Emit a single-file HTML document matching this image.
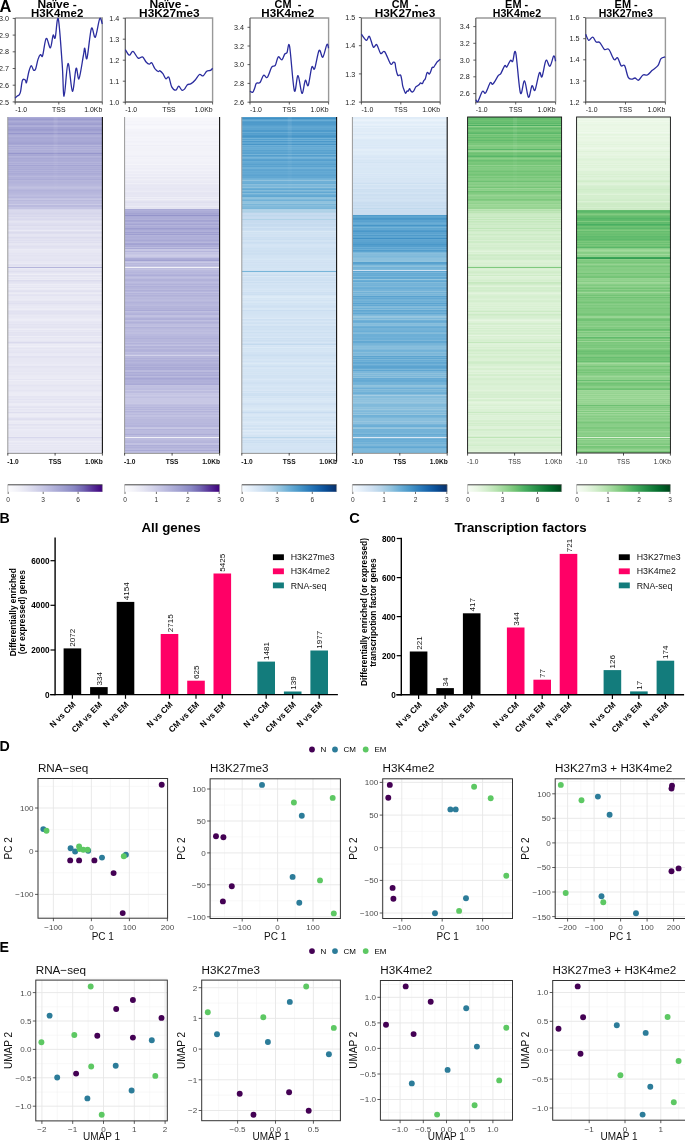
<!DOCTYPE html>
<html><head><meta charset="utf-8"><style>
html,body{margin:0;padding:0;background:#fff;}
svg{display:block;will-change:transform;}
</style></head><body>
<svg width="685" height="1142" viewBox="0 0 685 1142">
<rect width="685" height="1142" fill="#fff"/>
<text x="37.4" y="8.1" textLength="39.4" lengthAdjust="spacingAndGlyphs" font-weight="bold" font-size="10" font-family="Liberation Sans, sans-serif">Naïve -</text>
<text x="31.1" y="17.0" textLength="52.2" lengthAdjust="spacingAndGlyphs" font-weight="bold" font-size="10" font-family="Liberation Sans, sans-serif">H3K4me2</text>
<path d="M15.2,18.0 H102.3 V102.0" fill="none" stroke="#999" stroke-width="1.4"/>
<path d="M15.2,18.0 V102.0 H102.3" fill="none" stroke="#666" stroke-width="1.3"/>
<line x1="12.7" y1="18.4" x2="15.2" y2="18.4" stroke="#3a3a3a" stroke-width="0.8"/>
<text x="9.1" y="21.0" text-anchor="end" font-size="7.2" fill="#222" font-family="Liberation Sans, sans-serif">3.0</text>
<line x1="12.7" y1="35.1" x2="15.2" y2="35.1" stroke="#3a3a3a" stroke-width="0.8"/>
<text x="9.1" y="37.7" text-anchor="end" font-size="7.2" fill="#222" font-family="Liberation Sans, sans-serif">2.9</text>
<line x1="12.7" y1="51.8" x2="15.2" y2="51.8" stroke="#3a3a3a" stroke-width="0.8"/>
<text x="9.1" y="54.4" text-anchor="end" font-size="7.2" fill="#222" font-family="Liberation Sans, sans-serif">2.8</text>
<line x1="12.7" y1="68.5" x2="15.2" y2="68.5" stroke="#3a3a3a" stroke-width="0.8"/>
<text x="9.1" y="71.1" text-anchor="end" font-size="7.2" fill="#222" font-family="Liberation Sans, sans-serif">2.7</text>
<line x1="12.7" y1="85.2" x2="15.2" y2="85.2" stroke="#3a3a3a" stroke-width="0.8"/>
<text x="9.1" y="87.8" text-anchor="end" font-size="7.2" fill="#222" font-family="Liberation Sans, sans-serif">2.6</text>
<line x1="12.7" y1="101.9" x2="15.2" y2="101.9" stroke="#3a3a3a" stroke-width="0.8"/>
<text x="9.1" y="104.5" text-anchor="end" font-size="7.2" fill="#222" font-family="Liberation Sans, sans-serif">2.5</text>
<line x1="15.2" y1="102.0" x2="15.2" y2="104.5" stroke="#3a3a3a" stroke-width="0.8"/>
<line x1="58.8" y1="102.0" x2="58.8" y2="104.5" stroke="#3a3a3a" stroke-width="0.8"/>
<line x1="102.3" y1="102.0" x2="102.3" y2="104.5" stroke="#3a3a3a" stroke-width="0.8"/>
<text x="15.2" y="112.4" font-size="6.9" fill="#1a1a1a" font-family="Liberation Sans, sans-serif">-1.0</text>
<text x="58.8" y="112.4" text-anchor="middle" font-size="6.9" fill="#1a1a1a" font-family="Liberation Sans, sans-serif">TSS</text>
<text x="102.3" y="112.4" text-anchor="end" font-size="6.9" fill="#1a1a1a" font-family="Liberation Sans, sans-serif">1.0Kb</text>
<path d="M15.2,98.2 C15.5,97.8 16.7,96.6 17.3,96.1 C17.9,95.6 18.4,95.8 18.9,95.1 C19.4,94.4 19.9,94.4 20.5,91.9 C21.1,89.5 21.6,82.4 22.4,80.4 C23.2,78.4 24.5,79.6 25.2,79.9 C25.9,80.2 25.9,83.9 26.5,82.5 C27.1,81.1 28.1,74.3 28.9,71.5 C29.7,68.7 30.5,65.9 31.3,65.7 C32.1,65.5 32.9,69.7 33.6,70.2 C34.3,70.7 35.0,70.6 35.7,68.8 C36.4,67.0 37.2,61.8 38.0,59.4 C38.8,57.0 39.7,55.2 40.5,54.6 C41.3,54.0 41.6,58.4 42.6,55.7 C43.6,53.0 44.9,39.7 46.2,38.4 C47.5,37.1 49.2,48.3 50.4,47.8 C51.5,47.3 52.3,36.9 53.1,35.2 C53.9,33.5 54.3,40.5 55.2,37.8 C56.1,35.1 57.1,14.5 58.3,18.9 C59.5,23.3 61.2,51.3 62.2,64.2 C63.2,77.1 63.1,96.5 64.1,96.4 C65.1,96.3 66.6,64.4 68.0,63.5 C69.4,62.6 71.1,90.4 72.4,91.2 C73.8,92.0 75.0,70.4 76.1,68.3 C77.2,66.2 77.8,80.9 79.0,78.8 C80.2,76.7 82.4,60.6 83.4,55.5 C84.4,50.4 84.2,47.7 84.8,48.2 C85.4,48.7 85.9,61.7 87.0,58.4 C88.1,55.1 90.0,32.0 91.4,28.5 C92.8,25.0 93.9,38.8 95.3,37.2 C96.7,35.6 98.5,20.9 99.7,18.7 C100.9,16.5 101.9,23.2 102.3,24.1" fill="none" stroke="#2a2c9e" stroke-width="1.3" stroke-linejoin="round"/>
<text x="149.4" y="8.1" textLength="39.4" lengthAdjust="spacingAndGlyphs" font-weight="bold" font-size="10" font-family="Liberation Sans, sans-serif">Naïve -</text>
<text x="139.1" y="17.0" textLength="60.6" lengthAdjust="spacingAndGlyphs" font-weight="bold" font-size="10" font-family="Liberation Sans, sans-serif">H3K27me3</text>
<path d="M125.3,18.0 H212.6 V102.0" fill="none" stroke="#999" stroke-width="1.4"/>
<path d="M125.3,18.0 V102.0 H212.6" fill="none" stroke="#666" stroke-width="1.3"/>
<line x1="122.8" y1="18.2" x2="125.3" y2="18.2" stroke="#3a3a3a" stroke-width="0.8"/>
<text x="119.2" y="20.8" text-anchor="end" font-size="7.2" fill="#222" font-family="Liberation Sans, sans-serif">1.4</text>
<line x1="122.8" y1="39.2" x2="125.3" y2="39.2" stroke="#3a3a3a" stroke-width="0.8"/>
<text x="119.2" y="41.8" text-anchor="end" font-size="7.2" fill="#222" font-family="Liberation Sans, sans-serif">1.3</text>
<line x1="122.8" y1="60.2" x2="125.3" y2="60.2" stroke="#3a3a3a" stroke-width="0.8"/>
<text x="119.2" y="62.8" text-anchor="end" font-size="7.2" fill="#222" font-family="Liberation Sans, sans-serif">1.2</text>
<line x1="122.8" y1="81.2" x2="125.3" y2="81.2" stroke="#3a3a3a" stroke-width="0.8"/>
<text x="119.2" y="83.8" text-anchor="end" font-size="7.2" fill="#222" font-family="Liberation Sans, sans-serif">1.1</text>
<line x1="122.8" y1="102.2" x2="125.3" y2="102.2" stroke="#3a3a3a" stroke-width="0.8"/>
<text x="119.2" y="104.8" text-anchor="end" font-size="7.2" fill="#222" font-family="Liberation Sans, sans-serif">1.0</text>
<line x1="125.3" y1="102.0" x2="125.3" y2="104.5" stroke="#3a3a3a" stroke-width="0.8"/>
<line x1="168.9" y1="102.0" x2="168.9" y2="104.5" stroke="#3a3a3a" stroke-width="0.8"/>
<line x1="212.6" y1="102.0" x2="212.6" y2="104.5" stroke="#3a3a3a" stroke-width="0.8"/>
<text x="125.3" y="112.4" font-size="6.9" fill="#1a1a1a" font-family="Liberation Sans, sans-serif">-1.0</text>
<text x="168.9" y="112.4" text-anchor="middle" font-size="6.9" fill="#1a1a1a" font-family="Liberation Sans, sans-serif">TSS</text>
<text x="212.6" y="112.4" text-anchor="end" font-size="6.9" fill="#1a1a1a" font-family="Liberation Sans, sans-serif">1.0Kb</text>
<path d="M125.3,49.6 C126.0,50.5 128.0,54.9 129.3,55.2 C130.6,55.5 131.5,50.9 133.0,51.4 C134.5,51.9 136.5,57.2 138.1,58.1 C139.7,59.0 141.2,56.2 142.5,56.9 C143.8,57.5 145.0,60.8 146.1,62.0 C147.2,63.2 148.4,64.1 149.3,64.2 C150.2,64.3 150.8,62.1 151.7,62.8 C152.6,63.5 153.8,67.1 154.9,68.6 C156.0,70.0 157.2,71.1 158.1,71.5 C158.9,71.9 159.2,70.4 160.0,70.8 C160.8,71.2 161.9,72.4 162.9,73.7 C163.9,75.0 164.8,78.2 165.8,78.8 C166.8,79.4 167.8,75.8 168.8,77.1 C169.8,78.4 170.5,84.7 171.7,86.9 C172.9,89.1 174.6,90.3 175.8,90.2 C177.0,90.1 177.7,86.1 178.7,86.1 C179.7,86.1 180.9,89.7 181.9,90.2 C182.9,90.7 183.6,90.0 184.5,89.1 C185.4,88.2 186.4,85.6 187.4,84.7 C188.4,83.8 189.4,84.6 190.7,83.9 C192.0,83.2 193.6,81.9 195.0,80.3 C196.4,78.7 198.1,75.2 199.4,74.5 C200.8,73.8 201.9,76.5 203.1,75.9 C204.3,75.4 205.5,72.1 206.7,71.2 C207.9,70.3 209.4,70.9 210.4,70.4 C211.4,69.9 212.2,68.7 212.6,68.3" fill="none" stroke="#2a2c9e" stroke-width="1.3" stroke-linejoin="round"/>
<text x="274.6" y="8.1" textLength="26.7" lengthAdjust="spacingAndGlyphs" font-weight="bold" font-size="10" font-family="Liberation Sans, sans-serif">CM  -</text>
<text x="261.3" y="17.0" textLength="52.9" lengthAdjust="spacingAndGlyphs" font-weight="bold" font-size="10" font-family="Liberation Sans, sans-serif">H3K4me2</text>
<path d="M250.0,18.0 H328.6 V102.0" fill="none" stroke="#999" stroke-width="1.4"/>
<path d="M250.0,18.0 V102.0 H328.6" fill="none" stroke="#666" stroke-width="1.3"/>
<line x1="247.5" y1="27.3" x2="250.0" y2="27.3" stroke="#3a3a3a" stroke-width="0.8"/>
<text x="243.9" y="29.9" text-anchor="end" font-size="7.2" fill="#222" font-family="Liberation Sans, sans-serif">3.4</text>
<line x1="247.5" y1="46.0" x2="250.0" y2="46.0" stroke="#3a3a3a" stroke-width="0.8"/>
<text x="243.9" y="48.6" text-anchor="end" font-size="7.2" fill="#222" font-family="Liberation Sans, sans-serif">3.2</text>
<line x1="247.5" y1="64.6" x2="250.0" y2="64.6" stroke="#3a3a3a" stroke-width="0.8"/>
<text x="243.9" y="67.2" text-anchor="end" font-size="7.2" fill="#222" font-family="Liberation Sans, sans-serif">3.0</text>
<line x1="247.5" y1="83.4" x2="250.0" y2="83.4" stroke="#3a3a3a" stroke-width="0.8"/>
<text x="243.9" y="86.0" text-anchor="end" font-size="7.2" fill="#222" font-family="Liberation Sans, sans-serif">2.8</text>
<line x1="247.5" y1="102.2" x2="250.0" y2="102.2" stroke="#3a3a3a" stroke-width="0.8"/>
<text x="243.9" y="104.8" text-anchor="end" font-size="7.2" fill="#222" font-family="Liberation Sans, sans-serif">2.6</text>
<line x1="250.0" y1="102.0" x2="250.0" y2="104.5" stroke="#3a3a3a" stroke-width="0.8"/>
<line x1="289.3" y1="102.0" x2="289.3" y2="104.5" stroke="#3a3a3a" stroke-width="0.8"/>
<line x1="328.6" y1="102.0" x2="328.6" y2="104.5" stroke="#3a3a3a" stroke-width="0.8"/>
<text x="250.0" y="112.4" font-size="6.9" fill="#1a1a1a" font-family="Liberation Sans, sans-serif">-1.0</text>
<text x="289.3" y="112.4" text-anchor="middle" font-size="6.9" fill="#1a1a1a" font-family="Liberation Sans, sans-serif">TSS</text>
<text x="328.6" y="112.4" text-anchor="end" font-size="6.9" fill="#1a1a1a" font-family="Liberation Sans, sans-serif">1.0Kb</text>
<path d="M250.0,91.2 C250.4,91.4 251.9,92.9 252.7,92.3 C253.5,91.7 254.3,89.1 254.9,87.6 C255.5,86.1 255.5,84.0 256.4,83.2 C257.2,82.4 258.8,83.8 260.0,82.5 C261.2,81.2 262.4,76.0 263.6,75.2 C264.8,74.4 266.0,78.7 267.3,77.4 C268.6,76.1 270.4,69.2 271.7,67.2 C273.0,65.2 274.2,67.1 275.3,65.4 C276.4,63.7 277.1,57.8 278.2,56.9 C279.3,56.0 280.8,60.4 281.9,59.9 C283.0,59.4 283.9,55.2 284.8,54.0 C285.7,52.8 286.2,53.9 287.0,52.6 C287.8,51.3 288.4,40.1 289.6,46.4 C290.8,52.7 292.9,85.6 294.3,90.5 C295.7,95.4 296.7,75.1 298.0,75.6 C299.3,76.1 300.8,92.6 302.0,93.4 C303.2,94.2 304.3,81.6 305.3,80.3 C306.3,79.0 307.1,87.6 308.2,85.4 C309.3,83.2 310.7,70.0 311.8,67.2 C312.9,64.4 313.5,71.4 314.7,68.6 C315.9,65.8 317.8,52.3 319.1,50.4 C320.5,48.5 321.5,58.2 322.8,57.2 C324.1,56.2 325.9,46.0 326.9,44.5 C327.9,43.0 328.3,47.6 328.6,48.2" fill="none" stroke="#2a2c9e" stroke-width="1.3" stroke-linejoin="round"/>
<text x="391.7" y="8.1" textLength="26.6" lengthAdjust="spacingAndGlyphs" font-weight="bold" font-size="10" font-family="Liberation Sans, sans-serif">CM  -</text>
<text x="374.7" y="17.0" textLength="60.6" lengthAdjust="spacingAndGlyphs" font-weight="bold" font-size="10" font-family="Liberation Sans, sans-serif">H3K27me3</text>
<path d="M361.4,18.0 H440.2 V102.0" fill="none" stroke="#999" stroke-width="1.4"/>
<path d="M361.4,18.0 V102.0 H440.2" fill="none" stroke="#666" stroke-width="1.3"/>
<line x1="358.9" y1="17.5" x2="361.4" y2="17.5" stroke="#3a3a3a" stroke-width="0.8"/>
<text x="355.3" y="20.1" text-anchor="end" font-size="7.2" fill="#222" font-family="Liberation Sans, sans-serif">1.5</text>
<line x1="358.9" y1="45.7" x2="361.4" y2="45.7" stroke="#3a3a3a" stroke-width="0.8"/>
<text x="355.3" y="48.3" text-anchor="end" font-size="7.2" fill="#222" font-family="Liberation Sans, sans-serif">1.4</text>
<line x1="358.9" y1="73.9" x2="361.4" y2="73.9" stroke="#3a3a3a" stroke-width="0.8"/>
<text x="355.3" y="76.5" text-anchor="end" font-size="7.2" fill="#222" font-family="Liberation Sans, sans-serif">1.3</text>
<line x1="358.9" y1="102.1" x2="361.4" y2="102.1" stroke="#3a3a3a" stroke-width="0.8"/>
<text x="355.3" y="104.7" text-anchor="end" font-size="7.2" fill="#222" font-family="Liberation Sans, sans-serif">1.2</text>
<line x1="361.4" y1="102.0" x2="361.4" y2="104.5" stroke="#3a3a3a" stroke-width="0.8"/>
<line x1="400.8" y1="102.0" x2="400.8" y2="104.5" stroke="#3a3a3a" stroke-width="0.8"/>
<line x1="440.2" y1="102.0" x2="440.2" y2="104.5" stroke="#3a3a3a" stroke-width="0.8"/>
<text x="361.4" y="112.4" font-size="6.9" fill="#1a1a1a" font-family="Liberation Sans, sans-serif">-1.0</text>
<text x="400.8" y="112.4" text-anchor="middle" font-size="6.9" fill="#1a1a1a" font-family="Liberation Sans, sans-serif">TSS</text>
<text x="440.2" y="112.4" text-anchor="end" font-size="6.9" fill="#1a1a1a" font-family="Liberation Sans, sans-serif">1.0Kb</text>
<path d="M361.4,34.2 C362.2,35.2 365.0,39.9 366.3,40.3 C367.6,40.7 368.2,35.3 369.4,36.4 C370.6,37.5 372.1,45.6 373.3,47.0 C374.5,48.4 375.6,43.6 376.8,44.7 C378.0,45.8 379.3,52.2 380.6,53.4 C381.9,54.6 383.1,50.0 384.7,51.7 C386.3,53.5 389.1,62.1 390.5,63.9 C391.9,65.7 392.6,62.3 393.4,62.2 C394.1,62.1 394.6,62.2 395.0,63.1 C395.4,64.0 395.4,65.9 395.7,67.5 C396.0,69.1 396.4,71.3 396.8,72.6 C397.2,73.9 397.5,75.1 397.9,75.5 C398.3,75.9 398.9,75.2 399.4,75.2 C399.9,75.2 400.4,74.6 400.8,75.5 C401.2,76.4 401.6,79.0 401.9,80.7 C402.2,82.4 402.3,84.2 402.7,85.8 C403.1,87.4 403.6,88.8 404.1,90.1 C404.6,91.4 405.1,93.3 405.6,93.4 C406.1,93.5 406.6,91.3 407.0,90.9 C407.4,90.5 407.7,91.6 408.1,91.2 C408.5,90.8 409.2,88.8 409.6,88.7 C410.0,88.6 410.1,90.0 410.5,90.5 C410.9,91.0 411.7,91.9 412.2,92.0 C412.7,92.1 413.0,92.0 413.6,91.2 C414.2,90.4 415.1,87.8 415.8,86.9 C416.5,86.0 417.0,86.2 417.6,85.8 C418.2,85.4 419.0,84.8 419.5,84.3 C420.0,83.8 420.0,82.9 420.5,82.8 C421.0,82.7 421.8,83.9 422.4,83.6 C422.9,83.2 423.3,81.5 423.8,80.7 C424.3,79.9 424.8,80.2 425.3,78.8 C425.9,77.4 426.4,73.4 427.1,72.6 C427.8,71.8 428.7,74.3 429.3,74.1 C429.9,73.9 430.3,72.3 430.8,71.2 C431.3,70.1 431.7,68.2 432.2,67.5 C432.7,66.8 433.2,67.6 433.7,67.2 C434.2,66.8 434.5,65.9 435.1,65.0 C435.7,64.1 436.5,62.7 437.3,61.7 C438.1,60.8 439.7,59.7 440.2,59.3" fill="none" stroke="#2a2c9e" stroke-width="1.3" stroke-linejoin="round"/>
<text x="505.1" y="8.1" textLength="23.1" lengthAdjust="spacingAndGlyphs" font-weight="bold" font-size="10" font-family="Liberation Sans, sans-serif">EM -</text>
<text x="492.8" y="17.0" textLength="48.3" lengthAdjust="spacingAndGlyphs" font-weight="bold" font-size="10" font-family="Liberation Sans, sans-serif">H3K4me2</text>
<path d="M475.8,18.0 H555.6 V102.0" fill="none" stroke="#999" stroke-width="1.4"/>
<path d="M475.8,18.0 V102.0 H555.6" fill="none" stroke="#666" stroke-width="1.3"/>
<line x1="473.3" y1="26.6" x2="475.8" y2="26.6" stroke="#3a3a3a" stroke-width="0.8"/>
<text x="469.7" y="29.2" text-anchor="end" font-size="7.2" fill="#222" font-family="Liberation Sans, sans-serif">3.4</text>
<line x1="473.3" y1="43.3" x2="475.8" y2="43.3" stroke="#3a3a3a" stroke-width="0.8"/>
<text x="469.7" y="45.9" text-anchor="end" font-size="7.2" fill="#222" font-family="Liberation Sans, sans-serif">3.2</text>
<line x1="473.3" y1="60.1" x2="475.8" y2="60.1" stroke="#3a3a3a" stroke-width="0.8"/>
<text x="469.7" y="62.7" text-anchor="end" font-size="7.2" fill="#222" font-family="Liberation Sans, sans-serif">3.0</text>
<line x1="473.3" y1="76.8" x2="475.8" y2="76.8" stroke="#3a3a3a" stroke-width="0.8"/>
<text x="469.7" y="79.4" text-anchor="end" font-size="7.2" fill="#222" font-family="Liberation Sans, sans-serif">2.8</text>
<line x1="473.3" y1="93.6" x2="475.8" y2="93.6" stroke="#3a3a3a" stroke-width="0.8"/>
<text x="469.7" y="96.2" text-anchor="end" font-size="7.2" fill="#222" font-family="Liberation Sans, sans-serif">2.6</text>
<line x1="475.8" y1="102.0" x2="475.8" y2="104.5" stroke="#3a3a3a" stroke-width="0.8"/>
<line x1="515.7" y1="102.0" x2="515.7" y2="104.5" stroke="#3a3a3a" stroke-width="0.8"/>
<line x1="555.6" y1="102.0" x2="555.6" y2="104.5" stroke="#3a3a3a" stroke-width="0.8"/>
<text x="475.8" y="112.4" font-size="6.9" fill="#1a1a1a" font-family="Liberation Sans, sans-serif">-1.0</text>
<text x="515.7" y="112.4" text-anchor="middle" font-size="6.9" fill="#1a1a1a" font-family="Liberation Sans, sans-serif">TSS</text>
<text x="555.6" y="112.4" text-anchor="end" font-size="6.9" fill="#1a1a1a" font-family="Liberation Sans, sans-serif">1.0Kb</text>
<path d="M475.8,99.9 C476.2,100.1 476.9,102.7 478.0,101.3 C479.1,99.9 481.1,92.8 482.4,91.4 C483.7,90.0 484.3,94.4 485.6,92.9 C486.9,91.5 489.1,84.2 490.3,82.7 C491.5,81.2 491.6,85.3 492.9,84.1 C494.2,82.9 496.9,77.5 498.2,75.7 C499.5,74.0 499.7,75.3 500.8,73.6 C501.9,71.9 503.7,66.8 504.7,65.7 C505.7,64.6 505.9,67.8 506.9,66.9 C507.8,66.0 509.4,61.3 510.4,60.4 C511.4,59.5 511.8,62.6 512.7,61.3 C513.6,60.0 514.4,47.3 515.7,52.6 C517.0,57.9 518.9,88.2 520.4,92.9 C521.9,97.6 523.1,80.2 524.5,80.9 C525.9,81.6 527.2,96.4 528.5,97.2 C529.8,98.0 530.9,87.0 532.0,85.8 C533.1,84.6 533.8,92.4 535.0,90.2 C536.2,88.0 538.2,75.0 539.4,72.7 C540.6,70.5 540.9,78.8 542.0,76.7 C543.1,74.7 544.7,62.1 546.0,60.4 C547.3,58.6 548.6,66.9 549.9,66.2 C551.2,65.5 552.8,56.9 553.7,56.1 C554.7,55.3 555.3,60.4 555.6,61.3" fill="none" stroke="#2a2c9e" stroke-width="1.3" stroke-linejoin="round"/>
<text x="614.6" y="8.1" textLength="23.1" lengthAdjust="spacingAndGlyphs" font-weight="bold" font-size="10" font-family="Liberation Sans, sans-serif">EM -</text>
<text x="598.7" y="17.0" textLength="54.1" lengthAdjust="spacingAndGlyphs" font-weight="bold" font-size="10" font-family="Liberation Sans, sans-serif">H3K27me3</text>
<path d="M585.7,18.0 H665.4 V102.0" fill="none" stroke="#999" stroke-width="1.4"/>
<path d="M585.7,18.0 V102.0 H665.4" fill="none" stroke="#666" stroke-width="1.3"/>
<line x1="583.2" y1="17.5" x2="585.7" y2="17.5" stroke="#3a3a3a" stroke-width="0.8"/>
<text x="579.6" y="20.1" text-anchor="end" font-size="7.2" fill="#222" font-family="Liberation Sans, sans-serif">1.6</text>
<line x1="583.2" y1="38.7" x2="585.7" y2="38.7" stroke="#3a3a3a" stroke-width="0.8"/>
<text x="579.6" y="41.3" text-anchor="end" font-size="7.2" fill="#222" font-family="Liberation Sans, sans-serif">1.5</text>
<line x1="583.2" y1="59.8" x2="585.7" y2="59.8" stroke="#3a3a3a" stroke-width="0.8"/>
<text x="579.6" y="62.4" text-anchor="end" font-size="7.2" fill="#222" font-family="Liberation Sans, sans-serif">1.4</text>
<line x1="583.2" y1="81.0" x2="585.7" y2="81.0" stroke="#3a3a3a" stroke-width="0.8"/>
<text x="579.6" y="83.6" text-anchor="end" font-size="7.2" fill="#222" font-family="Liberation Sans, sans-serif">1.3</text>
<line x1="583.2" y1="102.1" x2="585.7" y2="102.1" stroke="#3a3a3a" stroke-width="0.8"/>
<text x="579.6" y="104.7" text-anchor="end" font-size="7.2" fill="#222" font-family="Liberation Sans, sans-serif">1.2</text>
<line x1="585.7" y1="102.0" x2="585.7" y2="104.5" stroke="#3a3a3a" stroke-width="0.8"/>
<line x1="625.5" y1="102.0" x2="625.5" y2="104.5" stroke="#3a3a3a" stroke-width="0.8"/>
<line x1="665.4" y1="102.0" x2="665.4" y2="104.5" stroke="#3a3a3a" stroke-width="0.8"/>
<text x="585.7" y="112.4" font-size="6.9" fill="#1a1a1a" font-family="Liberation Sans, sans-serif">-1.0</text>
<text x="625.5" y="112.4" text-anchor="middle" font-size="6.9" fill="#1a1a1a" font-family="Liberation Sans, sans-serif">TSS</text>
<text x="665.4" y="112.4" text-anchor="end" font-size="6.9" fill="#1a1a1a" font-family="Liberation Sans, sans-serif">1.0Kb</text>
<path d="M585.7,34.2 C586.2,35.2 587.5,39.8 588.7,40.3 C589.9,40.8 591.5,36.8 592.7,37.1 C594.0,37.4 595.0,41.1 596.2,42.0 C597.4,42.9 598.3,41.2 599.7,42.4 C601.1,43.6 602.9,48.2 604.4,49.4 C605.9,50.6 607.2,47.7 608.8,49.4 C610.4,51.1 612.6,58.2 614.1,59.6 C615.6,61.0 616.4,56.8 617.6,57.8 C618.8,58.8 619.9,64.4 621.1,65.7 C622.3,67.0 623.4,63.8 624.6,65.7 C625.8,67.6 626.9,74.8 628.1,77.1 C629.3,79.3 630.4,79.0 631.6,79.2 C632.8,79.4 633.9,77.8 635.1,78.0 C636.3,78.2 637.3,80.7 638.6,80.2 C639.9,79.7 641.5,75.9 643.0,75.0 C644.5,74.1 645.7,75.8 647.3,75.0 C648.9,74.2 650.8,71.6 652.6,70.1 C654.4,68.5 656.5,67.6 657.9,65.7 C659.3,63.8 659.8,60.2 661.0,58.7 C662.2,57.2 664.5,57.2 665.2,56.9" fill="none" stroke="#2a2c9e" stroke-width="1.3" stroke-linejoin="round"/>
<line x1="336.6" y1="453" x2="336.6" y2="461.6" stroke="#111" stroke-width="1.1"/>
<text x="-0.6" y="11.7" font-weight="bold" font-size="16.4" font-family="Liberation Sans, sans-serif">A</text>
<rect x="7.8" y="117" width="94.6" height="1" fill="#ababd7"/>
<rect x="7.8" y="118" width="94.6" height="1" fill="#a1a1d1"/>
<rect x="7.8" y="119" width="94.6" height="1" fill="#9b9bce"/>
<rect x="7.8" y="120" width="94.6" height="1" fill="#a5a5d3"/>
<rect x="7.8" y="121" width="94.6" height="1" fill="#adadd7"/>
<rect x="7.8" y="122" width="94.6" height="1" fill="#a6a6d4"/>
<rect x="7.8" y="123" width="94.6" height="1" fill="#a1a1d1"/>
<rect x="7.8" y="124" width="94.6" height="1" fill="#9d9dcf"/>
<rect x="7.8" y="125" width="94.6" height="1" fill="#acacd7"/>
<rect x="7.8" y="126" width="94.6" height="1" fill="#afafd9"/>
<rect x="7.8" y="127" width="94.6" height="1" fill="#a2a2d2"/>
<rect x="7.8" y="128" width="94.6" height="1" fill="#a2a2d2"/>
<rect x="7.8" y="129" width="94.6" height="1" fill="#9b9bce"/>
<rect x="7.8" y="130" width="94.6" height="1" fill="#9e9ed0"/>
<rect x="7.8" y="131" width="94.6" height="1" fill="#a6a6d4"/>
<rect x="7.8" y="132" width="94.6" height="1" fill="#a9a9d5"/>
<rect x="7.8" y="133" width="94.6" height="1" fill="#9696cc"/>
<rect x="7.8" y="134" width="94.6" height="1" fill="#a6a6d4"/>
<rect x="7.8" y="135" width="94.6" height="1" fill="#adadd7"/>
<rect x="7.8" y="136" width="94.6" height="1" fill="#b0b0d9"/>
<rect x="7.8" y="137" width="94.6" height="1" fill="#a9a9d5"/>
<rect x="7.8" y="138" width="94.6" height="1" fill="#a7a7d4"/>
<rect x="7.8" y="139" width="94.6" height="1" fill="#aaaad6"/>
<rect x="7.8" y="140" width="94.6" height="1" fill="#a9a9d6"/>
<rect x="7.8" y="141" width="94.6" height="1" fill="#a7a7d4"/>
<rect x="7.8" y="142" width="94.6" height="1" fill="#a4a4d3"/>
<rect x="7.8" y="143" width="94.6" height="1" fill="#a1a1d1"/>
<rect x="7.8" y="144" width="94.6" height="1" fill="#a7a7d4"/>
<rect x="7.8" y="145" width="94.6" height="1" fill="#b6b6dc"/>
<rect x="7.8" y="146" width="94.6" height="1" fill="#a8a8d5"/>
<rect x="7.8" y="147" width="94.6" height="1" fill="#b3b3da"/>
<rect x="7.8" y="148" width="94.6" height="1" fill="#adadd8"/>
<rect x="7.8" y="149" width="94.6" height="1" fill="#b5b5db"/>
<rect x="7.8" y="150" width="94.6" height="1" fill="#adadd7"/>
<rect x="7.8" y="151" width="94.6" height="1" fill="#b0b0d9"/>
<rect x="7.8" y="152" width="94.6" height="1" fill="#ababd6"/>
<rect x="7.8" y="153" width="94.6" height="1" fill="#9696cc"/>
<rect x="7.8" y="154" width="94.6" height="1" fill="#a9a9d5"/>
<rect x="7.8" y="155" width="94.6" height="1" fill="#a7a7d4"/>
<rect x="7.8" y="156" width="94.6" height="1" fill="#b4b4db"/>
<rect x="7.8" y="157" width="94.6" height="1" fill="#b0b0d9"/>
<rect x="7.8" y="158" width="94.6" height="1" fill="#a9a9d5"/>
<rect x="7.8" y="159" width="94.6" height="1" fill="#adadd8"/>
<rect x="7.8" y="160" width="94.6" height="1" fill="#ababd7"/>
<rect x="7.8" y="161" width="94.6" height="1" fill="#adadd7"/>
<rect x="7.8" y="162" width="94.6" height="1" fill="#b4b4db"/>
<rect x="7.8" y="163" width="94.6" height="1" fill="#acacd7"/>
<rect x="7.8" y="164" width="94.6" height="1" fill="#b3b3db"/>
<rect x="7.8" y="165" width="94.6" height="1" fill="#a4a4d3"/>
<rect x="7.8" y="166" width="94.6" height="1" fill="#b0b0d9"/>
<rect x="7.8" y="167" width="94.6" height="1" fill="#acacd7"/>
<rect x="7.8" y="168" width="94.6" height="1" fill="#afafd8"/>
<rect x="7.8" y="169" width="94.6" height="1" fill="#aaaad6"/>
<rect x="7.8" y="170" width="94.6" height="1" fill="#b3b3db"/>
<rect x="7.8" y="171" width="94.6" height="1" fill="#ababd7"/>
<rect x="7.8" y="172" width="94.6" height="1" fill="#b1b1da"/>
<rect x="7.8" y="173" width="94.6" height="1" fill="#aaaad6"/>
<rect x="7.8" y="174" width="94.6" height="1" fill="#adadd8"/>
<rect x="7.8" y="175" width="94.6" height="1" fill="#b1b1da"/>
<rect x="7.8" y="176" width="94.6" height="1" fill="#b8b8dd"/>
<rect x="7.8" y="177" width="94.6" height="1" fill="#b0b0d9"/>
<rect x="7.8" y="178" width="94.6" height="1" fill="#b1b1da"/>
<rect x="7.8" y="179" width="94.6" height="1" fill="#ababd6"/>
<rect x="7.8" y="180" width="94.6" height="1" fill="#b7b7dc"/>
<rect x="7.8" y="181" width="94.6" height="1" fill="#b4b4db"/>
<rect x="7.8" y="182" width="94.6" height="1" fill="#b3b3db"/>
<rect x="7.8" y="183" width="94.6" height="1" fill="#b5b5dc"/>
<rect x="7.8" y="184" width="94.6" height="1" fill="#b7b7dc"/>
<rect x="7.8" y="185" width="94.6" height="1" fill="#b8b8dd"/>
<rect x="7.8" y="186" width="94.6" height="1" fill="#bdbddf"/>
<rect x="7.8" y="187" width="94.6" height="1" fill="#c1c1e1"/>
<rect x="7.8" y="188" width="94.6" height="1" fill="#bebee0"/>
<rect x="7.8" y="189" width="94.6" height="1" fill="#b8b8dd"/>
<rect x="7.8" y="190" width="94.6" height="1" fill="#b2b2da"/>
<rect x="7.8" y="191" width="94.6" height="1" fill="#b5b5dc"/>
<rect x="7.8" y="192" width="94.6" height="1" fill="#b6b6dc"/>
<rect x="7.8" y="193" width="94.6" height="1" fill="#b8b8dd"/>
<rect x="7.8" y="194" width="94.6" height="1" fill="#babade"/>
<rect x="7.8" y="195" width="94.6" height="1" fill="#bebee0"/>
<rect x="7.8" y="196" width="94.6" height="1" fill="#bbbbdf"/>
<rect x="7.8" y="197" width="94.6" height="1" fill="#b6b6dc"/>
<rect x="7.8" y="198" width="94.6" height="1" fill="#c2c2e2"/>
<rect x="7.8" y="199" width="94.6" height="1" fill="#c6c6e4"/>
<rect x="7.8" y="200" width="94.6" height="1" fill="#b9b9dd"/>
<rect x="7.8" y="201" width="94.6" height="1" fill="#c0c0e1"/>
<rect x="7.8" y="202" width="94.6" height="1" fill="#bfbfe0"/>
<rect x="7.8" y="203" width="94.6" height="1" fill="#bfbfe1"/>
<rect x="7.8" y="204" width="94.6" height="1" fill="#cbcbe6"/>
<rect x="7.8" y="205" width="94.6" height="1" fill="#babade"/>
<rect x="7.8" y="206" width="94.6" height="1" fill="#bbbbdf"/>
<rect x="7.8" y="207" width="94.6" height="1" fill="#c5c5e4"/>
<rect x="7.8" y="208" width="94.6" height="1" fill="#c4c4e3"/>
<rect x="7.8" y="209" width="94.6" height="1" fill="#d4d4eb"/>
<rect x="7.8" y="210" width="94.6" height="1" fill="#dadaed"/>
<rect x="7.8" y="211" width="94.6" height="1" fill="#d9d9ed"/>
<rect x="7.8" y="212" width="94.6" height="1" fill="#d8d8ec"/>
<rect x="7.8" y="213" width="94.6" height="1" fill="#d5d5eb"/>
<rect x="7.8" y="214" width="94.6" height="1" fill="#d8d8ec"/>
<rect x="7.8" y="215" width="94.6" height="1" fill="#dbdbee"/>
<rect x="7.8" y="216" width="94.6" height="1" fill="#d7d7ec"/>
<rect x="7.8" y="217" width="94.6" height="1" fill="#dfdfef"/>
<rect x="7.8" y="218" width="94.6" height="1" fill="#dbdbee"/>
<rect x="7.8" y="219" width="94.6" height="1" fill="#d9d9ed"/>
<rect x="7.8" y="220" width="94.6" height="1" fill="#dfdfef"/>
<rect x="7.8" y="221" width="94.6" height="1" fill="#e5e5f2"/>
<rect x="7.8" y="222" width="94.6" height="1" fill="#e3e3f1"/>
<rect x="7.8" y="223" width="94.6" height="1" fill="#dfdff0"/>
<rect x="7.8" y="224" width="94.6" height="1" fill="#dedeef"/>
<rect x="7.8" y="225" width="94.6" height="1" fill="#dbdbed"/>
<rect x="7.8" y="226" width="94.6" height="1" fill="#e3e3f1"/>
<rect x="7.8" y="227" width="94.6" height="1" fill="#e2e2f1"/>
<rect x="7.8" y="228" width="94.6" height="1" fill="#dfdff0"/>
<rect x="7.8" y="229" width="94.6" height="1" fill="#e2e2f1"/>
<rect x="7.8" y="230" width="94.6" height="1" fill="#eaeaf5"/>
<rect x="7.8" y="231" width="94.6" height="1" fill="#e1e1f0"/>
<rect x="7.8" y="232" width="94.6" height="1" fill="#dbdbed"/>
<rect x="7.8" y="233" width="94.6" height="1" fill="#dedeef"/>
<rect x="7.8" y="234" width="94.6" height="1" fill="#e5e5f2"/>
<rect x="7.8" y="235" width="94.6" height="1" fill="#e5e5f2"/>
<rect x="7.8" y="236" width="94.6" height="1" fill="#e3e3f1"/>
<rect x="7.8" y="237" width="94.6" height="1" fill="#dcdcee"/>
<rect x="7.8" y="238" width="94.6" height="1" fill="#e0e0f0"/>
<rect x="7.8" y="239" width="94.6" height="1" fill="#e3e3f1"/>
<rect x="7.8" y="240" width="94.6" height="1" fill="#dfdff0"/>
<rect x="7.8" y="241" width="94.6" height="1" fill="#e4e4f2"/>
<rect x="7.8" y="242" width="94.6" height="1" fill="#dfdfef"/>
<rect x="7.8" y="243" width="94.6" height="1" fill="#e6e6f3"/>
<rect x="7.8" y="244" width="94.6" height="1" fill="#e7e7f3"/>
<rect x="7.8" y="245" width="94.6" height="1" fill="#e3e3f1"/>
<rect x="7.8" y="246" width="94.6" height="1" fill="#e0e0f0"/>
<rect x="7.8" y="247" width="94.6" height="1" fill="#e2e2f1"/>
<rect x="7.8" y="248" width="94.6" height="1" fill="#e4e4f2"/>
<rect x="7.8" y="249" width="94.6" height="1" fill="#ebebf5"/>
<rect x="7.8" y="250" width="94.6" height="1" fill="#e8e8f4"/>
<rect x="7.8" y="251" width="94.6" height="1" fill="#e8e8f3"/>
<rect x="7.8" y="252" width="94.6" height="1" fill="#e7e7f3"/>
<rect x="7.8" y="253" width="94.6" height="1" fill="#e4e4f2"/>
<rect x="7.8" y="254" width="94.6" height="1" fill="#e6e6f3"/>
<rect x="7.8" y="255" width="94.6" height="1" fill="#e3e3f1"/>
<rect x="7.8" y="256" width="94.6" height="1" fill="#e5e5f2"/>
<rect x="7.8" y="257" width="94.6" height="1" fill="#e6e6f3"/>
<rect x="7.8" y="258" width="94.6" height="1" fill="#e5e5f2"/>
<rect x="7.8" y="259" width="94.6" height="1" fill="#e4e4f2"/>
<rect x="7.8" y="260" width="94.6" height="1" fill="#e3e3f1"/>
<rect x="7.8" y="261" width="94.6" height="1" fill="#e7e7f3"/>
<rect x="7.8" y="262" width="94.6" height="1" fill="#e7e7f3"/>
<rect x="7.8" y="263" width="94.6" height="1" fill="#eaeaf5"/>
<rect x="7.8" y="264" width="94.6" height="1" fill="#e1e1f1"/>
<rect x="7.8" y="265" width="94.6" height="1" fill="#e0e0f0"/>
<rect x="7.8" y="266" width="94.6" height="1" fill="#e5e5f2"/>
<rect x="7.8" y="267" width="94.6" height="1" fill="#b4b4db"/>
<rect x="7.8" y="268" width="94.6" height="1" fill="#eaeaf5"/>
<rect x="7.8" y="269" width="94.6" height="1" fill="#e6e6f3"/>
<rect x="7.8" y="270" width="94.6" height="1" fill="#e5e5f2"/>
<rect x="7.8" y="271" width="94.6" height="1" fill="#dfdfef"/>
<rect x="7.8" y="272" width="94.6" height="1" fill="#e4e4f2"/>
<rect x="7.8" y="273" width="94.6" height="1" fill="#e8e8f4"/>
<rect x="7.8" y="274" width="94.6" height="1" fill="#eeeef6"/>
<rect x="7.8" y="275" width="94.6" height="1" fill="#e3e3f1"/>
<rect x="7.8" y="276" width="94.6" height="1" fill="#e5e5f2"/>
<rect x="7.8" y="277" width="94.6" height="1" fill="#ebebf5"/>
<rect x="7.8" y="278" width="94.6" height="1" fill="#e6e6f3"/>
<rect x="7.8" y="279" width="94.6" height="1" fill="#ebebf5"/>
<rect x="7.8" y="280" width="94.6" height="1" fill="#dcdcee"/>
<rect x="7.8" y="281" width="94.6" height="1" fill="#e1e1f0"/>
<rect x="7.8" y="282" width="94.6" height="1" fill="#e4e4f2"/>
<rect x="7.8" y="283" width="94.6" height="1" fill="#e6e6f3"/>
<rect x="7.8" y="284" width="94.6" height="1" fill="#ededf6"/>
<rect x="7.8" y="285" width="94.6" height="1" fill="#e8e8f4"/>
<rect x="7.8" y="286" width="94.6" height="1" fill="#ebebf5"/>
<rect x="7.8" y="287" width="94.6" height="1" fill="#e5e5f2"/>
<rect x="7.8" y="288" width="94.6" height="1" fill="#ededf6"/>
<rect x="7.8" y="289" width="94.6" height="1" fill="#eaeaf5"/>
<rect x="7.8" y="290" width="94.6" height="1" fill="#e3e3f1"/>
<rect x="7.8" y="291" width="94.6" height="1" fill="#e1e1f0"/>
<rect x="7.8" y="292" width="94.6" height="1" fill="#e9e9f4"/>
<rect x="7.8" y="293" width="94.6" height="1" fill="#ececf5"/>
<rect x="7.8" y="294" width="94.6" height="1" fill="#e5e5f2"/>
<rect x="7.8" y="295" width="94.6" height="1" fill="#e3e3f2"/>
<rect x="7.8" y="296" width="94.6" height="1" fill="#e9e9f4"/>
<rect x="7.8" y="297" width="94.6" height="1" fill="#e9e9f4"/>
<rect x="7.8" y="298" width="94.6" height="1" fill="#e9e9f4"/>
<rect x="7.8" y="299" width="94.6" height="1" fill="#ebebf5"/>
<rect x="7.8" y="300" width="94.6" height="1" fill="#e9e9f4"/>
<rect x="7.8" y="301" width="94.6" height="1" fill="#e3e3f1"/>
<rect x="7.8" y="302" width="94.6" height="1" fill="#e4e4f2"/>
<rect x="7.8" y="303" width="94.6" height="1" fill="#e0e0f0"/>
<rect x="7.8" y="304" width="94.6" height="1" fill="#e6e6f3"/>
<rect x="7.8" y="305" width="94.6" height="1" fill="#e7e7f3"/>
<rect x="7.8" y="306" width="94.6" height="1" fill="#eaeaf5"/>
<rect x="7.8" y="307" width="94.6" height="1" fill="#e8e8f4"/>
<rect x="7.8" y="308" width="94.6" height="1" fill="#ebebf5"/>
<rect x="7.8" y="309" width="94.6" height="1" fill="#ededf6"/>
<rect x="7.8" y="310" width="94.6" height="1" fill="#e6e6f3"/>
<rect x="7.8" y="311" width="94.6" height="1" fill="#e2e2f1"/>
<rect x="7.8" y="312" width="94.6" height="1" fill="#e3e3f2"/>
<rect x="7.8" y="313" width="94.6" height="1" fill="#e2e2f1"/>
<rect x="7.8" y="314" width="94.6" height="1" fill="#e5e5f2"/>
<rect x="7.8" y="315" width="94.6" height="1" fill="#e9e9f4"/>
<rect x="7.8" y="316" width="94.6" height="1" fill="#e7e7f3"/>
<rect x="7.8" y="317" width="94.6" height="1" fill="#e8e8f4"/>
<rect x="7.8" y="318" width="94.6" height="1" fill="#eaeaf5"/>
<rect x="7.8" y="319" width="94.6" height="1" fill="#ededf6"/>
<rect x="7.8" y="320" width="94.6" height="1" fill="#ececf6"/>
<rect x="7.8" y="321" width="94.6" height="1" fill="#e8e8f4"/>
<rect x="7.8" y="322" width="94.6" height="1" fill="#e6e6f3"/>
<rect x="7.8" y="323" width="94.6" height="1" fill="#e8e8f4"/>
<rect x="7.8" y="324" width="94.6" height="1" fill="#e3e3f1"/>
<rect x="7.8" y="325" width="94.6" height="1" fill="#e6e6f3"/>
<rect x="7.8" y="326" width="94.6" height="1" fill="#e5e5f2"/>
<rect x="7.8" y="327" width="94.6" height="1" fill="#e3e3f1"/>
<rect x="7.8" y="328" width="94.6" height="1" fill="#e9e9f4"/>
<rect x="7.8" y="329" width="94.6" height="1" fill="#ededf6"/>
<rect x="7.8" y="330" width="94.6" height="1" fill="#e6e6f3"/>
<rect x="7.8" y="331" width="94.6" height="1" fill="#e9e9f4"/>
<rect x="7.8" y="332" width="94.6" height="1" fill="#e3e3f1"/>
<rect x="7.8" y="333" width="94.6" height="1" fill="#e5e5f2"/>
<rect x="7.8" y="334" width="94.6" height="1" fill="#e4e4f2"/>
<rect x="7.8" y="335" width="94.6" height="1" fill="#e4e4f2"/>
<rect x="7.8" y="336" width="94.6" height="1" fill="#ededf6"/>
<rect x="7.8" y="337" width="94.6" height="1" fill="#e6e6f3"/>
<rect x="7.8" y="338" width="94.6" height="1" fill="#e9e9f4"/>
<rect x="7.8" y="339" width="94.6" height="1" fill="#eaeaf4"/>
<rect x="7.8" y="340" width="94.6" height="1" fill="#e9e9f4"/>
<rect x="7.8" y="341" width="94.6" height="1" fill="#e5e5f2"/>
<rect x="7.8" y="342" width="94.6" height="1" fill="#dadaed"/>
<rect x="7.8" y="343" width="94.6" height="1" fill="#e4e4f2"/>
<rect x="7.8" y="344" width="94.6" height="1" fill="#ececf5"/>
<rect x="7.8" y="345" width="94.6" height="1" fill="#eaeaf5"/>
<rect x="7.8" y="346" width="94.6" height="1" fill="#efeff7"/>
<rect x="7.8" y="347" width="94.6" height="1" fill="#e9e9f4"/>
<rect x="7.8" y="348" width="94.6" height="1" fill="#e5e5f2"/>
<rect x="7.8" y="349" width="94.6" height="1" fill="#e9e9f4"/>
<rect x="7.8" y="350" width="94.6" height="1" fill="#e7e7f3"/>
<rect x="7.8" y="351" width="94.6" height="1" fill="#e6e6f3"/>
<rect x="7.8" y="352" width="94.6" height="1" fill="#e4e4f2"/>
<rect x="7.8" y="353" width="94.6" height="1" fill="#e9e9f4"/>
<rect x="7.8" y="354" width="94.6" height="1" fill="#eaeaf5"/>
<rect x="7.8" y="355" width="94.6" height="1" fill="#eaeaf5"/>
<rect x="7.8" y="356" width="94.6" height="1" fill="#e2e2f1"/>
<rect x="7.8" y="357" width="94.6" height="1" fill="#e3e3f1"/>
<rect x="7.8" y="358" width="94.6" height="1" fill="#e7e7f3"/>
<rect x="7.8" y="359" width="94.6" height="1" fill="#e7e7f3"/>
<rect x="7.8" y="360" width="94.6" height="1" fill="#e7e7f3"/>
<rect x="7.8" y="361" width="94.6" height="1" fill="#e7e7f3"/>
<rect x="7.8" y="362" width="94.6" height="1" fill="#e8e8f4"/>
<rect x="7.8" y="363" width="94.6" height="1" fill="#e8e8f4"/>
<rect x="7.8" y="364" width="94.6" height="1" fill="#ebebf5"/>
<rect x="7.8" y="365" width="94.6" height="1" fill="#eaeaf5"/>
<rect x="7.8" y="366" width="94.6" height="1" fill="#e3e3f1"/>
<rect x="7.8" y="367" width="94.6" height="1" fill="#e5e5f2"/>
<rect x="7.8" y="368" width="94.6" height="1" fill="#e7e7f3"/>
<rect x="7.8" y="369" width="94.6" height="1" fill="#e8e8f4"/>
<rect x="7.8" y="370" width="94.6" height="1" fill="#e7e7f3"/>
<rect x="7.8" y="371" width="94.6" height="1" fill="#e6e6f3"/>
<rect x="7.8" y="372" width="94.6" height="1" fill="#e9e9f4"/>
<rect x="7.8" y="373" width="94.6" height="1" fill="#e7e7f3"/>
<rect x="7.8" y="374" width="94.6" height="1" fill="#e7e7f3"/>
<rect x="7.8" y="375" width="94.6" height="1" fill="#eaeaf4"/>
<rect x="7.8" y="376" width="94.6" height="1" fill="#eaeaf5"/>
<rect x="7.8" y="377" width="94.6" height="1" fill="#ebebf5"/>
<rect x="7.8" y="378" width="94.6" height="1" fill="#ebebf5"/>
<rect x="7.8" y="379" width="94.6" height="1" fill="#e5e5f2"/>
<rect x="7.8" y="380" width="94.6" height="1" fill="#eeeef7"/>
<rect x="7.8" y="381" width="94.6" height="1" fill="#e9e9f4"/>
<rect x="7.8" y="382" width="94.6" height="1" fill="#e9e9f4"/>
<rect x="7.8" y="383" width="94.6" height="1" fill="#eaeaf4"/>
<rect x="7.8" y="384" width="94.6" height="1" fill="#e8e8f3"/>
<rect x="7.8" y="385" width="94.6" height="1" fill="#e4e4f2"/>
<rect x="7.8" y="386" width="94.6" height="1" fill="#e7e7f3"/>
<rect x="7.8" y="387" width="94.6" height="1" fill="#e8e8f4"/>
<rect x="7.8" y="388" width="94.6" height="1" fill="#e9e9f4"/>
<rect x="7.8" y="389" width="94.6" height="1" fill="#e8e8f4"/>
<rect x="7.8" y="390" width="94.6" height="1" fill="#e5e5f2"/>
<rect x="7.8" y="391" width="94.6" height="1" fill="#e8e8f4"/>
<rect x="7.8" y="392" width="94.6" height="1" fill="#ebebf5"/>
<rect x="7.8" y="393" width="94.6" height="1" fill="#ececf6"/>
<rect x="7.8" y="394" width="94.6" height="1" fill="#ececf5"/>
<rect x="7.8" y="395" width="94.6" height="1" fill="#ececf6"/>
<rect x="7.8" y="396" width="94.6" height="1" fill="#e5e5f2"/>
<rect x="7.8" y="397" width="94.6" height="1" fill="#e6e6f3"/>
<rect x="7.8" y="398" width="94.6" height="1" fill="#e8e8f4"/>
<rect x="7.8" y="399" width="94.6" height="1" fill="#e3e3f2"/>
<rect x="7.8" y="400" width="94.6" height="1" fill="#e9e9f4"/>
<rect x="7.8" y="401" width="94.6" height="1" fill="#e6e6f3"/>
<rect x="7.8" y="402" width="94.6" height="1" fill="#e5e5f2"/>
<rect x="7.8" y="403" width="94.6" height="1" fill="#ececf6"/>
<rect x="7.8" y="404" width="94.6" height="1" fill="#ededf6"/>
<rect x="7.8" y="405" width="94.6" height="1" fill="#ebebf5"/>
<rect x="7.8" y="406" width="94.6" height="1" fill="#e5e5f2"/>
<rect x="7.8" y="407" width="94.6" height="1" fill="#e3e3f1"/>
<rect x="7.8" y="408" width="94.6" height="1" fill="#ebebf5"/>
<rect x="7.8" y="409" width="94.6" height="1" fill="#e5e5f2"/>
<rect x="7.8" y="410" width="94.6" height="1" fill="#e8e8f4"/>
<rect x="7.8" y="411" width="94.6" height="1" fill="#e9e9f4"/>
<rect x="7.8" y="412" width="94.6" height="1" fill="#dedeef"/>
<rect x="7.8" y="413" width="94.6" height="1" fill="#e9e9f4"/>
<rect x="7.8" y="414" width="94.6" height="1" fill="#ededf6"/>
<rect x="7.8" y="415" width="94.6" height="1" fill="#ececf5"/>
<rect x="7.8" y="416" width="94.6" height="1" fill="#ececf6"/>
<rect x="7.8" y="417" width="94.6" height="1" fill="#e7e7f3"/>
<rect x="7.8" y="418" width="94.6" height="1" fill="#e1e1f1"/>
<rect x="7.8" y="419" width="94.6" height="1" fill="#dfdfef"/>
<rect x="7.8" y="420" width="94.6" height="1" fill="#e7e7f3"/>
<rect x="7.8" y="421" width="94.6" height="1" fill="#ededf6"/>
<rect x="7.8" y="422" width="94.6" height="1" fill="#eaeaf5"/>
<rect x="7.8" y="423" width="94.6" height="1" fill="#ebebf5"/>
<rect x="7.8" y="424" width="94.6" height="1" fill="#e2e2f1"/>
<rect x="7.8" y="425" width="94.6" height="1" fill="#e5e5f2"/>
<rect x="7.8" y="426" width="94.6" height="1" fill="#eaeaf5"/>
<rect x="7.8" y="427" width="94.6" height="1" fill="#e6e6f3"/>
<rect x="7.8" y="428" width="94.6" height="1" fill="#e6e6f3"/>
<rect x="7.8" y="429" width="94.6" height="1" fill="#ececf6"/>
<rect x="7.8" y="430" width="94.6" height="1" fill="#eaeaf5"/>
<rect x="7.8" y="431" width="94.6" height="1" fill="#e9e9f4"/>
<rect x="7.8" y="432" width="94.6" height="1" fill="#e8e8f4"/>
<rect x="7.8" y="433" width="94.6" height="1" fill="#e8e8f3"/>
<rect x="7.8" y="434" width="94.6" height="1" fill="#e9e9f4"/>
<rect x="7.8" y="435" width="94.6" height="1" fill="#e8e8f3"/>
<rect x="7.8" y="436" width="94.6" height="1" fill="#eaeaf4"/>
<rect x="7.8" y="437" width="94.6" height="1" fill="#d7d7ec"/>
<rect x="7.8" y="438" width="94.6" height="1" fill="#e4e4f2"/>
<rect x="7.8" y="439" width="94.6" height="1" fill="#e6e6f3"/>
<rect x="7.8" y="440" width="94.6" height="1" fill="#e7e7f3"/>
<rect x="7.8" y="441" width="94.6" height="1" fill="#ededf6"/>
<rect x="7.8" y="442" width="94.6" height="1" fill="#e9e9f4"/>
<rect x="7.8" y="443" width="94.6" height="1" fill="#e6e6f3"/>
<rect x="7.8" y="444" width="94.6" height="1" fill="#ebebf5"/>
<rect x="7.8" y="445" width="94.6" height="1" fill="#e6e6f3"/>
<rect x="7.8" y="446" width="94.6" height="1" fill="#e9e9f4"/>
<rect x="7.8" y="447" width="94.6" height="1" fill="#e7e7f3"/>
<rect x="7.8" y="448" width="94.6" height="1" fill="#e8e8f4"/>
<rect x="7.8" y="449" width="94.6" height="1" fill="#e8e8f3"/>
<rect x="7.8" y="450" width="94.6" height="1" fill="#e4e4f2"/>
<rect x="7.8" y="451" width="94.6" height="1" fill="#e9e9f4"/>
<rect x="7.8" y="452" width="94.6" height="1" fill="#e4e4f2"/>
<linearGradient id="g11" x1="0" y1="0" x2="0" y2="1"><stop offset="0" stop-color="#fff" stop-opacity="0.08"/><stop offset="1" stop-color="#fff" stop-opacity="0"/></linearGradient>
<rect x="53.6" y="117" width="4" height="83" fill="url(#g11)"/>
<line x1="7.8" y1="117" x2="7.8" y2="453" stroke="#999" stroke-width="1"/>
<line x1="7.8" y1="453.4" x2="102.4" y2="453.4" stroke="#888" stroke-width="0.9"/>
<line x1="102.4" y1="117" x2="102.4" y2="453" stroke="#111" stroke-width="1.1"/>
<line x1="7.8" y1="453" x2="7.8" y2="455.6" stroke="#222" stroke-width="0.8"/>
<line x1="55.1" y1="453" x2="55.1" y2="455.6" stroke="#222" stroke-width="0.8"/>
<line x1="102.4" y1="453" x2="102.4" y2="455.6" stroke="#222" stroke-width="0.8"/>
<text x="7.3" y="464.2" font-weight="bold" font-size="6.6" fill="#111" font-family="Liberation Sans, sans-serif">-1.0</text>
<text x="55.1" y="464.2" text-anchor="middle" font-weight="bold" font-size="6.6" fill="#111" font-family="Liberation Sans, sans-serif">TSS</text>
<text x="102.9" y="464.2" text-anchor="end" font-weight="bold" font-size="6.6" fill="#111" font-family="Liberation Sans, sans-serif">1.0Kb</text>
<linearGradient id="cb0"><stop offset="0.0" stop-color="#fcfcfe"/><stop offset="0.1" stop-color="#f2f2f8"/><stop offset="0.2" stop-color="#e4e4f2"/><stop offset="0.3" stop-color="#d3d3ea"/><stop offset="0.4" stop-color="#c1c1e2"/><stop offset="0.5" stop-color="#aeaed8"/><stop offset="0.6" stop-color="#9c9cce"/><stop offset="0.7" stop-color="#8987c4"/><stop offset="0.8" stop-color="#7062b0"/><stop offset="0.9" stop-color="#552e96"/><stop offset="1.0" stop-color="#3f007d"/></linearGradient>
<rect x="7.8" y="484.8" width="94.6" height="7.0" fill="url(#cb0)"/>
<line x1="7.8" y1="484.8" x2="102.4" y2="484.8" stroke="#333" stroke-width="0.9"/>
<line x1="7.8" y1="484.8" x2="7.8" y2="491.8" stroke="#999" stroke-width="0.6"/>
<line x1="102.4" y1="484.8" x2="102.4" y2="491.8" stroke="#999" stroke-width="0.6"/>
<line x1="8.2" y1="491.8" x2="8.2" y2="494.0" stroke="#333" stroke-width="0.7"/>
<text x="8.2" y="501.5" text-anchor="middle" font-size="6.6" fill="#333" font-family="Liberation Sans, sans-serif">0</text>
<line x1="43.2" y1="491.8" x2="43.2" y2="494.0" stroke="#333" stroke-width="0.7"/>
<text x="43.2" y="501.5" text-anchor="middle" font-size="6.6" fill="#333" font-family="Liberation Sans, sans-serif">3</text>
<line x1="78.1" y1="491.8" x2="78.1" y2="494.0" stroke="#333" stroke-width="0.7"/>
<text x="78.1" y="501.5" text-anchor="middle" font-size="6.6" fill="#333" font-family="Liberation Sans, sans-serif">6</text>
<rect x="124.6" y="117" width="95.0" height="1" fill="#f9f9fd"/>
<rect x="124.6" y="118" width="95.0" height="1" fill="#f7f7fb"/>
<rect x="124.6" y="119" width="95.0" height="1" fill="#f7f7fb"/>
<rect x="124.6" y="120" width="95.0" height="1" fill="#f7f7fb"/>
<rect x="124.6" y="121" width="95.0" height="1" fill="#f5f5fa"/>
<rect x="124.6" y="122" width="95.0" height="1" fill="#f6f6fb"/>
<rect x="124.6" y="123" width="95.0" height="1" fill="#f6f6fb"/>
<rect x="124.6" y="124" width="95.0" height="1" fill="#f3f3f9"/>
<rect x="124.6" y="125" width="95.0" height="1" fill="#f6f6fb"/>
<rect x="124.6" y="126" width="95.0" height="1" fill="#f8f8fc"/>
<rect x="124.6" y="127" width="95.0" height="1" fill="#f8f8fc"/>
<rect x="124.6" y="128" width="95.0" height="1" fill="#f7f7fb"/>
<rect x="124.6" y="129" width="95.0" height="1" fill="#f4f4fa"/>
<rect x="124.6" y="130" width="95.0" height="1" fill="#f4f4fa"/>
<rect x="124.6" y="131" width="95.0" height="1" fill="#f3f3f9"/>
<rect x="124.6" y="132" width="95.0" height="1" fill="#f2f2f8"/>
<rect x="124.6" y="133" width="95.0" height="1" fill="#f2f2f8"/>
<rect x="124.6" y="134" width="95.0" height="1" fill="#f3f3f9"/>
<rect x="124.6" y="135" width="95.0" height="1" fill="#f2f2f9"/>
<rect x="124.6" y="136" width="95.0" height="1" fill="#f3f3f9"/>
<rect x="124.6" y="137" width="95.0" height="1" fill="#f5f5fa"/>
<rect x="124.6" y="138" width="95.0" height="1" fill="#f3f3f9"/>
<rect x="124.6" y="139" width="95.0" height="1" fill="#f4f4fa"/>
<rect x="124.6" y="140" width="95.0" height="1" fill="#f4f4fa"/>
<rect x="124.6" y="141" width="95.0" height="1" fill="#f1f1f8"/>
<rect x="124.6" y="142" width="95.0" height="1" fill="#f2f2f9"/>
<rect x="124.6" y="143" width="95.0" height="1" fill="#f4f4fa"/>
<rect x="124.6" y="144" width="95.0" height="1" fill="#f4f4f9"/>
<rect x="124.6" y="145" width="95.0" height="1" fill="#efeff7"/>
<rect x="124.6" y="146" width="95.0" height="1" fill="#f3f3f9"/>
<rect x="124.6" y="147" width="95.0" height="1" fill="#f2f2f9"/>
<rect x="124.6" y="148" width="95.0" height="1" fill="#f2f2f8"/>
<rect x="124.6" y="149" width="95.0" height="1" fill="#f2f2f8"/>
<rect x="124.6" y="150" width="95.0" height="1" fill="#f2f2f8"/>
<rect x="124.6" y="151" width="95.0" height="1" fill="#f3f3f9"/>
<rect x="124.6" y="152" width="95.0" height="1" fill="#f3f3f9"/>
<rect x="124.6" y="153" width="95.0" height="1" fill="#f3f3f9"/>
<rect x="124.6" y="154" width="95.0" height="1" fill="#f3f3f9"/>
<rect x="124.6" y="155" width="95.0" height="1" fill="#f1f1f8"/>
<rect x="124.6" y="156" width="95.0" height="1" fill="#efeff7"/>
<rect x="124.6" y="157" width="95.0" height="1" fill="#f3f3f9"/>
<rect x="124.6" y="158" width="95.0" height="1" fill="#f1f1f8"/>
<rect x="124.6" y="159" width="95.0" height="1" fill="#f3f3f9"/>
<rect x="124.6" y="160" width="95.0" height="1" fill="#f3f3f9"/>
<rect x="124.6" y="161" width="95.0" height="1" fill="#f2f2f9"/>
<rect x="124.6" y="162" width="95.0" height="1" fill="#f1f1f8"/>
<rect x="124.6" y="163" width="95.0" height="1" fill="#f1f1f8"/>
<rect x="124.6" y="164" width="95.0" height="1" fill="#f5f5fa"/>
<rect x="124.6" y="165" width="95.0" height="1" fill="#efeff7"/>
<rect x="124.6" y="166" width="95.0" height="1" fill="#f0f0f8"/>
<rect x="124.6" y="167" width="95.0" height="1" fill="#f1f1f8"/>
<rect x="124.6" y="168" width="95.0" height="1" fill="#eeeef7"/>
<rect x="124.6" y="169" width="95.0" height="1" fill="#f0f0f8"/>
<rect x="124.6" y="170" width="95.0" height="1" fill="#f2f2f9"/>
<rect x="124.6" y="171" width="95.0" height="1" fill="#eeeef7"/>
<rect x="124.6" y="172" width="95.0" height="1" fill="#ededf6"/>
<rect x="124.6" y="173" width="95.0" height="1" fill="#f0f0f8"/>
<rect x="124.6" y="174" width="95.0" height="1" fill="#ececf6"/>
<rect x="124.6" y="175" width="95.0" height="1" fill="#ececf6"/>
<rect x="124.6" y="176" width="95.0" height="1" fill="#f0f0f8"/>
<rect x="124.6" y="177" width="95.0" height="1" fill="#e9e9f4"/>
<rect x="124.6" y="178" width="95.0" height="1" fill="#ebebf5"/>
<rect x="124.6" y="179" width="95.0" height="1" fill="#efeff7"/>
<rect x="124.6" y="180" width="95.0" height="1" fill="#ececf5"/>
<rect x="124.6" y="181" width="95.0" height="1" fill="#ebebf5"/>
<rect x="124.6" y="182" width="95.0" height="1" fill="#e9e9f4"/>
<rect x="124.6" y="183" width="95.0" height="1" fill="#efeff7"/>
<rect x="124.6" y="184" width="95.0" height="1" fill="#e9e9f4"/>
<rect x="124.6" y="185" width="95.0" height="1" fill="#e7e7f3"/>
<rect x="124.6" y="186" width="95.0" height="1" fill="#e8e8f4"/>
<rect x="124.6" y="187" width="95.0" height="1" fill="#e8e8f4"/>
<rect x="124.6" y="188" width="95.0" height="1" fill="#e6e6f3"/>
<rect x="124.6" y="189" width="95.0" height="1" fill="#e7e7f3"/>
<rect x="124.6" y="190" width="95.0" height="1" fill="#e8e8f4"/>
<rect x="124.6" y="191" width="95.0" height="1" fill="#ebebf5"/>
<rect x="124.6" y="192" width="95.0" height="1" fill="#e6e6f3"/>
<rect x="124.6" y="193" width="95.0" height="1" fill="#e5e5f2"/>
<rect x="124.6" y="194" width="95.0" height="1" fill="#e6e6f3"/>
<rect x="124.6" y="195" width="95.0" height="1" fill="#e7e7f3"/>
<rect x="124.6" y="196" width="95.0" height="1" fill="#e5e5f2"/>
<rect x="124.6" y="197" width="95.0" height="1" fill="#eeeef7"/>
<rect x="124.6" y="198" width="95.0" height="1" fill="#e7e7f3"/>
<rect x="124.6" y="199" width="95.0" height="1" fill="#eeeef6"/>
<rect x="124.6" y="200" width="95.0" height="1" fill="#e7e7f3"/>
<rect x="124.6" y="201" width="95.0" height="1" fill="#e2e2f1"/>
<rect x="124.6" y="202" width="95.0" height="1" fill="#dfdfef"/>
<rect x="124.6" y="203" width="95.0" height="1" fill="#e5e5f2"/>
<rect x="124.6" y="204" width="95.0" height="1" fill="#e4e4f2"/>
<rect x="124.6" y="205" width="95.0" height="1" fill="#e4e4f2"/>
<rect x="124.6" y="206" width="95.0" height="1" fill="#ebebf5"/>
<rect x="124.6" y="207" width="95.0" height="1" fill="#e3e3f1"/>
<rect x="124.6" y="208" width="95.0" height="1" fill="#e3e3f1"/>
<rect x="124.6" y="209" width="95.0" height="1" fill="#aaaad6"/>
<rect x="124.6" y="210" width="95.0" height="1" fill="#b1b1da"/>
<rect x="124.6" y="211" width="95.0" height="1" fill="#acacd7"/>
<rect x="124.6" y="212" width="95.0" height="1" fill="#ababd6"/>
<rect x="124.6" y="213" width="95.0" height="1" fill="#a3a3d2"/>
<rect x="124.6" y="214" width="95.0" height="1" fill="#a8a8d5"/>
<rect x="124.6" y="215" width="95.0" height="1" fill="#9494ca"/>
<rect x="124.6" y="216" width="95.0" height="1" fill="#aaaad6"/>
<rect x="124.6" y="217" width="95.0" height="1" fill="#adadd8"/>
<rect x="124.6" y="218" width="95.0" height="1" fill="#acacd7"/>
<rect x="124.6" y="219" width="95.0" height="1" fill="#b1b1d9"/>
<rect x="124.6" y="220" width="95.0" height="1" fill="#a3a3d2"/>
<rect x="124.6" y="221" width="95.0" height="1" fill="#a6a6d4"/>
<rect x="124.6" y="222" width="95.0" height="1" fill="#b3b3db"/>
<rect x="124.6" y="223" width="95.0" height="1" fill="#acacd7"/>
<rect x="124.6" y="224" width="95.0" height="1" fill="#a4a4d3"/>
<rect x="124.6" y="225" width="95.0" height="1" fill="#b4b4db"/>
<rect x="124.6" y="226" width="95.0" height="1" fill="#acacd7"/>
<rect x="124.6" y="227" width="95.0" height="1" fill="#adadd8"/>
<rect x="124.6" y="228" width="95.0" height="1" fill="#9d9dcf"/>
<rect x="124.6" y="229" width="95.0" height="1" fill="#a6a6d4"/>
<rect x="124.6" y="230" width="95.0" height="1" fill="#aeaed8"/>
<rect x="124.6" y="231" width="95.0" height="1" fill="#b0b0d9"/>
<rect x="124.6" y="232" width="95.0" height="1" fill="#a0a0d1"/>
<rect x="124.6" y="233" width="95.0" height="1" fill="#adadd7"/>
<rect x="124.6" y="234" width="95.0" height="1" fill="#9e9ed0"/>
<rect x="124.6" y="235" width="95.0" height="1" fill="#b4b4db"/>
<rect x="124.6" y="236" width="95.0" height="1" fill="#afafd9"/>
<rect x="124.6" y="237" width="95.0" height="1" fill="#aeaed8"/>
<rect x="124.6" y="238" width="95.0" height="1" fill="#b1b1da"/>
<rect x="124.6" y="239" width="95.0" height="1" fill="#aeaed8"/>
<rect x="124.6" y="240" width="95.0" height="1" fill="#a8a8d5"/>
<rect x="124.6" y="241" width="95.0" height="1" fill="#b0b0d9"/>
<rect x="124.6" y="242" width="95.0" height="1" fill="#b7b7dc"/>
<rect x="124.6" y="243" width="95.0" height="1" fill="#a5a5d4"/>
<rect x="124.6" y="244" width="95.0" height="1" fill="#a2a2d2"/>
<rect x="124.6" y="245" width="95.0" height="1" fill="#afafd9"/>
<rect x="124.6" y="246" width="95.0" height="1" fill="#ababd7"/>
<rect x="124.6" y="247" width="95.0" height="1" fill="#bdbde0"/>
<rect x="124.6" y="248" width="95.0" height="1" fill="#a9a9d5"/>
<rect x="124.6" y="249" width="95.0" height="1" fill="#c8c8e5"/>
<rect x="124.6" y="250" width="95.0" height="1" fill="#c6c6e4"/>
<rect x="124.6" y="251" width="95.0" height="1" fill="#b6b6dc"/>
<rect x="124.6" y="252" width="95.0" height="1" fill="#c7c7e4"/>
<rect x="124.6" y="253" width="95.0" height="1" fill="#c3c3e3"/>
<rect x="124.6" y="254" width="95.0" height="1" fill="#c8c8e5"/>
<rect x="124.6" y="255" width="95.0" height="1" fill="#cdcde7"/>
<rect x="124.6" y="256" width="95.0" height="1" fill="#cacae6"/>
<rect x="124.6" y="257" width="95.0" height="1" fill="#c1c1e2"/>
<rect x="124.6" y="258" width="95.0" height="1" fill="#aeaed8"/>
<rect x="124.6" y="259" width="95.0" height="1" fill="#ababd6"/>
<rect x="124.6" y="260" width="95.0" height="1" fill="#a1a1d1"/>
<rect x="124.6" y="261" width="95.0" height="1" fill="#c0c0e1"/>
<rect x="124.6" y="262" width="95.0" height="1" fill="#c8c8e5"/>
<rect x="124.6" y="263" width="95.0" height="1" fill="#b9b9dd"/>
<rect x="124.6" y="264" width="95.0" height="1" fill="#bebee0"/>
<rect x="124.6" y="265" width="95.0" height="1" fill="#b8b8dd"/>
<rect x="124.6" y="266" width="95.0" height="1" fill="#c5c5e3"/>
<rect x="124.6" y="267" width="95.0" height="1" fill="#f1f1f8"/>
<rect x="124.6" y="268" width="95.0" height="1" fill="#bdbddf"/>
<rect x="124.6" y="269" width="95.0" height="1" fill="#c3c3e2"/>
<rect x="124.6" y="270" width="95.0" height="1" fill="#bbbbde"/>
<rect x="124.6" y="271" width="95.0" height="1" fill="#b9b9de"/>
<rect x="124.6" y="272" width="95.0" height="1" fill="#b5b5dc"/>
<rect x="124.6" y="273" width="95.0" height="1" fill="#babade"/>
<rect x="124.6" y="274" width="95.0" height="1" fill="#b3b3db"/>
<rect x="124.6" y="275" width="95.0" height="1" fill="#adadd8"/>
<rect x="124.6" y="276" width="95.0" height="1" fill="#b9b9de"/>
<rect x="124.6" y="277" width="95.0" height="1" fill="#c0c0e1"/>
<rect x="124.6" y="278" width="95.0" height="1" fill="#bbbbde"/>
<rect x="124.6" y="279" width="95.0" height="1" fill="#b2b2da"/>
<rect x="124.6" y="280" width="95.0" height="1" fill="#b1b1d9"/>
<rect x="124.6" y="281" width="95.0" height="1" fill="#b8b8dd"/>
<rect x="124.6" y="282" width="95.0" height="1" fill="#bdbde0"/>
<rect x="124.6" y="283" width="95.0" height="1" fill="#b8b8dd"/>
<rect x="124.6" y="284" width="95.0" height="1" fill="#b1b1d9"/>
<rect x="124.6" y="285" width="95.0" height="1" fill="#babade"/>
<rect x="124.6" y="286" width="95.0" height="1" fill="#afafd9"/>
<rect x="124.6" y="287" width="95.0" height="1" fill="#b4b4db"/>
<rect x="124.6" y="288" width="95.0" height="1" fill="#b5b5db"/>
<rect x="124.6" y="289" width="95.0" height="1" fill="#babade"/>
<rect x="124.6" y="290" width="95.0" height="1" fill="#afafd8"/>
<rect x="124.6" y="291" width="95.0" height="1" fill="#b5b5dc"/>
<rect x="124.6" y="292" width="95.0" height="1" fill="#c0c0e1"/>
<rect x="124.6" y="293" width="95.0" height="1" fill="#b3b3db"/>
<rect x="124.6" y="294" width="95.0" height="1" fill="#b9b9dd"/>
<rect x="124.6" y="295" width="95.0" height="1" fill="#b1b1d9"/>
<rect x="124.6" y="296" width="95.0" height="1" fill="#b5b5db"/>
<rect x="124.6" y="297" width="95.0" height="1" fill="#bbbbde"/>
<rect x="124.6" y="298" width="95.0" height="1" fill="#b7b7dc"/>
<rect x="124.6" y="299" width="95.0" height="1" fill="#babade"/>
<rect x="124.6" y="300" width="95.0" height="1" fill="#bdbddf"/>
<rect x="124.6" y="301" width="95.0" height="1" fill="#b8b8dd"/>
<rect x="124.6" y="302" width="95.0" height="1" fill="#b2b2da"/>
<rect x="124.6" y="303" width="95.0" height="1" fill="#b6b6dc"/>
<rect x="124.6" y="304" width="95.0" height="1" fill="#b8b8dd"/>
<rect x="124.6" y="305" width="95.0" height="1" fill="#bbbbde"/>
<rect x="124.6" y="306" width="95.0" height="1" fill="#b4b4db"/>
<rect x="124.6" y="307" width="95.0" height="1" fill="#b5b5db"/>
<rect x="124.6" y="308" width="95.0" height="1" fill="#b1b1d9"/>
<rect x="124.6" y="309" width="95.0" height="1" fill="#b4b4db"/>
<rect x="124.6" y="310" width="95.0" height="1" fill="#aaaad6"/>
<rect x="124.6" y="311" width="95.0" height="1" fill="#bfbfe0"/>
<rect x="124.6" y="312" width="95.0" height="1" fill="#b9b9de"/>
<rect x="124.6" y="313" width="95.0" height="1" fill="#b4b4db"/>
<rect x="124.6" y="314" width="95.0" height="1" fill="#b1b1da"/>
<rect x="124.6" y="315" width="95.0" height="1" fill="#c0c0e1"/>
<rect x="124.6" y="316" width="95.0" height="1" fill="#c1c1e1"/>
<rect x="124.6" y="317" width="95.0" height="1" fill="#b9b9de"/>
<rect x="124.6" y="318" width="95.0" height="1" fill="#b1b1d9"/>
<rect x="124.6" y="319" width="95.0" height="1" fill="#afafd9"/>
<rect x="124.6" y="320" width="95.0" height="1" fill="#c0c0e1"/>
<rect x="124.6" y="321" width="95.0" height="1" fill="#b8b8dd"/>
<rect x="124.6" y="322" width="95.0" height="1" fill="#b0b0d9"/>
<rect x="124.6" y="323" width="95.0" height="1" fill="#b6b6dc"/>
<rect x="124.6" y="324" width="95.0" height="1" fill="#bebee0"/>
<rect x="124.6" y="325" width="95.0" height="1" fill="#bdbde0"/>
<rect x="124.6" y="326" width="95.0" height="1" fill="#c1c1e1"/>
<rect x="124.6" y="327" width="95.0" height="1" fill="#b2b2da"/>
<rect x="124.6" y="328" width="95.0" height="1" fill="#b8b8dd"/>
<rect x="124.6" y="329" width="95.0" height="1" fill="#bbbbde"/>
<rect x="124.6" y="330" width="95.0" height="1" fill="#bebee0"/>
<rect x="124.6" y="331" width="95.0" height="1" fill="#babade"/>
<rect x="124.6" y="332" width="95.0" height="1" fill="#bebee0"/>
<rect x="124.6" y="333" width="95.0" height="1" fill="#bfbfe0"/>
<rect x="124.6" y="334" width="95.0" height="1" fill="#b9b9de"/>
<rect x="124.6" y="335" width="95.0" height="1" fill="#b9b9de"/>
<rect x="124.6" y="336" width="95.0" height="1" fill="#b5b5dc"/>
<rect x="124.6" y="337" width="95.0" height="1" fill="#b6b6dc"/>
<rect x="124.6" y="338" width="95.0" height="1" fill="#b0b0d9"/>
<rect x="124.6" y="339" width="95.0" height="1" fill="#b7b7dc"/>
<rect x="124.6" y="340" width="95.0" height="1" fill="#b6b6dc"/>
<rect x="124.6" y="341" width="95.0" height="1" fill="#b6b6dc"/>
<rect x="124.6" y="342" width="95.0" height="1" fill="#bdbddf"/>
<rect x="124.6" y="343" width="95.0" height="1" fill="#b2b2da"/>
<rect x="124.6" y="344" width="95.0" height="1" fill="#babade"/>
<rect x="124.6" y="345" width="95.0" height="1" fill="#c2c2e2"/>
<rect x="124.6" y="346" width="95.0" height="1" fill="#b2b2da"/>
<rect x="124.6" y="347" width="95.0" height="1" fill="#b3b3da"/>
<rect x="124.6" y="348" width="95.0" height="1" fill="#bbbbde"/>
<rect x="124.6" y="349" width="95.0" height="1" fill="#b3b3da"/>
<rect x="124.6" y="350" width="95.0" height="1" fill="#b1b1da"/>
<rect x="124.6" y="351" width="95.0" height="1" fill="#b3b3da"/>
<rect x="124.6" y="352" width="95.0" height="1" fill="#bfbfe0"/>
<rect x="124.6" y="353" width="95.0" height="1" fill="#b8b8dd"/>
<rect x="124.6" y="354" width="95.0" height="1" fill="#bebee0"/>
<rect x="124.6" y="355" width="95.0" height="1" fill="#d2d2ea"/>
<rect x="124.6" y="356" width="95.0" height="1" fill="#b7b7dc"/>
<rect x="124.6" y="357" width="95.0" height="1" fill="#b9b9dd"/>
<rect x="124.6" y="358" width="95.0" height="1" fill="#b0b0d9"/>
<rect x="124.6" y="359" width="95.0" height="1" fill="#b7b7dc"/>
<rect x="124.6" y="360" width="95.0" height="1" fill="#afafd9"/>
<rect x="124.6" y="361" width="95.0" height="1" fill="#b1b1d9"/>
<rect x="124.6" y="362" width="95.0" height="1" fill="#b6b6dc"/>
<rect x="124.6" y="363" width="95.0" height="1" fill="#b2b2da"/>
<rect x="124.6" y="364" width="95.0" height="1" fill="#aeaed8"/>
<rect x="124.6" y="365" width="95.0" height="1" fill="#ababd6"/>
<rect x="124.6" y="366" width="95.0" height="1" fill="#b3b3da"/>
<rect x="124.6" y="367" width="95.0" height="1" fill="#a8a8d5"/>
<rect x="124.6" y="368" width="95.0" height="1" fill="#adadd7"/>
<rect x="124.6" y="369" width="95.0" height="1" fill="#aaaad6"/>
<rect x="124.6" y="370" width="95.0" height="1" fill="#babade"/>
<rect x="124.6" y="371" width="95.0" height="1" fill="#bbbbde"/>
<rect x="124.6" y="372" width="95.0" height="1" fill="#acacd7"/>
<rect x="124.6" y="373" width="95.0" height="1" fill="#b3b3da"/>
<rect x="124.6" y="374" width="95.0" height="1" fill="#b0b0d9"/>
<rect x="124.6" y="375" width="95.0" height="1" fill="#aaaad6"/>
<rect x="124.6" y="376" width="95.0" height="1" fill="#babade"/>
<rect x="124.6" y="377" width="95.0" height="1" fill="#b1b1da"/>
<rect x="124.6" y="378" width="95.0" height="1" fill="#a6a6d4"/>
<rect x="124.6" y="379" width="95.0" height="1" fill="#ababd7"/>
<rect x="124.6" y="380" width="95.0" height="1" fill="#b1b1da"/>
<rect x="124.6" y="381" width="95.0" height="1" fill="#afafd8"/>
<rect x="124.6" y="382" width="95.0" height="1" fill="#b2b2da"/>
<rect x="124.6" y="383" width="95.0" height="1" fill="#aeaed8"/>
<rect x="124.6" y="384" width="95.0" height="1" fill="#a9a9d6"/>
<rect x="124.6" y="385" width="95.0" height="1" fill="#c2c2e2"/>
<rect x="124.6" y="386" width="95.0" height="1" fill="#bfbfe0"/>
<rect x="124.6" y="387" width="95.0" height="1" fill="#c0c0e1"/>
<rect x="124.6" y="388" width="95.0" height="1" fill="#bdbde0"/>
<rect x="124.6" y="389" width="95.0" height="1" fill="#bcbcdf"/>
<rect x="124.6" y="390" width="95.0" height="1" fill="#c7c7e4"/>
<rect x="124.6" y="391" width="95.0" height="1" fill="#bcbcdf"/>
<rect x="124.6" y="392" width="95.0" height="1" fill="#bcbcdf"/>
<rect x="124.6" y="393" width="95.0" height="1" fill="#c7c7e5"/>
<rect x="124.6" y="394" width="95.0" height="1" fill="#c5c5e3"/>
<rect x="124.6" y="395" width="95.0" height="1" fill="#cacae6"/>
<rect x="124.6" y="396" width="95.0" height="1" fill="#c5c5e4"/>
<rect x="124.6" y="397" width="95.0" height="1" fill="#c0c0e1"/>
<rect x="124.6" y="398" width="95.0" height="1" fill="#c8c8e5"/>
<rect x="124.6" y="399" width="95.0" height="1" fill="#c7c7e5"/>
<rect x="124.6" y="400" width="95.0" height="1" fill="#c8c8e5"/>
<rect x="124.6" y="401" width="95.0" height="1" fill="#c7c7e4"/>
<rect x="124.6" y="402" width="95.0" height="1" fill="#c7c7e4"/>
<rect x="124.6" y="403" width="95.0" height="1" fill="#c9c9e5"/>
<rect x="124.6" y="404" width="95.0" height="1" fill="#c0c0e1"/>
<rect x="124.6" y="405" width="95.0" height="1" fill="#bbbbde"/>
<rect x="124.6" y="406" width="95.0" height="1" fill="#bfbfe1"/>
<rect x="124.6" y="407" width="95.0" height="1" fill="#b5b5dc"/>
<rect x="124.6" y="408" width="95.0" height="1" fill="#bdbddf"/>
<rect x="124.6" y="409" width="95.0" height="1" fill="#b5b5dc"/>
<rect x="124.6" y="410" width="95.0" height="1" fill="#c1c1e1"/>
<rect x="124.6" y="411" width="95.0" height="1" fill="#b3b3da"/>
<rect x="124.6" y="412" width="95.0" height="1" fill="#bbbbdf"/>
<rect x="124.6" y="413" width="95.0" height="1" fill="#c0c0e1"/>
<rect x="124.6" y="414" width="95.0" height="1" fill="#b9b9dd"/>
<rect x="124.6" y="415" width="95.0" height="1" fill="#c2c2e2"/>
<rect x="124.6" y="416" width="95.0" height="1" fill="#c2c2e2"/>
<rect x="124.6" y="417" width="95.0" height="1" fill="#babade"/>
<rect x="124.6" y="418" width="95.0" height="1" fill="#bdbddf"/>
<rect x="124.6" y="419" width="95.0" height="1" fill="#b8b8dd"/>
<rect x="124.6" y="420" width="95.0" height="1" fill="#b9b9dd"/>
<rect x="124.6" y="421" width="95.0" height="1" fill="#b9b9dd"/>
<rect x="124.6" y="422" width="95.0" height="1" fill="#b9b9de"/>
<rect x="124.6" y="423" width="95.0" height="1" fill="#b6b6dc"/>
<rect x="124.6" y="424" width="95.0" height="1" fill="#b9b9de"/>
<rect x="124.6" y="425" width="95.0" height="1" fill="#b4b4db"/>
<rect x="124.6" y="426" width="95.0" height="1" fill="#b3b3db"/>
<rect x="124.6" y="427" width="95.0" height="1" fill="#c5c5e4"/>
<rect x="124.6" y="428" width="95.0" height="1" fill="#c7c7e4"/>
<rect x="124.6" y="429" width="95.0" height="1" fill="#b3b3da"/>
<rect x="124.6" y="430" width="95.0" height="1" fill="#bbbbdf"/>
<rect x="124.6" y="431" width="95.0" height="1" fill="#babade"/>
<rect x="124.6" y="432" width="95.0" height="1" fill="#bbbbde"/>
<rect x="124.6" y="433" width="95.0" height="1" fill="#b9b9dd"/>
<rect x="124.6" y="434" width="95.0" height="1" fill="#adadd7"/>
<rect x="124.6" y="435" width="95.0" height="1" fill="#bcbcdf"/>
<rect x="124.6" y="436" width="95.0" height="1" fill="#bbbbde"/>
<rect x="124.6" y="437" width="95.0" height="1" fill="#f1f1f8"/>
<rect x="124.6" y="438" width="95.0" height="1" fill="#bdbde0"/>
<rect x="124.6" y="439" width="95.0" height="1" fill="#bdbddf"/>
<rect x="124.6" y="440" width="95.0" height="1" fill="#b9b9dd"/>
<rect x="124.6" y="441" width="95.0" height="1" fill="#b7b7dc"/>
<rect x="124.6" y="442" width="95.0" height="1" fill="#b4b4db"/>
<rect x="124.6" y="443" width="95.0" height="1" fill="#c2c2e2"/>
<rect x="124.6" y="444" width="95.0" height="1" fill="#c2c2e2"/>
<rect x="124.6" y="445" width="95.0" height="1" fill="#aeaed8"/>
<rect x="124.6" y="446" width="95.0" height="1" fill="#b6b6dc"/>
<rect x="124.6" y="447" width="95.0" height="1" fill="#b1b1da"/>
<rect x="124.6" y="448" width="95.0" height="1" fill="#b8b8dd"/>
<rect x="124.6" y="449" width="95.0" height="1" fill="#bbbbdf"/>
<rect x="124.6" y="450" width="95.0" height="1" fill="#aaaad6"/>
<rect x="124.6" y="451" width="95.0" height="1" fill="#bcbcdf"/>
<rect x="124.6" y="452" width="95.0" height="1" fill="#bdbde0"/>
<line x1="124.6" y1="117" x2="124.6" y2="453" stroke="#999" stroke-width="1"/>
<line x1="124.6" y1="453.4" x2="219.6" y2="453.4" stroke="#888" stroke-width="0.9"/>
<line x1="219.6" y1="117" x2="219.6" y2="453" stroke="#111" stroke-width="1.1"/>
<line x1="124.6" y1="453" x2="124.6" y2="455.6" stroke="#222" stroke-width="0.8"/>
<line x1="172.1" y1="453" x2="172.1" y2="455.6" stroke="#222" stroke-width="0.8"/>
<line x1="219.6" y1="453" x2="219.6" y2="455.6" stroke="#222" stroke-width="0.8"/>
<text x="124.1" y="464.2" font-weight="bold" font-size="6.6" fill="#111" font-family="Liberation Sans, sans-serif">-1.0</text>
<text x="172.1" y="464.2" text-anchor="middle" font-weight="bold" font-size="6.6" fill="#111" font-family="Liberation Sans, sans-serif">TSS</text>
<text x="220.1" y="464.2" text-anchor="end" font-weight="bold" font-size="6.6" fill="#111" font-family="Liberation Sans, sans-serif">1.0Kb</text>
<linearGradient id="cb1"><stop offset="0.0" stop-color="#fcfcfe"/><stop offset="0.1" stop-color="#f2f2f8"/><stop offset="0.2" stop-color="#e4e4f2"/><stop offset="0.3" stop-color="#d3d3ea"/><stop offset="0.4" stop-color="#c1c1e2"/><stop offset="0.5" stop-color="#aeaed8"/><stop offset="0.6" stop-color="#9c9cce"/><stop offset="0.7" stop-color="#8987c4"/><stop offset="0.8" stop-color="#7062b0"/><stop offset="0.9" stop-color="#552e96"/><stop offset="1.0" stop-color="#3f007d"/></linearGradient>
<rect x="124.6" y="484.8" width="95.0" height="7.0" fill="url(#cb1)"/>
<line x1="124.6" y1="484.8" x2="219.6" y2="484.8" stroke="#333" stroke-width="0.9"/>
<line x1="124.6" y1="484.8" x2="124.6" y2="491.8" stroke="#999" stroke-width="0.6"/>
<line x1="219.6" y1="484.8" x2="219.6" y2="491.8" stroke="#999" stroke-width="0.6"/>
<line x1="125.0" y1="491.8" x2="125.0" y2="494.0" stroke="#333" stroke-width="0.7"/>
<text x="125.0" y="501.5" text-anchor="middle" font-size="6.6" fill="#333" font-family="Liberation Sans, sans-serif">0</text>
<line x1="156.4" y1="491.8" x2="156.4" y2="494.0" stroke="#333" stroke-width="0.7"/>
<text x="156.4" y="501.5" text-anchor="middle" font-size="6.6" fill="#333" font-family="Liberation Sans, sans-serif">1</text>
<line x1="187.8" y1="491.8" x2="187.8" y2="494.0" stroke="#333" stroke-width="0.7"/>
<text x="187.8" y="501.5" text-anchor="middle" font-size="6.6" fill="#333" font-family="Liberation Sans, sans-serif">2</text>
<line x1="219.2" y1="491.8" x2="219.2" y2="494.0" stroke="#333" stroke-width="0.7"/>
<text x="219.2" y="501.5" text-anchor="middle" font-size="6.6" fill="#333" font-family="Liberation Sans, sans-serif">3</text>
<rect x="241.8" y="117" width="94.8" height="1" fill="#529dcc"/>
<rect x="241.8" y="118" width="94.8" height="1" fill="#4090c5"/>
<rect x="241.8" y="119" width="94.8" height="1" fill="#59a2cf"/>
<rect x="241.8" y="120" width="94.8" height="1" fill="#6baed6"/>
<rect x="241.8" y="121" width="94.8" height="1" fill="#559fcd"/>
<rect x="241.8" y="122" width="94.8" height="1" fill="#4d99ca"/>
<rect x="241.8" y="123" width="94.8" height="1" fill="#4f9bcb"/>
<rect x="241.8" y="124" width="94.8" height="1" fill="#4f9bcb"/>
<rect x="241.8" y="125" width="94.8" height="1" fill="#57a0ce"/>
<rect x="241.8" y="126" width="94.8" height="1" fill="#5ea5d1"/>
<rect x="241.8" y="127" width="94.8" height="1" fill="#62a8d2"/>
<rect x="241.8" y="128" width="94.8" height="1" fill="#5ca4d0"/>
<rect x="241.8" y="129" width="94.8" height="1" fill="#5da4d0"/>
<rect x="241.8" y="130" width="94.8" height="1" fill="#4e9acb"/>
<rect x="241.8" y="131" width="94.8" height="1" fill="#4f9bcb"/>
<rect x="241.8" y="132" width="94.8" height="1" fill="#67abd4"/>
<rect x="241.8" y="133" width="94.8" height="1" fill="#539ecd"/>
<rect x="241.8" y="134" width="94.8" height="1" fill="#58a1cf"/>
<rect x="241.8" y="135" width="94.8" height="1" fill="#4c99ca"/>
<rect x="241.8" y="136" width="94.8" height="1" fill="#4695c7"/>
<rect x="241.8" y="137" width="94.8" height="1" fill="#519ccc"/>
<rect x="241.8" y="138" width="94.8" height="1" fill="#70b1d7"/>
<rect x="241.8" y="139" width="94.8" height="1" fill="#57a0ce"/>
<rect x="241.8" y="140" width="94.8" height="1" fill="#6dafd6"/>
<rect x="241.8" y="141" width="94.8" height="1" fill="#4c99ca"/>
<rect x="241.8" y="142" width="94.8" height="1" fill="#61a7d2"/>
<rect x="241.8" y="143" width="94.8" height="1" fill="#60a7d2"/>
<rect x="241.8" y="144" width="94.8" height="1" fill="#4896c8"/>
<rect x="241.8" y="145" width="94.8" height="1" fill="#6fb0d7"/>
<rect x="241.8" y="146" width="94.8" height="1" fill="#61a7d2"/>
<rect x="241.8" y="147" width="94.8" height="1" fill="#6baed6"/>
<rect x="241.8" y="148" width="94.8" height="1" fill="#67abd4"/>
<rect x="241.8" y="149" width="94.8" height="1" fill="#69add5"/>
<rect x="241.8" y="150" width="94.8" height="1" fill="#59a2cf"/>
<rect x="241.8" y="151" width="94.8" height="1" fill="#62a8d2"/>
<rect x="241.8" y="152" width="94.8" height="1" fill="#5ca4d0"/>
<rect x="241.8" y="153" width="94.8" height="1" fill="#58a1cf"/>
<rect x="241.8" y="154" width="94.8" height="1" fill="#75b4d8"/>
<rect x="241.8" y="155" width="94.8" height="1" fill="#549ecd"/>
<rect x="241.8" y="156" width="94.8" height="1" fill="#61a7d2"/>
<rect x="241.8" y="157" width="94.8" height="1" fill="#78b5d9"/>
<rect x="241.8" y="158" width="94.8" height="1" fill="#6eafd7"/>
<rect x="241.8" y="159" width="94.8" height="1" fill="#5aa2cf"/>
<rect x="241.8" y="160" width="94.8" height="1" fill="#559fce"/>
<rect x="241.8" y="161" width="94.8" height="1" fill="#69add5"/>
<rect x="241.8" y="162" width="94.8" height="1" fill="#64a9d3"/>
<rect x="241.8" y="163" width="94.8" height="1" fill="#61a7d2"/>
<rect x="241.8" y="164" width="94.8" height="1" fill="#58a1ce"/>
<rect x="241.8" y="165" width="94.8" height="1" fill="#64a9d3"/>
<rect x="241.8" y="166" width="94.8" height="1" fill="#5aa2cf"/>
<rect x="241.8" y="167" width="94.8" height="1" fill="#6eb0d7"/>
<rect x="241.8" y="168" width="94.8" height="1" fill="#71b1d7"/>
<rect x="241.8" y="169" width="94.8" height="1" fill="#60a6d2"/>
<rect x="241.8" y="170" width="94.8" height="1" fill="#5da4d0"/>
<rect x="241.8" y="171" width="94.8" height="1" fill="#66abd4"/>
<rect x="241.8" y="172" width="94.8" height="1" fill="#61a7d2"/>
<rect x="241.8" y="173" width="94.8" height="1" fill="#65aad4"/>
<rect x="241.8" y="174" width="94.8" height="1" fill="#60a6d2"/>
<rect x="241.8" y="175" width="94.8" height="1" fill="#5ba3d0"/>
<rect x="241.8" y="176" width="94.8" height="1" fill="#62a8d3"/>
<rect x="241.8" y="177" width="94.8" height="1" fill="#61a7d2"/>
<rect x="241.8" y="178" width="94.8" height="1" fill="#6fb0d7"/>
<rect x="241.8" y="179" width="94.8" height="1" fill="#76b4d8"/>
<rect x="241.8" y="180" width="94.8" height="1" fill="#90c2de"/>
<rect x="241.8" y="181" width="94.8" height="1" fill="#6fb0d7"/>
<rect x="241.8" y="182" width="94.8" height="1" fill="#6eb0d7"/>
<rect x="241.8" y="183" width="94.8" height="1" fill="#69add5"/>
<rect x="241.8" y="184" width="94.8" height="1" fill="#8abfdd"/>
<rect x="241.8" y="185" width="94.8" height="1" fill="#7db8da"/>
<rect x="241.8" y="186" width="94.8" height="1" fill="#7bb7da"/>
<rect x="241.8" y="187" width="94.8" height="1" fill="#8ec1dd"/>
<rect x="241.8" y="188" width="94.8" height="1" fill="#6cafd6"/>
<rect x="241.8" y="189" width="94.8" height="1" fill="#64a9d3"/>
<rect x="241.8" y="190" width="94.8" height="1" fill="#84bcdb"/>
<rect x="241.8" y="191" width="94.8" height="1" fill="#74b3d8"/>
<rect x="241.8" y="192" width="94.8" height="1" fill="#62a8d2"/>
<rect x="241.8" y="193" width="94.8" height="1" fill="#85bddc"/>
<rect x="241.8" y="194" width="94.8" height="1" fill="#70b1d7"/>
<rect x="241.8" y="195" width="94.8" height="1" fill="#65aad4"/>
<rect x="241.8" y="196" width="94.8" height="1" fill="#62a8d2"/>
<rect x="241.8" y="197" width="94.8" height="1" fill="#8bc0dd"/>
<rect x="241.8" y="198" width="94.8" height="1" fill="#90c2de"/>
<rect x="241.8" y="199" width="94.8" height="1" fill="#7fb9da"/>
<rect x="241.8" y="200" width="94.8" height="1" fill="#70b1d7"/>
<rect x="241.8" y="201" width="94.8" height="1" fill="#90c2de"/>
<rect x="241.8" y="202" width="94.8" height="1" fill="#90c2de"/>
<rect x="241.8" y="203" width="94.8" height="1" fill="#94c5df"/>
<rect x="241.8" y="204" width="94.8" height="1" fill="#79b6d9"/>
<rect x="241.8" y="205" width="94.8" height="1" fill="#8bbfdd"/>
<rect x="241.8" y="206" width="94.8" height="1" fill="#81badb"/>
<rect x="241.8" y="207" width="94.8" height="1" fill="#7fb9da"/>
<rect x="241.8" y="208" width="94.8" height="1" fill="#79b6d9"/>
<rect x="241.8" y="209" width="94.8" height="1" fill="#aed1e7"/>
<rect x="241.8" y="210" width="94.8" height="1" fill="#b2d3e8"/>
<rect x="241.8" y="211" width="94.8" height="1" fill="#aed1e7"/>
<rect x="241.8" y="212" width="94.8" height="1" fill="#b6d4e9"/>
<rect x="241.8" y="213" width="94.8" height="1" fill="#c7dbef"/>
<rect x="241.8" y="214" width="94.8" height="1" fill="#c6dbef"/>
<rect x="241.8" y="215" width="94.8" height="1" fill="#bfd8ed"/>
<rect x="241.8" y="216" width="94.8" height="1" fill="#c4daee"/>
<rect x="241.8" y="217" width="94.8" height="1" fill="#c8dcf0"/>
<rect x="241.8" y="218" width="94.8" height="1" fill="#c6dbef"/>
<rect x="241.8" y="219" width="94.8" height="1" fill="#b0d2e7"/>
<rect x="241.8" y="220" width="94.8" height="1" fill="#c6dbef"/>
<rect x="241.8" y="221" width="94.8" height="1" fill="#c7dbef"/>
<rect x="241.8" y="222" width="94.8" height="1" fill="#c7dcef"/>
<rect x="241.8" y="223" width="94.8" height="1" fill="#cbdef1"/>
<rect x="241.8" y="224" width="94.8" height="1" fill="#c5dbef"/>
<rect x="241.8" y="225" width="94.8" height="1" fill="#c6dbef"/>
<rect x="241.8" y="226" width="94.8" height="1" fill="#c9ddf0"/>
<rect x="241.8" y="227" width="94.8" height="1" fill="#d1e3f3"/>
<rect x="241.8" y="228" width="94.8" height="1" fill="#c8dcf0"/>
<rect x="241.8" y="229" width="94.8" height="1" fill="#c9ddf0"/>
<rect x="241.8" y="230" width="94.8" height="1" fill="#cde0f1"/>
<rect x="241.8" y="231" width="94.8" height="1" fill="#d9e8f5"/>
<rect x="241.8" y="232" width="94.8" height="1" fill="#d0e2f2"/>
<rect x="241.8" y="233" width="94.8" height="1" fill="#d3e4f3"/>
<rect x="241.8" y="234" width="94.8" height="1" fill="#d0e2f2"/>
<rect x="241.8" y="235" width="94.8" height="1" fill="#d1e2f3"/>
<rect x="241.8" y="236" width="94.8" height="1" fill="#d3e3f3"/>
<rect x="241.8" y="237" width="94.8" height="1" fill="#cbdff1"/>
<rect x="241.8" y="238" width="94.8" height="1" fill="#cee0f2"/>
<rect x="241.8" y="239" width="94.8" height="1" fill="#cadef0"/>
<rect x="241.8" y="240" width="94.8" height="1" fill="#d3e4f3"/>
<rect x="241.8" y="241" width="94.8" height="1" fill="#d2e3f3"/>
<rect x="241.8" y="242" width="94.8" height="1" fill="#cbdef1"/>
<rect x="241.8" y="243" width="94.8" height="1" fill="#cee1f2"/>
<rect x="241.8" y="244" width="94.8" height="1" fill="#d4e4f4"/>
<rect x="241.8" y="245" width="94.8" height="1" fill="#d5e5f4"/>
<rect x="241.8" y="246" width="94.8" height="1" fill="#d4e4f4"/>
<rect x="241.8" y="247" width="94.8" height="1" fill="#d2e3f3"/>
<rect x="241.8" y="248" width="94.8" height="1" fill="#cee1f2"/>
<rect x="241.8" y="249" width="94.8" height="1" fill="#d0e2f2"/>
<rect x="241.8" y="250" width="94.8" height="1" fill="#cee0f2"/>
<rect x="241.8" y="251" width="94.8" height="1" fill="#cde0f1"/>
<rect x="241.8" y="252" width="94.8" height="1" fill="#d0e2f2"/>
<rect x="241.8" y="253" width="94.8" height="1" fill="#ccdff1"/>
<rect x="241.8" y="254" width="94.8" height="1" fill="#cde0f1"/>
<rect x="241.8" y="255" width="94.8" height="1" fill="#d2e3f3"/>
<rect x="241.8" y="256" width="94.8" height="1" fill="#d2e3f3"/>
<rect x="241.8" y="257" width="94.8" height="1" fill="#d2e3f3"/>
<rect x="241.8" y="258" width="94.8" height="1" fill="#d4e5f4"/>
<rect x="241.8" y="259" width="94.8" height="1" fill="#d7e7f5"/>
<rect x="241.8" y="260" width="94.8" height="1" fill="#d2e3f3"/>
<rect x="241.8" y="261" width="94.8" height="1" fill="#d4e4f4"/>
<rect x="241.8" y="262" width="94.8" height="1" fill="#d0e1f2"/>
<rect x="241.8" y="263" width="94.8" height="1" fill="#d4e4f4"/>
<rect x="241.8" y="264" width="94.8" height="1" fill="#d2e3f3"/>
<rect x="241.8" y="265" width="94.8" height="1" fill="#d1e2f3"/>
<rect x="241.8" y="266" width="94.8" height="1" fill="#d3e4f3"/>
<rect x="241.8" y="267" width="94.8" height="1" fill="#d1e3f3"/>
<rect x="241.8" y="268" width="94.8" height="1" fill="#d5e5f4"/>
<rect x="241.8" y="269" width="94.8" height="1" fill="#d4e4f4"/>
<rect x="241.8" y="270" width="94.8" height="1" fill="#cfe1f2"/>
<rect x="241.8" y="271" width="94.8" height="1" fill="#77b5d9"/>
<rect x="241.8" y="272" width="94.8" height="1" fill="#d2e3f3"/>
<rect x="241.8" y="273" width="94.8" height="1" fill="#d5e5f4"/>
<rect x="241.8" y="274" width="94.8" height="1" fill="#d0e2f2"/>
<rect x="241.8" y="275" width="94.8" height="1" fill="#caddf0"/>
<rect x="241.8" y="276" width="94.8" height="1" fill="#d9e8f5"/>
<rect x="241.8" y="277" width="94.8" height="1" fill="#cfe1f2"/>
<rect x="241.8" y="278" width="94.8" height="1" fill="#d1e2f3"/>
<rect x="241.8" y="279" width="94.8" height="1" fill="#cee0f2"/>
<rect x="241.8" y="280" width="94.8" height="1" fill="#cde0f1"/>
<rect x="241.8" y="281" width="94.8" height="1" fill="#d5e5f4"/>
<rect x="241.8" y="282" width="94.8" height="1" fill="#ccdff1"/>
<rect x="241.8" y="283" width="94.8" height="1" fill="#d3e4f3"/>
<rect x="241.8" y="284" width="94.8" height="1" fill="#d4e4f4"/>
<rect x="241.8" y="285" width="94.8" height="1" fill="#d0e2f2"/>
<rect x="241.8" y="286" width="94.8" height="1" fill="#d2e3f3"/>
<rect x="241.8" y="287" width="94.8" height="1" fill="#d2e3f3"/>
<rect x="241.8" y="288" width="94.8" height="1" fill="#d4e5f4"/>
<rect x="241.8" y="289" width="94.8" height="1" fill="#d7e6f5"/>
<rect x="241.8" y="290" width="94.8" height="1" fill="#d3e4f3"/>
<rect x="241.8" y="291" width="94.8" height="1" fill="#d7e6f5"/>
<rect x="241.8" y="292" width="94.8" height="1" fill="#cee0f2"/>
<rect x="241.8" y="293" width="94.8" height="1" fill="#d1e2f3"/>
<rect x="241.8" y="294" width="94.8" height="1" fill="#cde0f1"/>
<rect x="241.8" y="295" width="94.8" height="1" fill="#d7e6f5"/>
<rect x="241.8" y="296" width="94.8" height="1" fill="#dceaf6"/>
<rect x="241.8" y="297" width="94.8" height="1" fill="#ddebf7"/>
<rect x="241.8" y="298" width="94.8" height="1" fill="#d6e6f4"/>
<rect x="241.8" y="299" width="94.8" height="1" fill="#d8e7f5"/>
<rect x="241.8" y="300" width="94.8" height="1" fill="#d2e3f3"/>
<rect x="241.8" y="301" width="94.8" height="1" fill="#d8e7f5"/>
<rect x="241.8" y="302" width="94.8" height="1" fill="#d9e8f5"/>
<rect x="241.8" y="303" width="94.8" height="1" fill="#d3e4f3"/>
<rect x="241.8" y="304" width="94.8" height="1" fill="#d4e5f4"/>
<rect x="241.8" y="305" width="94.8" height="1" fill="#d1e2f3"/>
<rect x="241.8" y="306" width="94.8" height="1" fill="#cfe1f2"/>
<rect x="241.8" y="307" width="94.8" height="1" fill="#d1e2f3"/>
<rect x="241.8" y="308" width="94.8" height="1" fill="#d8e7f5"/>
<rect x="241.8" y="309" width="94.8" height="1" fill="#d7e7f5"/>
<rect x="241.8" y="310" width="94.8" height="1" fill="#cbdef1"/>
<rect x="241.8" y="311" width="94.8" height="1" fill="#d2e3f3"/>
<rect x="241.8" y="312" width="94.8" height="1" fill="#d2e3f3"/>
<rect x="241.8" y="313" width="94.8" height="1" fill="#d2e3f3"/>
<rect x="241.8" y="314" width="94.8" height="1" fill="#d3e4f3"/>
<rect x="241.8" y="315" width="94.8" height="1" fill="#d4e4f4"/>
<rect x="241.8" y="316" width="94.8" height="1" fill="#d5e5f4"/>
<rect x="241.8" y="317" width="94.8" height="1" fill="#d6e5f4"/>
<rect x="241.8" y="318" width="94.8" height="1" fill="#dbe9f6"/>
<rect x="241.8" y="319" width="94.8" height="1" fill="#cee0f2"/>
<rect x="241.8" y="320" width="94.8" height="1" fill="#d2e3f3"/>
<rect x="241.8" y="321" width="94.8" height="1" fill="#d8e7f5"/>
<rect x="241.8" y="322" width="94.8" height="1" fill="#d2e3f3"/>
<rect x="241.8" y="323" width="94.8" height="1" fill="#d0e2f2"/>
<rect x="241.8" y="324" width="94.8" height="1" fill="#d8e7f5"/>
<rect x="241.8" y="325" width="94.8" height="1" fill="#d6e6f4"/>
<rect x="241.8" y="326" width="94.8" height="1" fill="#cee0f2"/>
<rect x="241.8" y="327" width="94.8" height="1" fill="#d0e2f2"/>
<rect x="241.8" y="328" width="94.8" height="1" fill="#d1e3f3"/>
<rect x="241.8" y="329" width="94.8" height="1" fill="#cfe1f2"/>
<rect x="241.8" y="330" width="94.8" height="1" fill="#d3e4f3"/>
<rect x="241.8" y="331" width="94.8" height="1" fill="#d5e5f4"/>
<rect x="241.8" y="332" width="94.8" height="1" fill="#cde0f1"/>
<rect x="241.8" y="333" width="94.8" height="1" fill="#d3e4f3"/>
<rect x="241.8" y="334" width="94.8" height="1" fill="#d4e4f4"/>
<rect x="241.8" y="335" width="94.8" height="1" fill="#d1e2f3"/>
<rect x="241.8" y="336" width="94.8" height="1" fill="#d3e4f3"/>
<rect x="241.8" y="337" width="94.8" height="1" fill="#d8e7f5"/>
<rect x="241.8" y="338" width="94.8" height="1" fill="#cde0f1"/>
<rect x="241.8" y="339" width="94.8" height="1" fill="#d2e3f3"/>
<rect x="241.8" y="340" width="94.8" height="1" fill="#cddff1"/>
<rect x="241.8" y="341" width="94.8" height="1" fill="#d0e2f2"/>
<rect x="241.8" y="342" width="94.8" height="1" fill="#d7e6f5"/>
<rect x="241.8" y="343" width="94.8" height="1" fill="#cee0f2"/>
<rect x="241.8" y="344" width="94.8" height="1" fill="#c3daee"/>
<rect x="241.8" y="345" width="94.8" height="1" fill="#d7e6f5"/>
<rect x="241.8" y="346" width="94.8" height="1" fill="#d4e4f4"/>
<rect x="241.8" y="347" width="94.8" height="1" fill="#dceaf6"/>
<rect x="241.8" y="348" width="94.8" height="1" fill="#d3e4f3"/>
<rect x="241.8" y="349" width="94.8" height="1" fill="#d6e6f4"/>
<rect x="241.8" y="350" width="94.8" height="1" fill="#d5e5f4"/>
<rect x="241.8" y="351" width="94.8" height="1" fill="#d7e7f5"/>
<rect x="241.8" y="352" width="94.8" height="1" fill="#d2e3f3"/>
<rect x="241.8" y="353" width="94.8" height="1" fill="#d2e3f3"/>
<rect x="241.8" y="354" width="94.8" height="1" fill="#cfe1f2"/>
<rect x="241.8" y="355" width="94.8" height="1" fill="#ccdff1"/>
<rect x="241.8" y="356" width="94.8" height="1" fill="#d1e3f3"/>
<rect x="241.8" y="357" width="94.8" height="1" fill="#d3e4f3"/>
<rect x="241.8" y="358" width="94.8" height="1" fill="#d2e3f3"/>
<rect x="241.8" y="359" width="94.8" height="1" fill="#d7e6f5"/>
<rect x="241.8" y="360" width="94.8" height="1" fill="#d6e6f4"/>
<rect x="241.8" y="361" width="94.8" height="1" fill="#d1e2f3"/>
<rect x="241.8" y="362" width="94.8" height="1" fill="#d7e6f5"/>
<rect x="241.8" y="363" width="94.8" height="1" fill="#dceaf6"/>
<rect x="241.8" y="364" width="94.8" height="1" fill="#d6e6f4"/>
<rect x="241.8" y="365" width="94.8" height="1" fill="#d3e4f3"/>
<rect x="241.8" y="366" width="94.8" height="1" fill="#cee0f2"/>
<rect x="241.8" y="367" width="94.8" height="1" fill="#d6e5f4"/>
<rect x="241.8" y="368" width="94.8" height="1" fill="#d8e7f5"/>
<rect x="241.8" y="369" width="94.8" height="1" fill="#d4e4f4"/>
<rect x="241.8" y="370" width="94.8" height="1" fill="#d4e5f4"/>
<rect x="241.8" y="371" width="94.8" height="1" fill="#d3e4f3"/>
<rect x="241.8" y="372" width="94.8" height="1" fill="#d6e5f4"/>
<rect x="241.8" y="373" width="94.8" height="1" fill="#d3e4f3"/>
<rect x="241.8" y="374" width="94.8" height="1" fill="#d6e6f4"/>
<rect x="241.8" y="375" width="94.8" height="1" fill="#d1e2f3"/>
<rect x="241.8" y="376" width="94.8" height="1" fill="#d2e3f3"/>
<rect x="241.8" y="377" width="94.8" height="1" fill="#d2e3f3"/>
<rect x="241.8" y="378" width="94.8" height="1" fill="#d5e5f4"/>
<rect x="241.8" y="379" width="94.8" height="1" fill="#dae8f6"/>
<rect x="241.8" y="380" width="94.8" height="1" fill="#d5e5f4"/>
<rect x="241.8" y="381" width="94.8" height="1" fill="#d4e4f4"/>
<rect x="241.8" y="382" width="94.8" height="1" fill="#d0e2f2"/>
<rect x="241.8" y="383" width="94.8" height="1" fill="#d0e1f2"/>
<rect x="241.8" y="384" width="94.8" height="1" fill="#d4e4f4"/>
<rect x="241.8" y="385" width="94.8" height="1" fill="#d4e5f4"/>
<rect x="241.8" y="386" width="94.8" height="1" fill="#d8e7f5"/>
<rect x="241.8" y="387" width="94.8" height="1" fill="#d5e5f4"/>
<rect x="241.8" y="388" width="94.8" height="1" fill="#d3e4f3"/>
<rect x="241.8" y="389" width="94.8" height="1" fill="#d6e5f4"/>
<rect x="241.8" y="390" width="94.8" height="1" fill="#d9e7f5"/>
<rect x="241.8" y="391" width="94.8" height="1" fill="#d0e2f2"/>
<rect x="241.8" y="392" width="94.8" height="1" fill="#d7e6f5"/>
<rect x="241.8" y="393" width="94.8" height="1" fill="#cee1f2"/>
<rect x="241.8" y="394" width="94.8" height="1" fill="#cfe1f2"/>
<rect x="241.8" y="395" width="94.8" height="1" fill="#cde0f1"/>
<rect x="241.8" y="396" width="94.8" height="1" fill="#d6e6f4"/>
<rect x="241.8" y="397" width="94.8" height="1" fill="#d2e3f3"/>
<rect x="241.8" y="398" width="94.8" height="1" fill="#d9e8f5"/>
<rect x="241.8" y="399" width="94.8" height="1" fill="#d7e6f5"/>
<rect x="241.8" y="400" width="94.8" height="1" fill="#dae9f6"/>
<rect x="241.8" y="401" width="94.8" height="1" fill="#d8e7f5"/>
<rect x="241.8" y="402" width="94.8" height="1" fill="#d7e6f5"/>
<rect x="241.8" y="403" width="94.8" height="1" fill="#d1e2f3"/>
<rect x="241.8" y="404" width="94.8" height="1" fill="#d0e1f2"/>
<rect x="241.8" y="405" width="94.8" height="1" fill="#d5e5f4"/>
<rect x="241.8" y="406" width="94.8" height="1" fill="#d6e5f4"/>
<rect x="241.8" y="407" width="94.8" height="1" fill="#d8e7f5"/>
<rect x="241.8" y="408" width="94.8" height="1" fill="#d9e8f5"/>
<rect x="241.8" y="409" width="94.8" height="1" fill="#dceaf6"/>
<rect x="241.8" y="410" width="94.8" height="1" fill="#d6e6f4"/>
<rect x="241.8" y="411" width="94.8" height="1" fill="#d2e3f3"/>
<rect x="241.8" y="412" width="94.8" height="1" fill="#c8dcf0"/>
<rect x="241.8" y="413" width="94.8" height="1" fill="#d4e4f4"/>
<rect x="241.8" y="414" width="94.8" height="1" fill="#d9e7f5"/>
<rect x="241.8" y="415" width="94.8" height="1" fill="#d9e8f5"/>
<rect x="241.8" y="416" width="94.8" height="1" fill="#d7e6f5"/>
<rect x="241.8" y="417" width="94.8" height="1" fill="#d1e3f3"/>
<rect x="241.8" y="418" width="94.8" height="1" fill="#d6e6f4"/>
<rect x="241.8" y="419" width="94.8" height="1" fill="#d2e3f3"/>
<rect x="241.8" y="420" width="94.8" height="1" fill="#d5e5f4"/>
<rect x="241.8" y="421" width="94.8" height="1" fill="#d9e8f5"/>
<rect x="241.8" y="422" width="94.8" height="1" fill="#ddeaf7"/>
<rect x="241.8" y="423" width="94.8" height="1" fill="#d8e7f5"/>
<rect x="241.8" y="424" width="94.8" height="1" fill="#d9e7f5"/>
<rect x="241.8" y="425" width="94.8" height="1" fill="#d2e3f3"/>
<rect x="241.8" y="426" width="94.8" height="1" fill="#d2e3f3"/>
<rect x="241.8" y="427" width="94.8" height="1" fill="#dbe9f6"/>
<rect x="241.8" y="428" width="94.8" height="1" fill="#d3e3f3"/>
<rect x="241.8" y="429" width="94.8" height="1" fill="#d2e3f3"/>
<rect x="241.8" y="430" width="94.8" height="1" fill="#dfecf7"/>
<rect x="241.8" y="431" width="94.8" height="1" fill="#dbe9f6"/>
<rect x="241.8" y="432" width="94.8" height="1" fill="#d5e5f4"/>
<rect x="241.8" y="433" width="94.8" height="1" fill="#dbe9f6"/>
<rect x="241.8" y="434" width="94.8" height="1" fill="#d9e7f5"/>
<rect x="241.8" y="435" width="94.8" height="1" fill="#d3e4f3"/>
<rect x="241.8" y="436" width="94.8" height="1" fill="#d3e4f3"/>
<rect x="241.8" y="437" width="94.8" height="1" fill="#bcd7ec"/>
<rect x="241.8" y="438" width="94.8" height="1" fill="#d2e3f3"/>
<rect x="241.8" y="439" width="94.8" height="1" fill="#d8e7f5"/>
<rect x="241.8" y="440" width="94.8" height="1" fill="#ccdff1"/>
<rect x="241.8" y="441" width="94.8" height="1" fill="#d1e3f3"/>
<rect x="241.8" y="442" width="94.8" height="1" fill="#ccdff1"/>
<rect x="241.8" y="443" width="94.8" height="1" fill="#d4e5f4"/>
<rect x="241.8" y="444" width="94.8" height="1" fill="#d3e4f3"/>
<rect x="241.8" y="445" width="94.8" height="1" fill="#d3e4f3"/>
<rect x="241.8" y="446" width="94.8" height="1" fill="#d5e5f4"/>
<rect x="241.8" y="447" width="94.8" height="1" fill="#d4e4f4"/>
<rect x="241.8" y="448" width="94.8" height="1" fill="#d4e4f4"/>
<rect x="241.8" y="449" width="94.8" height="1" fill="#d2e3f3"/>
<rect x="241.8" y="450" width="94.8" height="1" fill="#d3e4f3"/>
<rect x="241.8" y="451" width="94.8" height="1" fill="#d5e5f4"/>
<rect x="241.8" y="452" width="94.8" height="1" fill="#d3e4f3"/>
<linearGradient id="g13" x1="0" y1="0" x2="0" y2="1"><stop offset="0" stop-color="#fff" stop-opacity="0.08"/><stop offset="1" stop-color="#fff" stop-opacity="0"/></linearGradient>
<rect x="287.7" y="117" width="4" height="83" fill="url(#g13)"/>
<line x1="241.8" y1="117" x2="241.8" y2="453" stroke="#999" stroke-width="1"/>
<line x1="241.8" y1="453.4" x2="336.6" y2="453.4" stroke="#888" stroke-width="0.9"/>
<line x1="336.6" y1="117" x2="336.6" y2="453" stroke="#111" stroke-width="1.1"/>
<line x1="241.8" y1="453" x2="241.8" y2="455.6" stroke="#222" stroke-width="0.8"/>
<line x1="289.2" y1="453" x2="289.2" y2="455.6" stroke="#222" stroke-width="0.8"/>
<line x1="336.6" y1="453" x2="336.6" y2="455.6" stroke="#222" stroke-width="0.8"/>
<text x="241.3" y="464.2" font-weight="bold" font-size="6.6" fill="#111" font-family="Liberation Sans, sans-serif">-1.0</text>
<text x="289.2" y="464.2" text-anchor="middle" font-weight="bold" font-size="6.6" fill="#111" font-family="Liberation Sans, sans-serif">TSS</text>
<text x="337.1" y="464.2" text-anchor="end" font-weight="bold" font-size="6.6" fill="#111" font-family="Liberation Sans, sans-serif">1.0Kb</text>
<linearGradient id="cb2"><stop offset="0.0" stop-color="#f7fbff"/><stop offset="0.1" stop-color="#e3eef9"/><stop offset="0.2" stop-color="#d0e1f2"/><stop offset="0.3" stop-color="#b6d4e9"/><stop offset="0.4" stop-color="#94c4df"/><stop offset="0.5" stop-color="#6baed6"/><stop offset="0.6" stop-color="#4a98c9"/><stop offset="0.7" stop-color="#2e7ebc"/><stop offset="0.8" stop-color="#1764ab"/><stop offset="0.9" stop-color="#084a92"/><stop offset="1.0" stop-color="#08306b"/></linearGradient>
<rect x="241.8" y="484.8" width="94.8" height="7.0" fill="url(#cb2)"/>
<line x1="241.8" y1="484.8" x2="336.6" y2="484.8" stroke="#333" stroke-width="0.9"/>
<line x1="241.8" y1="484.8" x2="241.8" y2="491.8" stroke="#999" stroke-width="0.6"/>
<line x1="336.6" y1="484.8" x2="336.6" y2="491.8" stroke="#999" stroke-width="0.6"/>
<line x1="242.2" y1="491.8" x2="242.2" y2="494.0" stroke="#333" stroke-width="0.7"/>
<text x="242.2" y="501.5" text-anchor="middle" font-size="6.6" fill="#333" font-family="Liberation Sans, sans-serif">0</text>
<line x1="277.2" y1="491.8" x2="277.2" y2="494.0" stroke="#333" stroke-width="0.7"/>
<text x="277.2" y="501.5" text-anchor="middle" font-size="6.6" fill="#333" font-family="Liberation Sans, sans-serif">3</text>
<line x1="312.3" y1="491.8" x2="312.3" y2="494.0" stroke="#333" stroke-width="0.7"/>
<text x="312.3" y="501.5" text-anchor="middle" font-size="6.6" fill="#333" font-family="Liberation Sans, sans-serif">6</text>
<rect x="352.4" y="117" width="94.8" height="1" fill="#e0ecf8"/>
<rect x="352.4" y="118" width="94.8" height="1" fill="#e1edf8"/>
<rect x="352.4" y="119" width="94.8" height="1" fill="#e8f2fa"/>
<rect x="352.4" y="120" width="94.8" height="1" fill="#ebf3fb"/>
<rect x="352.4" y="121" width="94.8" height="1" fill="#e5f0f9"/>
<rect x="352.4" y="122" width="94.8" height="1" fill="#e1edf8"/>
<rect x="352.4" y="123" width="94.8" height="1" fill="#e3eef9"/>
<rect x="352.4" y="124" width="94.8" height="1" fill="#e8f1fa"/>
<rect x="352.4" y="125" width="94.8" height="1" fill="#e5f0f9"/>
<rect x="352.4" y="126" width="94.8" height="1" fill="#deebf7"/>
<rect x="352.4" y="127" width="94.8" height="1" fill="#e6f0fa"/>
<rect x="352.4" y="128" width="94.8" height="1" fill="#dfecf7"/>
<rect x="352.4" y="129" width="94.8" height="1" fill="#e0ecf7"/>
<rect x="352.4" y="130" width="94.8" height="1" fill="#e0ecf8"/>
<rect x="352.4" y="131" width="94.8" height="1" fill="#dfebf7"/>
<rect x="352.4" y="132" width="94.8" height="1" fill="#e3eef8"/>
<rect x="352.4" y="133" width="94.8" height="1" fill="#e2edf8"/>
<rect x="352.4" y="134" width="94.8" height="1" fill="#dbe9f6"/>
<rect x="352.4" y="135" width="94.8" height="1" fill="#e1edf8"/>
<rect x="352.4" y="136" width="94.8" height="1" fill="#e2edf8"/>
<rect x="352.4" y="137" width="94.8" height="1" fill="#e5eff9"/>
<rect x="352.4" y="138" width="94.8" height="1" fill="#e2eef8"/>
<rect x="352.4" y="139" width="94.8" height="1" fill="#ddeaf7"/>
<rect x="352.4" y="140" width="94.8" height="1" fill="#dbe9f6"/>
<rect x="352.4" y="141" width="94.8" height="1" fill="#dceaf6"/>
<rect x="352.4" y="142" width="94.8" height="1" fill="#dceaf6"/>
<rect x="352.4" y="143" width="94.8" height="1" fill="#dceaf6"/>
<rect x="352.4" y="144" width="94.8" height="1" fill="#ddeaf7"/>
<rect x="352.4" y="145" width="94.8" height="1" fill="#dae9f6"/>
<rect x="352.4" y="146" width="94.8" height="1" fill="#deebf7"/>
<rect x="352.4" y="147" width="94.8" height="1" fill="#dae8f6"/>
<rect x="352.4" y="148" width="94.8" height="1" fill="#ddeaf7"/>
<rect x="352.4" y="149" width="94.8" height="1" fill="#e3eef8"/>
<rect x="352.4" y="150" width="94.8" height="1" fill="#e2eef8"/>
<rect x="352.4" y="151" width="94.8" height="1" fill="#deebf7"/>
<rect x="352.4" y="152" width="94.8" height="1" fill="#deebf7"/>
<rect x="352.4" y="153" width="94.8" height="1" fill="#e0edf8"/>
<rect x="352.4" y="154" width="94.8" height="1" fill="#dfecf7"/>
<rect x="352.4" y="155" width="94.8" height="1" fill="#dbe9f6"/>
<rect x="352.4" y="156" width="94.8" height="1" fill="#dae8f6"/>
<rect x="352.4" y="157" width="94.8" height="1" fill="#d8e7f5"/>
<rect x="352.4" y="158" width="94.8" height="1" fill="#ddeaf7"/>
<rect x="352.4" y="159" width="94.8" height="1" fill="#dae8f6"/>
<rect x="352.4" y="160" width="94.8" height="1" fill="#d6e6f4"/>
<rect x="352.4" y="161" width="94.8" height="1" fill="#d8e7f5"/>
<rect x="352.4" y="162" width="94.8" height="1" fill="#d3e4f3"/>
<rect x="352.4" y="163" width="94.8" height="1" fill="#dae8f6"/>
<rect x="352.4" y="164" width="94.8" height="1" fill="#dae8f6"/>
<rect x="352.4" y="165" width="94.8" height="1" fill="#d8e7f5"/>
<rect x="352.4" y="166" width="94.8" height="1" fill="#dae8f6"/>
<rect x="352.4" y="167" width="94.8" height="1" fill="#d9e8f5"/>
<rect x="352.4" y="168" width="94.8" height="1" fill="#d7e7f5"/>
<rect x="352.4" y="169" width="94.8" height="1" fill="#d8e7f5"/>
<rect x="352.4" y="170" width="94.8" height="1" fill="#d9e8f5"/>
<rect x="352.4" y="171" width="94.8" height="1" fill="#d9e8f5"/>
<rect x="352.4" y="172" width="94.8" height="1" fill="#d7e7f5"/>
<rect x="352.4" y="173" width="94.8" height="1" fill="#dceaf6"/>
<rect x="352.4" y="174" width="94.8" height="1" fill="#d7e6f5"/>
<rect x="352.4" y="175" width="94.8" height="1" fill="#dae8f6"/>
<rect x="352.4" y="176" width="94.8" height="1" fill="#d7e6f5"/>
<rect x="352.4" y="177" width="94.8" height="1" fill="#d9e8f5"/>
<rect x="352.4" y="178" width="94.8" height="1" fill="#d5e5f4"/>
<rect x="352.4" y="179" width="94.8" height="1" fill="#d6e6f4"/>
<rect x="352.4" y="180" width="94.8" height="1" fill="#d6e5f4"/>
<rect x="352.4" y="181" width="94.8" height="1" fill="#d7e6f5"/>
<rect x="352.4" y="182" width="94.8" height="1" fill="#d4e4f4"/>
<rect x="352.4" y="183" width="94.8" height="1" fill="#cde0f1"/>
<rect x="352.4" y="184" width="94.8" height="1" fill="#d9e8f5"/>
<rect x="352.4" y="185" width="94.8" height="1" fill="#d2e3f3"/>
<rect x="352.4" y="186" width="94.8" height="1" fill="#d1e3f3"/>
<rect x="352.4" y="187" width="94.8" height="1" fill="#d4e4f4"/>
<rect x="352.4" y="188" width="94.8" height="1" fill="#d7e6f5"/>
<rect x="352.4" y="189" width="94.8" height="1" fill="#ccdff1"/>
<rect x="352.4" y="190" width="94.8" height="1" fill="#cfe1f2"/>
<rect x="352.4" y="191" width="94.8" height="1" fill="#cde0f1"/>
<rect x="352.4" y="192" width="94.8" height="1" fill="#d1e3f3"/>
<rect x="352.4" y="193" width="94.8" height="1" fill="#d4e4f4"/>
<rect x="352.4" y="194" width="94.8" height="1" fill="#ccdff1"/>
<rect x="352.4" y="195" width="94.8" height="1" fill="#ccdff1"/>
<rect x="352.4" y="196" width="94.8" height="1" fill="#d0e2f2"/>
<rect x="352.4" y="197" width="94.8" height="1" fill="#d0e2f2"/>
<rect x="352.4" y="198" width="94.8" height="1" fill="#cddff1"/>
<rect x="352.4" y="199" width="94.8" height="1" fill="#d1e2f3"/>
<rect x="352.4" y="200" width="94.8" height="1" fill="#d2e3f3"/>
<rect x="352.4" y="201" width="94.8" height="1" fill="#cfe1f2"/>
<rect x="352.4" y="202" width="94.8" height="1" fill="#caddf0"/>
<rect x="352.4" y="203" width="94.8" height="1" fill="#c9ddf0"/>
<rect x="352.4" y="204" width="94.8" height="1" fill="#ccdff1"/>
<rect x="352.4" y="205" width="94.8" height="1" fill="#c7dcef"/>
<rect x="352.4" y="206" width="94.8" height="1" fill="#ccdff1"/>
<rect x="352.4" y="207" width="94.8" height="1" fill="#cee0f2"/>
<rect x="352.4" y="208" width="94.8" height="1" fill="#c0d9ed"/>
<rect x="352.4" y="209" width="94.8" height="1" fill="#ccdff1"/>
<rect x="352.4" y="210" width="94.8" height="1" fill="#c9ddf0"/>
<rect x="352.4" y="211" width="94.8" height="1" fill="#c8dcf0"/>
<rect x="352.4" y="212" width="94.8" height="1" fill="#caddf0"/>
<rect x="352.4" y="213" width="94.8" height="1" fill="#c9ddf0"/>
<rect x="352.4" y="214" width="94.8" height="1" fill="#c7dcef"/>
<rect x="352.4" y="215" width="94.8" height="1" fill="#4f9bcb"/>
<rect x="352.4" y="216" width="94.8" height="1" fill="#5da5d1"/>
<rect x="352.4" y="217" width="94.8" height="1" fill="#59a2cf"/>
<rect x="352.4" y="218" width="94.8" height="1" fill="#4896c8"/>
<rect x="352.4" y="219" width="94.8" height="1" fill="#4d99ca"/>
<rect x="352.4" y="220" width="94.8" height="1" fill="#5ca4d0"/>
<rect x="352.4" y="221" width="94.8" height="1" fill="#59a1cf"/>
<rect x="352.4" y="222" width="94.8" height="1" fill="#64a9d3"/>
<rect x="352.4" y="223" width="94.8" height="1" fill="#6aadd6"/>
<rect x="352.4" y="224" width="94.8" height="1" fill="#62a8d2"/>
<rect x="352.4" y="225" width="94.8" height="1" fill="#4796c8"/>
<rect x="352.4" y="226" width="94.8" height="1" fill="#5da5d1"/>
<rect x="352.4" y="227" width="94.8" height="1" fill="#73b3d8"/>
<rect x="352.4" y="228" width="94.8" height="1" fill="#5fa6d1"/>
<rect x="352.4" y="229" width="94.8" height="1" fill="#62a8d2"/>
<rect x="352.4" y="230" width="94.8" height="1" fill="#539dcd"/>
<rect x="352.4" y="231" width="94.8" height="1" fill="#4a98c9"/>
<rect x="352.4" y="232" width="94.8" height="1" fill="#5ca3d0"/>
<rect x="352.4" y="233" width="94.8" height="1" fill="#5aa2cf"/>
<rect x="352.4" y="234" width="94.8" height="1" fill="#65aad4"/>
<rect x="352.4" y="235" width="94.8" height="1" fill="#4f9bcb"/>
<rect x="352.4" y="236" width="94.8" height="1" fill="#61a7d2"/>
<rect x="352.4" y="237" width="94.8" height="1" fill="#5ca4d0"/>
<rect x="352.4" y="238" width="94.8" height="1" fill="#4090c5"/>
<rect x="352.4" y="239" width="94.8" height="1" fill="#61a7d2"/>
<rect x="352.4" y="240" width="94.8" height="1" fill="#5ca3d0"/>
<rect x="352.4" y="241" width="94.8" height="1" fill="#5ca4d0"/>
<rect x="352.4" y="242" width="94.8" height="1" fill="#57a0ce"/>
<rect x="352.4" y="243" width="94.8" height="1" fill="#56a0ce"/>
<rect x="352.4" y="244" width="94.8" height="1" fill="#4a98c9"/>
<rect x="352.4" y="245" width="94.8" height="1" fill="#549ecd"/>
<rect x="352.4" y="246" width="94.8" height="1" fill="#559fcd"/>
<rect x="352.4" y="247" width="94.8" height="1" fill="#6aadd6"/>
<rect x="352.4" y="248" width="94.8" height="1" fill="#5ba3d0"/>
<rect x="352.4" y="249" width="94.8" height="1" fill="#6caed6"/>
<rect x="352.4" y="250" width="94.8" height="1" fill="#529dcc"/>
<rect x="352.4" y="251" width="94.8" height="1" fill="#5ca4d0"/>
<rect x="352.4" y="252" width="94.8" height="1" fill="#79b6d9"/>
<rect x="352.4" y="253" width="94.8" height="1" fill="#89bfdd"/>
<rect x="352.4" y="254" width="94.8" height="1" fill="#84bbdb"/>
<rect x="352.4" y="255" width="94.8" height="1" fill="#84bcdb"/>
<rect x="352.4" y="256" width="94.8" height="1" fill="#7eb9da"/>
<rect x="352.4" y="257" width="94.8" height="1" fill="#85bcdc"/>
<rect x="352.4" y="258" width="94.8" height="1" fill="#8dc1dd"/>
<rect x="352.4" y="259" width="94.8" height="1" fill="#8bc0dd"/>
<rect x="352.4" y="260" width="94.8" height="1" fill="#8ec1de"/>
<rect x="352.4" y="261" width="94.8" height="1" fill="#92c4de"/>
<rect x="352.4" y="262" width="94.8" height="1" fill="#56a0ce"/>
<rect x="352.4" y="263" width="94.8" height="1" fill="#5aa2cf"/>
<rect x="352.4" y="264" width="94.8" height="1" fill="#69add5"/>
<rect x="352.4" y="265" width="94.8" height="1" fill="#82bbdb"/>
<rect x="352.4" y="266" width="94.8" height="1" fill="#8dc1dd"/>
<rect x="352.4" y="267" width="94.8" height="1" fill="#73b2d8"/>
<rect x="352.4" y="268" width="94.8" height="1" fill="#77b5d9"/>
<rect x="352.4" y="269" width="94.8" height="1" fill="#7eb9da"/>
<rect x="352.4" y="270" width="94.8" height="1" fill="#cfe1f2"/>
<rect x="352.4" y="271" width="94.8" height="1" fill="#5da5d1"/>
<rect x="352.4" y="272" width="94.8" height="1" fill="#7cb7da"/>
<rect x="352.4" y="273" width="94.8" height="1" fill="#66aad4"/>
<rect x="352.4" y="274" width="94.8" height="1" fill="#6aaed6"/>
<rect x="352.4" y="275" width="94.8" height="1" fill="#66aad4"/>
<rect x="352.4" y="276" width="94.8" height="1" fill="#79b6d9"/>
<rect x="352.4" y="277" width="94.8" height="1" fill="#62a8d3"/>
<rect x="352.4" y="278" width="94.8" height="1" fill="#64a9d3"/>
<rect x="352.4" y="279" width="94.8" height="1" fill="#94c5df"/>
<rect x="352.4" y="280" width="94.8" height="1" fill="#6aaed6"/>
<rect x="352.4" y="281" width="94.8" height="1" fill="#62a8d3"/>
<rect x="352.4" y="282" width="94.8" height="1" fill="#84bcdb"/>
<rect x="352.4" y="283" width="94.8" height="1" fill="#74b3d8"/>
<rect x="352.4" y="284" width="94.8" height="1" fill="#77b4d8"/>
<rect x="352.4" y="285" width="94.8" height="1" fill="#72b2d8"/>
<rect x="352.4" y="286" width="94.8" height="1" fill="#80b9da"/>
<rect x="352.4" y="287" width="94.8" height="1" fill="#6eb0d7"/>
<rect x="352.4" y="288" width="94.8" height="1" fill="#6aadd6"/>
<rect x="352.4" y="289" width="94.8" height="1" fill="#75b3d8"/>
<rect x="352.4" y="290" width="94.8" height="1" fill="#76b4d8"/>
<rect x="352.4" y="291" width="94.8" height="1" fill="#8cc0dd"/>
<rect x="352.4" y="292" width="94.8" height="1" fill="#72b2d7"/>
<rect x="352.4" y="293" width="94.8" height="1" fill="#84bcdb"/>
<rect x="352.4" y="294" width="94.8" height="1" fill="#78b5d9"/>
<rect x="352.4" y="295" width="94.8" height="1" fill="#7fb9da"/>
<rect x="352.4" y="296" width="94.8" height="1" fill="#59a2cf"/>
<rect x="352.4" y="297" width="94.8" height="1" fill="#6fb0d7"/>
<rect x="352.4" y="298" width="94.8" height="1" fill="#63a8d3"/>
<rect x="352.4" y="299" width="94.8" height="1" fill="#72b2d7"/>
<rect x="352.4" y="300" width="94.8" height="1" fill="#76b4d8"/>
<rect x="352.4" y="301" width="94.8" height="1" fill="#6baed6"/>
<rect x="352.4" y="302" width="94.8" height="1" fill="#74b3d8"/>
<rect x="352.4" y="303" width="94.8" height="1" fill="#5aa3d0"/>
<rect x="352.4" y="304" width="94.8" height="1" fill="#72b2d7"/>
<rect x="352.4" y="305" width="94.8" height="1" fill="#62a8d3"/>
<rect x="352.4" y="306" width="94.8" height="1" fill="#81badb"/>
<rect x="352.4" y="307" width="94.8" height="1" fill="#84bcdb"/>
<rect x="352.4" y="308" width="94.8" height="1" fill="#6eb0d7"/>
<rect x="352.4" y="309" width="94.8" height="1" fill="#86bddc"/>
<rect x="352.4" y="310" width="94.8" height="1" fill="#61a7d2"/>
<rect x="352.4" y="311" width="94.8" height="1" fill="#6aadd5"/>
<rect x="352.4" y="312" width="94.8" height="1" fill="#73b2d8"/>
<rect x="352.4" y="313" width="94.8" height="1" fill="#60a7d2"/>
<rect x="352.4" y="314" width="94.8" height="1" fill="#78b5d9"/>
<rect x="352.4" y="315" width="94.8" height="1" fill="#80badb"/>
<rect x="352.4" y="316" width="94.8" height="1" fill="#99c7e0"/>
<rect x="352.4" y="317" width="94.8" height="1" fill="#95c5df"/>
<rect x="352.4" y="318" width="94.8" height="1" fill="#7db8da"/>
<rect x="352.4" y="319" width="94.8" height="1" fill="#91c3de"/>
<rect x="352.4" y="320" width="94.8" height="1" fill="#70b1d7"/>
<rect x="352.4" y="321" width="94.8" height="1" fill="#67abd5"/>
<rect x="352.4" y="322" width="94.8" height="1" fill="#6dafd6"/>
<rect x="352.4" y="323" width="94.8" height="1" fill="#89bfdd"/>
<rect x="352.4" y="324" width="94.8" height="1" fill="#84bcdb"/>
<rect x="352.4" y="325" width="94.8" height="1" fill="#89bfdd"/>
<rect x="352.4" y="326" width="94.8" height="1" fill="#6fb0d7"/>
<rect x="352.4" y="327" width="94.8" height="1" fill="#67abd4"/>
<rect x="352.4" y="328" width="94.8" height="1" fill="#76b4d8"/>
<rect x="352.4" y="329" width="94.8" height="1" fill="#75b3d8"/>
<rect x="352.4" y="330" width="94.8" height="1" fill="#72b2d7"/>
<rect x="352.4" y="331" width="94.8" height="1" fill="#6baed6"/>
<rect x="352.4" y="332" width="94.8" height="1" fill="#7fb9da"/>
<rect x="352.4" y="333" width="94.8" height="1" fill="#84bcdb"/>
<rect x="352.4" y="334" width="94.8" height="1" fill="#6dafd6"/>
<rect x="352.4" y="335" width="94.8" height="1" fill="#6cafd6"/>
<rect x="352.4" y="336" width="94.8" height="1" fill="#6dafd7"/>
<rect x="352.4" y="337" width="94.8" height="1" fill="#73b2d8"/>
<rect x="352.4" y="338" width="94.8" height="1" fill="#6baed6"/>
<rect x="352.4" y="339" width="94.8" height="1" fill="#6dafd6"/>
<rect x="352.4" y="340" width="94.8" height="1" fill="#7cb7da"/>
<rect x="352.4" y="341" width="94.8" height="1" fill="#62a8d2"/>
<rect x="352.4" y="342" width="94.8" height="1" fill="#64a9d3"/>
<rect x="352.4" y="343" width="94.8" height="1" fill="#76b4d8"/>
<rect x="352.4" y="344" width="94.8" height="1" fill="#77b5d9"/>
<rect x="352.4" y="345" width="94.8" height="1" fill="#7fb9da"/>
<rect x="352.4" y="346" width="94.8" height="1" fill="#89bfdd"/>
<rect x="352.4" y="347" width="94.8" height="1" fill="#86bddc"/>
<rect x="352.4" y="348" width="94.8" height="1" fill="#8abfdd"/>
<rect x="352.4" y="349" width="94.8" height="1" fill="#81badb"/>
<rect x="352.4" y="350" width="94.8" height="1" fill="#72b2d8"/>
<rect x="352.4" y="351" width="94.8" height="1" fill="#75b4d8"/>
<rect x="352.4" y="352" width="94.8" height="1" fill="#88bedc"/>
<rect x="352.4" y="353" width="94.8" height="1" fill="#7bb7d9"/>
<rect x="352.4" y="354" width="94.8" height="1" fill="#7eb8da"/>
<rect x="352.4" y="355" width="94.8" height="1" fill="#85bcdc"/>
<rect x="352.4" y="356" width="94.8" height="1" fill="#5ca4d0"/>
<rect x="352.4" y="357" width="94.8" height="1" fill="#72b2d7"/>
<rect x="352.4" y="358" width="94.8" height="1" fill="#5fa6d1"/>
<rect x="352.4" y="359" width="94.8" height="1" fill="#7cb8da"/>
<rect x="352.4" y="360" width="94.8" height="1" fill="#69acd5"/>
<rect x="352.4" y="361" width="94.8" height="1" fill="#71b2d7"/>
<rect x="352.4" y="362" width="94.8" height="1" fill="#60a7d2"/>
<rect x="352.4" y="363" width="94.8" height="1" fill="#64a9d3"/>
<rect x="352.4" y="364" width="94.8" height="1" fill="#74b3d8"/>
<rect x="352.4" y="365" width="94.8" height="1" fill="#66aad4"/>
<rect x="352.4" y="366" width="94.8" height="1" fill="#5ca4d0"/>
<rect x="352.4" y="367" width="94.8" height="1" fill="#5ba3d0"/>
<rect x="352.4" y="368" width="94.8" height="1" fill="#64a9d3"/>
<rect x="352.4" y="369" width="94.8" height="1" fill="#7ab6d9"/>
<rect x="352.4" y="370" width="94.8" height="1" fill="#60a7d2"/>
<rect x="352.4" y="371" width="94.8" height="1" fill="#7cb7da"/>
<rect x="352.4" y="372" width="94.8" height="1" fill="#7cb7da"/>
<rect x="352.4" y="373" width="94.8" height="1" fill="#8ec1dd"/>
<rect x="352.4" y="374" width="94.8" height="1" fill="#7fb9da"/>
<rect x="352.4" y="375" width="94.8" height="1" fill="#8dc0dd"/>
<rect x="352.4" y="376" width="94.8" height="1" fill="#7bb7d9"/>
<rect x="352.4" y="377" width="94.8" height="1" fill="#90c2de"/>
<rect x="352.4" y="378" width="94.8" height="1" fill="#66aad4"/>
<rect x="352.4" y="379" width="94.8" height="1" fill="#6aadd6"/>
<rect x="352.4" y="380" width="94.8" height="1" fill="#64a9d3"/>
<rect x="352.4" y="381" width="94.8" height="1" fill="#67abd4"/>
<rect x="352.4" y="382" width="94.8" height="1" fill="#74b3d8"/>
<rect x="352.4" y="383" width="94.8" height="1" fill="#72b2d8"/>
<rect x="352.4" y="384" width="94.8" height="1" fill="#75b4d8"/>
<rect x="352.4" y="385" width="94.8" height="1" fill="#91c3de"/>
<rect x="352.4" y="386" width="94.8" height="1" fill="#8dc1dd"/>
<rect x="352.4" y="387" width="94.8" height="1" fill="#81badb"/>
<rect x="352.4" y="388" width="94.8" height="1" fill="#6eafd7"/>
<rect x="352.4" y="389" width="94.8" height="1" fill="#89bedc"/>
<rect x="352.4" y="390" width="94.8" height="1" fill="#7ab6d9"/>
<rect x="352.4" y="391" width="94.8" height="1" fill="#80badb"/>
<rect x="352.4" y="392" width="94.8" height="1" fill="#71b1d7"/>
<rect x="352.4" y="393" width="94.8" height="1" fill="#6dafd6"/>
<rect x="352.4" y="394" width="94.8" height="1" fill="#85bcdc"/>
<rect x="352.4" y="395" width="94.8" height="1" fill="#a4cce3"/>
<rect x="352.4" y="396" width="94.8" height="1" fill="#86bddc"/>
<rect x="352.4" y="397" width="94.8" height="1" fill="#86bddc"/>
<rect x="352.4" y="398" width="94.8" height="1" fill="#94c4df"/>
<rect x="352.4" y="399" width="94.8" height="1" fill="#8cc0dd"/>
<rect x="352.4" y="400" width="94.8" height="1" fill="#93c4df"/>
<rect x="352.4" y="401" width="94.8" height="1" fill="#90c2de"/>
<rect x="352.4" y="402" width="94.8" height="1" fill="#99c7e0"/>
<rect x="352.4" y="403" width="94.8" height="1" fill="#90c2de"/>
<rect x="352.4" y="404" width="94.8" height="1" fill="#80badb"/>
<rect x="352.4" y="405" width="94.8" height="1" fill="#81badb"/>
<rect x="352.4" y="406" width="94.8" height="1" fill="#83bbdb"/>
<rect x="352.4" y="407" width="94.8" height="1" fill="#91c3de"/>
<rect x="352.4" y="408" width="94.8" height="1" fill="#8abfdd"/>
<rect x="352.4" y="409" width="94.8" height="1" fill="#99c7e0"/>
<rect x="352.4" y="410" width="94.8" height="1" fill="#86bddc"/>
<rect x="352.4" y="411" width="94.8" height="1" fill="#80b9db"/>
<rect x="352.4" y="412" width="94.8" height="1" fill="#8fc2de"/>
<rect x="352.4" y="413" width="94.8" height="1" fill="#81badb"/>
<rect x="352.4" y="414" width="94.8" height="1" fill="#97c6df"/>
<rect x="352.4" y="415" width="94.8" height="1" fill="#70b1d7"/>
<rect x="352.4" y="416" width="94.8" height="1" fill="#72b2d8"/>
<rect x="352.4" y="417" width="94.8" height="1" fill="#7bb7da"/>
<rect x="352.4" y="418" width="94.8" height="1" fill="#89bfdd"/>
<rect x="352.4" y="419" width="94.8" height="1" fill="#8abfdd"/>
<rect x="352.4" y="420" width="94.8" height="1" fill="#88bedc"/>
<rect x="352.4" y="421" width="94.8" height="1" fill="#97c6e0"/>
<rect x="352.4" y="422" width="94.8" height="1" fill="#8abfdd"/>
<rect x="352.4" y="423" width="94.8" height="1" fill="#8ec1de"/>
<rect x="352.4" y="424" width="94.8" height="1" fill="#78b5d9"/>
<rect x="352.4" y="425" width="94.8" height="1" fill="#6eb0d7"/>
<rect x="352.4" y="426" width="94.8" height="1" fill="#6baed6"/>
<rect x="352.4" y="427" width="94.8" height="1" fill="#8fc2de"/>
<rect x="352.4" y="428" width="94.8" height="1" fill="#96c6df"/>
<rect x="352.4" y="429" width="94.8" height="1" fill="#72b2d7"/>
<rect x="352.4" y="430" width="94.8" height="1" fill="#74b3d8"/>
<rect x="352.4" y="431" width="94.8" height="1" fill="#72b2d7"/>
<rect x="352.4" y="432" width="94.8" height="1" fill="#76b4d8"/>
<rect x="352.4" y="433" width="94.8" height="1" fill="#7db8da"/>
<rect x="352.4" y="434" width="94.8" height="1" fill="#66abd4"/>
<rect x="352.4" y="435" width="94.8" height="1" fill="#71b1d7"/>
<rect x="352.4" y="436" width="94.8" height="1" fill="#76b4d8"/>
<rect x="352.4" y="437" width="94.8" height="1" fill="#dae9f6"/>
<rect x="352.4" y="438" width="94.8" height="1" fill="#79b6d9"/>
<rect x="352.4" y="439" width="94.8" height="1" fill="#68acd5"/>
<rect x="352.4" y="440" width="94.8" height="1" fill="#6eb0d7"/>
<rect x="352.4" y="441" width="94.8" height="1" fill="#6baed6"/>
<rect x="352.4" y="442" width="94.8" height="1" fill="#79b6d9"/>
<rect x="352.4" y="443" width="94.8" height="1" fill="#70b1d7"/>
<rect x="352.4" y="444" width="94.8" height="1" fill="#7fb9da"/>
<rect x="352.4" y="445" width="94.8" height="1" fill="#7db8da"/>
<rect x="352.4" y="446" width="94.8" height="1" fill="#6baed6"/>
<rect x="352.4" y="447" width="94.8" height="1" fill="#62a8d3"/>
<rect x="352.4" y="448" width="94.8" height="1" fill="#79b6d9"/>
<rect x="352.4" y="449" width="94.8" height="1" fill="#7db8da"/>
<rect x="352.4" y="450" width="94.8" height="1" fill="#7db8da"/>
<rect x="352.4" y="451" width="94.8" height="1" fill="#7cb7da"/>
<rect x="352.4" y="452" width="94.8" height="1" fill="#79b6d9"/>
<line x1="352.4" y1="117" x2="352.4" y2="453" stroke="#999" stroke-width="1"/>
<line x1="352.4" y1="453.4" x2="447.2" y2="453.4" stroke="#888" stroke-width="0.9"/>
<line x1="447.2" y1="117" x2="447.2" y2="453" stroke="#111" stroke-width="1.1"/>
<line x1="352.4" y1="453" x2="352.4" y2="455.6" stroke="#222" stroke-width="0.8"/>
<line x1="399.8" y1="453" x2="399.8" y2="455.6" stroke="#222" stroke-width="0.8"/>
<line x1="447.2" y1="453" x2="447.2" y2="455.6" stroke="#222" stroke-width="0.8"/>
<text x="351.9" y="464.2" font-weight="bold" font-size="6.6" fill="#111" font-family="Liberation Sans, sans-serif">-1.0</text>
<text x="399.8" y="464.2" text-anchor="middle" font-weight="bold" font-size="6.6" fill="#111" font-family="Liberation Sans, sans-serif">TSS</text>
<text x="447.7" y="464.2" text-anchor="end" font-weight="bold" font-size="6.6" fill="#111" font-family="Liberation Sans, sans-serif">1.0Kb</text>
<linearGradient id="cb3"><stop offset="0.0" stop-color="#f7fbff"/><stop offset="0.1" stop-color="#e3eef9"/><stop offset="0.2" stop-color="#d0e1f2"/><stop offset="0.3" stop-color="#b6d4e9"/><stop offset="0.4" stop-color="#94c4df"/><stop offset="0.5" stop-color="#6baed6"/><stop offset="0.6" stop-color="#4a98c9"/><stop offset="0.7" stop-color="#2e7ebc"/><stop offset="0.8" stop-color="#1764ab"/><stop offset="0.9" stop-color="#084a92"/><stop offset="1.0" stop-color="#08306b"/></linearGradient>
<rect x="352.4" y="484.8" width="94.8" height="7.0" fill="url(#cb3)"/>
<line x1="352.4" y1="484.8" x2="447.2" y2="484.8" stroke="#333" stroke-width="0.9"/>
<line x1="352.4" y1="484.8" x2="352.4" y2="491.8" stroke="#999" stroke-width="0.6"/>
<line x1="447.2" y1="484.8" x2="447.2" y2="491.8" stroke="#999" stroke-width="0.6"/>
<line x1="352.8" y1="491.8" x2="352.8" y2="494.0" stroke="#333" stroke-width="0.7"/>
<text x="352.8" y="501.5" text-anchor="middle" font-size="6.6" fill="#333" font-family="Liberation Sans, sans-serif">0</text>
<line x1="384.1" y1="491.8" x2="384.1" y2="494.0" stroke="#333" stroke-width="0.7"/>
<text x="384.1" y="501.5" text-anchor="middle" font-size="6.6" fill="#333" font-family="Liberation Sans, sans-serif">1</text>
<line x1="415.5" y1="491.8" x2="415.5" y2="494.0" stroke="#333" stroke-width="0.7"/>
<text x="415.5" y="501.5" text-anchor="middle" font-size="6.6" fill="#333" font-family="Liberation Sans, sans-serif">2</text>
<line x1="446.8" y1="491.8" x2="446.8" y2="494.0" stroke="#333" stroke-width="0.7"/>
<text x="446.8" y="501.5" text-anchor="middle" font-size="6.6" fill="#333" font-family="Liberation Sans, sans-serif">3</text>
<rect x="467.6" y="117" width="94.0" height="1" fill="#62bb6d"/>
<rect x="467.6" y="118" width="94.0" height="1" fill="#65bd6f"/>
<rect x="467.6" y="119" width="94.0" height="1" fill="#67be70"/>
<rect x="467.6" y="120" width="94.0" height="1" fill="#70c274"/>
<rect x="467.6" y="121" width="94.0" height="1" fill="#67be70"/>
<rect x="467.6" y="122" width="94.0" height="1" fill="#69bf71"/>
<rect x="467.6" y="123" width="94.0" height="1" fill="#5bb86a"/>
<rect x="467.6" y="124" width="94.0" height="1" fill="#77c579"/>
<rect x="467.6" y="125" width="94.0" height="1" fill="#4aaf61"/>
<rect x="467.6" y="126" width="94.0" height="1" fill="#90d18d"/>
<rect x="467.6" y="127" width="94.0" height="1" fill="#74c476"/>
<rect x="467.6" y="128" width="94.0" height="1" fill="#60ba6c"/>
<rect x="467.6" y="129" width="94.0" height="1" fill="#6ec173"/>
<rect x="467.6" y="130" width="94.0" height="1" fill="#79c67a"/>
<rect x="467.6" y="131" width="94.0" height="1" fill="#71c375"/>
<rect x="467.6" y="132" width="94.0" height="1" fill="#65bc6e"/>
<rect x="467.6" y="133" width="94.0" height="1" fill="#5bb86a"/>
<rect x="467.6" y="134" width="94.0" height="1" fill="#81ca81"/>
<rect x="467.6" y="135" width="94.0" height="1" fill="#71c274"/>
<rect x="467.6" y="136" width="94.0" height="1" fill="#78c67a"/>
<rect x="467.6" y="137" width="94.0" height="1" fill="#63bc6e"/>
<rect x="467.6" y="138" width="94.0" height="1" fill="#76c577"/>
<rect x="467.6" y="139" width="94.0" height="1" fill="#71c274"/>
<rect x="467.6" y="140" width="94.0" height="1" fill="#62bb6d"/>
<rect x="467.6" y="141" width="94.0" height="1" fill="#74c476"/>
<rect x="467.6" y="142" width="94.0" height="1" fill="#70c274"/>
<rect x="467.6" y="143" width="94.0" height="1" fill="#7dc87d"/>
<rect x="467.6" y="144" width="94.0" height="1" fill="#7ac77b"/>
<rect x="467.6" y="145" width="94.0" height="1" fill="#8ed08b"/>
<rect x="467.6" y="146" width="94.0" height="1" fill="#84cc83"/>
<rect x="467.6" y="147" width="94.0" height="1" fill="#7ec97e"/>
<rect x="467.6" y="148" width="94.0" height="1" fill="#80c980"/>
<rect x="467.6" y="149" width="94.0" height="1" fill="#59b769"/>
<rect x="467.6" y="150" width="94.0" height="1" fill="#8fd08c"/>
<rect x="467.6" y="151" width="94.0" height="1" fill="#98d594"/>
<rect x="467.6" y="152" width="94.0" height="1" fill="#79c67a"/>
<rect x="467.6" y="153" width="94.0" height="1" fill="#6ec173"/>
<rect x="467.6" y="154" width="94.0" height="1" fill="#74c476"/>
<rect x="467.6" y="155" width="94.0" height="1" fill="#67be70"/>
<rect x="467.6" y="156" width="94.0" height="1" fill="#58b668"/>
<rect x="467.6" y="157" width="94.0" height="1" fill="#7ac77b"/>
<rect x="467.6" y="158" width="94.0" height="1" fill="#8bcf89"/>
<rect x="467.6" y="159" width="94.0" height="1" fill="#7ec97e"/>
<rect x="467.6" y="160" width="94.0" height="1" fill="#6abf71"/>
<rect x="467.6" y="161" width="94.0" height="1" fill="#72c375"/>
<rect x="467.6" y="162" width="94.0" height="1" fill="#7cc87c"/>
<rect x="467.6" y="163" width="94.0" height="1" fill="#77c578"/>
<rect x="467.6" y="164" width="94.0" height="1" fill="#76c578"/>
<rect x="467.6" y="165" width="94.0" height="1" fill="#90d18d"/>
<rect x="467.6" y="166" width="94.0" height="1" fill="#7ac77b"/>
<rect x="467.6" y="167" width="94.0" height="1" fill="#85cc84"/>
<rect x="467.6" y="168" width="94.0" height="1" fill="#81ca81"/>
<rect x="467.6" y="169" width="94.0" height="1" fill="#83cb83"/>
<rect x="467.6" y="170" width="94.0" height="1" fill="#7dc87d"/>
<rect x="467.6" y="171" width="94.0" height="1" fill="#71c375"/>
<rect x="467.6" y="172" width="94.0" height="1" fill="#7ec97e"/>
<rect x="467.6" y="173" width="94.0" height="1" fill="#7dc87d"/>
<rect x="467.6" y="174" width="94.0" height="1" fill="#73c476"/>
<rect x="467.6" y="175" width="94.0" height="1" fill="#78c679"/>
<rect x="467.6" y="176" width="94.0" height="1" fill="#87cd86"/>
<rect x="467.6" y="177" width="94.0" height="1" fill="#78c679"/>
<rect x="467.6" y="178" width="94.0" height="1" fill="#84cc83"/>
<rect x="467.6" y="179" width="94.0" height="1" fill="#86cc85"/>
<rect x="467.6" y="180" width="94.0" height="1" fill="#80ca80"/>
<rect x="467.6" y="181" width="94.0" height="1" fill="#6fc274"/>
<rect x="467.6" y="182" width="94.0" height="1" fill="#8ace88"/>
<rect x="467.6" y="183" width="94.0" height="1" fill="#8ace88"/>
<rect x="467.6" y="184" width="94.0" height="1" fill="#83cb82"/>
<rect x="467.6" y="185" width="94.0" height="1" fill="#8fd08c"/>
<rect x="467.6" y="186" width="94.0" height="1" fill="#86cc84"/>
<rect x="467.6" y="187" width="94.0" height="1" fill="#76c578"/>
<rect x="467.6" y="188" width="94.0" height="1" fill="#99d594"/>
<rect x="467.6" y="189" width="94.0" height="1" fill="#8ace88"/>
<rect x="467.6" y="190" width="94.0" height="1" fill="#90d18d"/>
<rect x="467.6" y="191" width="94.0" height="1" fill="#71c375"/>
<rect x="467.6" y="192" width="94.0" height="1" fill="#7ec97e"/>
<rect x="467.6" y="193" width="94.0" height="1" fill="#82cb81"/>
<rect x="467.6" y="194" width="94.0" height="1" fill="#8bcf89"/>
<rect x="467.6" y="195" width="94.0" height="1" fill="#99d594"/>
<rect x="467.6" y="196" width="94.0" height="1" fill="#8ed08c"/>
<rect x="467.6" y="197" width="94.0" height="1" fill="#8ace88"/>
<rect x="467.6" y="198" width="94.0" height="1" fill="#8ed08b"/>
<rect x="467.6" y="199" width="94.0" height="1" fill="#7bc77c"/>
<rect x="467.6" y="200" width="94.0" height="1" fill="#84cc83"/>
<rect x="467.6" y="201" width="94.0" height="1" fill="#9bd696"/>
<rect x="467.6" y="202" width="94.0" height="1" fill="#99d594"/>
<rect x="467.6" y="203" width="94.0" height="1" fill="#91d28e"/>
<rect x="467.6" y="204" width="94.0" height="1" fill="#a2d99c"/>
<rect x="467.6" y="205" width="94.0" height="1" fill="#9ad695"/>
<rect x="467.6" y="206" width="94.0" height="1" fill="#9ed898"/>
<rect x="467.6" y="207" width="94.0" height="1" fill="#97d493"/>
<rect x="467.6" y="208" width="94.0" height="1" fill="#97d492"/>
<rect x="467.6" y="209" width="94.0" height="1" fill="#bee5b7"/>
<rect x="467.6" y="210" width="94.0" height="1" fill="#b2e0ac"/>
<rect x="467.6" y="211" width="94.0" height="1" fill="#c0e6b9"/>
<rect x="467.6" y="212" width="94.0" height="1" fill="#bbe4b4"/>
<rect x="467.6" y="213" width="94.0" height="1" fill="#c8e9c1"/>
<rect x="467.6" y="214" width="94.0" height="1" fill="#cbebc4"/>
<rect x="467.6" y="215" width="94.0" height="1" fill="#ccebc6"/>
<rect x="467.6" y="216" width="94.0" height="1" fill="#cbebc5"/>
<rect x="467.6" y="217" width="94.0" height="1" fill="#c4e8bd"/>
<rect x="467.6" y="218" width="94.0" height="1" fill="#d1edcb"/>
<rect x="467.6" y="219" width="94.0" height="1" fill="#c1e7ba"/>
<rect x="467.6" y="220" width="94.0" height="1" fill="#d0edca"/>
<rect x="467.6" y="221" width="94.0" height="1" fill="#c4e8bd"/>
<rect x="467.6" y="222" width="94.0" height="1" fill="#caeac3"/>
<rect x="467.6" y="223" width="94.0" height="1" fill="#cfecc9"/>
<rect x="467.6" y="224" width="94.0" height="1" fill="#c9eac3"/>
<rect x="467.6" y="225" width="94.0" height="1" fill="#d0edc9"/>
<rect x="467.6" y="226" width="94.0" height="1" fill="#cfecc9"/>
<rect x="467.6" y="227" width="94.0" height="1" fill="#cfecc9"/>
<rect x="467.6" y="228" width="94.0" height="1" fill="#bfe6b8"/>
<rect x="467.6" y="229" width="94.0" height="1" fill="#d3eecd"/>
<rect x="467.6" y="230" width="94.0" height="1" fill="#c8e9c1"/>
<rect x="467.6" y="231" width="94.0" height="1" fill="#d1edcb"/>
<rect x="467.6" y="232" width="94.0" height="1" fill="#d6efd0"/>
<rect x="467.6" y="233" width="94.0" height="1" fill="#d5efcf"/>
<rect x="467.6" y="234" width="94.0" height="1" fill="#ccebc6"/>
<rect x="467.6" y="235" width="94.0" height="1" fill="#d3eecc"/>
<rect x="467.6" y="236" width="94.0" height="1" fill="#d7f0d1"/>
<rect x="467.6" y="237" width="94.0" height="1" fill="#d1edcb"/>
<rect x="467.6" y="238" width="94.0" height="1" fill="#d2edcb"/>
<rect x="467.6" y="239" width="94.0" height="1" fill="#ceecc8"/>
<rect x="467.6" y="240" width="94.0" height="1" fill="#d9f0d3"/>
<rect x="467.6" y="241" width="94.0" height="1" fill="#ceecc8"/>
<rect x="467.6" y="242" width="94.0" height="1" fill="#cdecc7"/>
<rect x="467.6" y="243" width="94.0" height="1" fill="#d8f0d2"/>
<rect x="467.6" y="244" width="94.0" height="1" fill="#d8f0d2"/>
<rect x="467.6" y="245" width="94.0" height="1" fill="#d4eece"/>
<rect x="467.6" y="246" width="94.0" height="1" fill="#d7efd1"/>
<rect x="467.6" y="247" width="94.0" height="1" fill="#d2edcc"/>
<rect x="467.6" y="248" width="94.0" height="1" fill="#d2eecc"/>
<rect x="467.6" y="249" width="94.0" height="1" fill="#d6efd0"/>
<rect x="467.6" y="250" width="94.0" height="1" fill="#dcf1d6"/>
<rect x="467.6" y="251" width="94.0" height="1" fill="#e1f4dc"/>
<rect x="467.6" y="252" width="94.0" height="1" fill="#d7efd1"/>
<rect x="467.6" y="253" width="94.0" height="1" fill="#dcf2d7"/>
<rect x="467.6" y="254" width="94.0" height="1" fill="#d2edcb"/>
<rect x="467.6" y="255" width="94.0" height="1" fill="#ccebc6"/>
<rect x="467.6" y="256" width="94.0" height="1" fill="#d4eece"/>
<rect x="467.6" y="257" width="94.0" height="1" fill="#d2edcc"/>
<rect x="467.6" y="258" width="94.0" height="1" fill="#cfecc9"/>
<rect x="467.6" y="259" width="94.0" height="1" fill="#d1edcb"/>
<rect x="467.6" y="260" width="94.0" height="1" fill="#dbf1d6"/>
<rect x="467.6" y="261" width="94.0" height="1" fill="#ddf2d7"/>
<rect x="467.6" y="262" width="94.0" height="1" fill="#daf1d4"/>
<rect x="467.6" y="263" width="94.0" height="1" fill="#d7efd1"/>
<rect x="467.6" y="264" width="94.0" height="1" fill="#dbf1d5"/>
<rect x="467.6" y="265" width="94.0" height="1" fill="#d6efd1"/>
<rect x="467.6" y="266" width="94.0" height="1" fill="#d0edca"/>
<rect x="467.6" y="267" width="94.0" height="1" fill="#7fc97f"/>
<rect x="467.6" y="268" width="94.0" height="1" fill="#d7efd1"/>
<rect x="467.6" y="269" width="94.0" height="1" fill="#dcf1d6"/>
<rect x="467.6" y="270" width="94.0" height="1" fill="#d8f0d3"/>
<rect x="467.6" y="271" width="94.0" height="1" fill="#d3eecc"/>
<rect x="467.6" y="272" width="94.0" height="1" fill="#d0ecc9"/>
<rect x="467.6" y="273" width="94.0" height="1" fill="#d5eecf"/>
<rect x="467.6" y="274" width="94.0" height="1" fill="#dbf1d5"/>
<rect x="467.6" y="275" width="94.0" height="1" fill="#ceecc7"/>
<rect x="467.6" y="276" width="94.0" height="1" fill="#e0f3da"/>
<rect x="467.6" y="277" width="94.0" height="1" fill="#dbf1d6"/>
<rect x="467.6" y="278" width="94.0" height="1" fill="#dcf1d6"/>
<rect x="467.6" y="279" width="94.0" height="1" fill="#d8f0d2"/>
<rect x="467.6" y="280" width="94.0" height="1" fill="#d4eece"/>
<rect x="467.6" y="281" width="94.0" height="1" fill="#d9f0d3"/>
<rect x="467.6" y="282" width="94.0" height="1" fill="#c6e8bf"/>
<rect x="467.6" y="283" width="94.0" height="1" fill="#caeac3"/>
<rect x="467.6" y="284" width="94.0" height="1" fill="#d1edcb"/>
<rect x="467.6" y="285" width="94.0" height="1" fill="#d9f0d3"/>
<rect x="467.6" y="286" width="94.0" height="1" fill="#e0f3da"/>
<rect x="467.6" y="287" width="94.0" height="1" fill="#d3eecd"/>
<rect x="467.6" y="288" width="94.0" height="1" fill="#d2eecc"/>
<rect x="467.6" y="289" width="94.0" height="1" fill="#d5eecf"/>
<rect x="467.6" y="290" width="94.0" height="1" fill="#d0edca"/>
<rect x="467.6" y="291" width="94.0" height="1" fill="#d4eece"/>
<rect x="467.6" y="292" width="94.0" height="1" fill="#def2d9"/>
<rect x="467.6" y="293" width="94.0" height="1" fill="#e3f4dd"/>
<rect x="467.6" y="294" width="94.0" height="1" fill="#dbf1d6"/>
<rect x="467.6" y="295" width="94.0" height="1" fill="#d8f0d2"/>
<rect x="467.6" y="296" width="94.0" height="1" fill="#d5efcf"/>
<rect x="467.6" y="297" width="94.0" height="1" fill="#d6efd0"/>
<rect x="467.6" y="298" width="94.0" height="1" fill="#d9f0d3"/>
<rect x="467.6" y="299" width="94.0" height="1" fill="#dcf2d7"/>
<rect x="467.6" y="300" width="94.0" height="1" fill="#d6efd0"/>
<rect x="467.6" y="301" width="94.0" height="1" fill="#d4eece"/>
<rect x="467.6" y="302" width="94.0" height="1" fill="#daf1d5"/>
<rect x="467.6" y="303" width="94.0" height="1" fill="#def2d8"/>
<rect x="467.6" y="304" width="94.0" height="1" fill="#dbf1d5"/>
<rect x="467.6" y="305" width="94.0" height="1" fill="#def2d8"/>
<rect x="467.6" y="306" width="94.0" height="1" fill="#d8f0d2"/>
<rect x="467.6" y="307" width="94.0" height="1" fill="#def2d9"/>
<rect x="467.6" y="308" width="94.0" height="1" fill="#d8f0d2"/>
<rect x="467.6" y="309" width="94.0" height="1" fill="#dcf2d7"/>
<rect x="467.6" y="310" width="94.0" height="1" fill="#d7efd1"/>
<rect x="467.6" y="311" width="94.0" height="1" fill="#ccebc5"/>
<rect x="467.6" y="312" width="94.0" height="1" fill="#dcf1d6"/>
<rect x="467.6" y="313" width="94.0" height="1" fill="#d9f0d3"/>
<rect x="467.6" y="314" width="94.0" height="1" fill="#ccebc6"/>
<rect x="467.6" y="315" width="94.0" height="1" fill="#d2edcb"/>
<rect x="467.6" y="316" width="94.0" height="1" fill="#d7efd1"/>
<rect x="467.6" y="317" width="94.0" height="1" fill="#d6efd0"/>
<rect x="467.6" y="318" width="94.0" height="1" fill="#d9f0d4"/>
<rect x="467.6" y="319" width="94.0" height="1" fill="#e0f3db"/>
<rect x="467.6" y="320" width="94.0" height="1" fill="#e6f5e1"/>
<rect x="467.6" y="321" width="94.0" height="1" fill="#dff2d9"/>
<rect x="467.6" y="322" width="94.0" height="1" fill="#dcf2d7"/>
<rect x="467.6" y="323" width="94.0" height="1" fill="#d4eecd"/>
<rect x="467.6" y="324" width="94.0" height="1" fill="#d6efd0"/>
<rect x="467.6" y="325" width="94.0" height="1" fill="#e0f3db"/>
<rect x="467.6" y="326" width="94.0" height="1" fill="#d8f0d2"/>
<rect x="467.6" y="327" width="94.0" height="1" fill="#dff2d9"/>
<rect x="467.6" y="328" width="94.0" height="1" fill="#d4eece"/>
<rect x="467.6" y="329" width="94.0" height="1" fill="#ddf2d7"/>
<rect x="467.6" y="330" width="94.0" height="1" fill="#d5efcf"/>
<rect x="467.6" y="331" width="94.0" height="1" fill="#d7f0d2"/>
<rect x="467.6" y="332" width="94.0" height="1" fill="#dbf1d5"/>
<rect x="467.6" y="333" width="94.0" height="1" fill="#d4eece"/>
<rect x="467.6" y="334" width="94.0" height="1" fill="#d9f0d3"/>
<rect x="467.6" y="335" width="94.0" height="1" fill="#e5f5e0"/>
<rect x="467.6" y="336" width="94.0" height="1" fill="#d9f0d3"/>
<rect x="467.6" y="337" width="94.0" height="1" fill="#ddf2d8"/>
<rect x="467.6" y="338" width="94.0" height="1" fill="#dcf1d6"/>
<rect x="467.6" y="339" width="94.0" height="1" fill="#d8f0d2"/>
<rect x="467.6" y="340" width="94.0" height="1" fill="#d5efcf"/>
<rect x="467.6" y="341" width="94.0" height="1" fill="#d8f0d2"/>
<rect x="467.6" y="342" width="94.0" height="1" fill="#c4e8bd"/>
<rect x="467.6" y="343" width="94.0" height="1" fill="#ddf2d8"/>
<rect x="467.6" y="344" width="94.0" height="1" fill="#dff3da"/>
<rect x="467.6" y="345" width="94.0" height="1" fill="#dbf1d6"/>
<rect x="467.6" y="346" width="94.0" height="1" fill="#ddf2d7"/>
<rect x="467.6" y="347" width="94.0" height="1" fill="#d6efd0"/>
<rect x="467.6" y="348" width="94.0" height="1" fill="#dcf1d6"/>
<rect x="467.6" y="349" width="94.0" height="1" fill="#d5efcf"/>
<rect x="467.6" y="350" width="94.0" height="1" fill="#cfecc9"/>
<rect x="467.6" y="351" width="94.0" height="1" fill="#d5efcf"/>
<rect x="467.6" y="352" width="94.0" height="1" fill="#daf0d4"/>
<rect x="467.6" y="353" width="94.0" height="1" fill="#d3eecd"/>
<rect x="467.6" y="354" width="94.0" height="1" fill="#dcf2d7"/>
<rect x="467.6" y="355" width="94.0" height="1" fill="#daf1d5"/>
<rect x="467.6" y="356" width="94.0" height="1" fill="#d3eecc"/>
<rect x="467.6" y="357" width="94.0" height="1" fill="#d5efcf"/>
<rect x="467.6" y="358" width="94.0" height="1" fill="#daf0d4"/>
<rect x="467.6" y="359" width="94.0" height="1" fill="#dbf1d5"/>
<rect x="467.6" y="360" width="94.0" height="1" fill="#dcf1d6"/>
<rect x="467.6" y="361" width="94.0" height="1" fill="#d2eecc"/>
<rect x="467.6" y="362" width="94.0" height="1" fill="#ceecc8"/>
<rect x="467.6" y="363" width="94.0" height="1" fill="#d0edca"/>
<rect x="467.6" y="364" width="94.0" height="1" fill="#d8f0d2"/>
<rect x="467.6" y="365" width="94.0" height="1" fill="#d8f0d2"/>
<rect x="467.6" y="366" width="94.0" height="1" fill="#ddf2d8"/>
<rect x="467.6" y="367" width="94.0" height="1" fill="#e0f3da"/>
<rect x="467.6" y="368" width="94.0" height="1" fill="#d7efd1"/>
<rect x="467.6" y="369" width="94.0" height="1" fill="#d6efcf"/>
<rect x="467.6" y="370" width="94.0" height="1" fill="#dff3da"/>
<rect x="467.6" y="371" width="94.0" height="1" fill="#e1f3db"/>
<rect x="467.6" y="372" width="94.0" height="1" fill="#d9f0d3"/>
<rect x="467.6" y="373" width="94.0" height="1" fill="#e0f3da"/>
<rect x="467.6" y="374" width="94.0" height="1" fill="#d5efcf"/>
<rect x="467.6" y="375" width="94.0" height="1" fill="#d3eecc"/>
<rect x="467.6" y="376" width="94.0" height="1" fill="#def2d9"/>
<rect x="467.6" y="377" width="94.0" height="1" fill="#dcf1d6"/>
<rect x="467.6" y="378" width="94.0" height="1" fill="#d5efcf"/>
<rect x="467.6" y="379" width="94.0" height="1" fill="#d4eece"/>
<rect x="467.6" y="380" width="94.0" height="1" fill="#d9f0d3"/>
<rect x="467.6" y="381" width="94.0" height="1" fill="#daf1d5"/>
<rect x="467.6" y="382" width="94.0" height="1" fill="#dbf1d5"/>
<rect x="467.6" y="383" width="94.0" height="1" fill="#d7efd1"/>
<rect x="467.6" y="384" width="94.0" height="1" fill="#d6efd0"/>
<rect x="467.6" y="385" width="94.0" height="1" fill="#daf1d5"/>
<rect x="467.6" y="386" width="94.0" height="1" fill="#dcf2d7"/>
<rect x="467.6" y="387" width="94.0" height="1" fill="#dbf1d5"/>
<rect x="467.6" y="388" width="94.0" height="1" fill="#dbf1d5"/>
<rect x="467.6" y="389" width="94.0" height="1" fill="#dcf1d7"/>
<rect x="467.6" y="390" width="94.0" height="1" fill="#e1f3db"/>
<rect x="467.6" y="391" width="94.0" height="1" fill="#dbf1d5"/>
<rect x="467.6" y="392" width="94.0" height="1" fill="#d6efd0"/>
<rect x="467.6" y="393" width="94.0" height="1" fill="#d9f0d3"/>
<rect x="467.6" y="394" width="94.0" height="1" fill="#d4eece"/>
<rect x="467.6" y="395" width="94.0" height="1" fill="#d7efd1"/>
<rect x="467.6" y="396" width="94.0" height="1" fill="#d6efd0"/>
<rect x="467.6" y="397" width="94.0" height="1" fill="#d5efcf"/>
<rect x="467.6" y="398" width="94.0" height="1" fill="#e3f4de"/>
<rect x="467.6" y="399" width="94.0" height="1" fill="#d8f0d2"/>
<rect x="467.6" y="400" width="94.0" height="1" fill="#d4eece"/>
<rect x="467.6" y="401" width="94.0" height="1" fill="#dff3d9"/>
<rect x="467.6" y="402" width="94.0" height="1" fill="#e4f5df"/>
<rect x="467.6" y="403" width="94.0" height="1" fill="#e1f3db"/>
<rect x="467.6" y="404" width="94.0" height="1" fill="#ddf2d7"/>
<rect x="467.6" y="405" width="94.0" height="1" fill="#d9f0d3"/>
<rect x="467.6" y="406" width="94.0" height="1" fill="#e1f4dc"/>
<rect x="467.6" y="407" width="94.0" height="1" fill="#dcf2d7"/>
<rect x="467.6" y="408" width="94.0" height="1" fill="#e0f3db"/>
<rect x="467.6" y="409" width="94.0" height="1" fill="#daf1d4"/>
<rect x="467.6" y="410" width="94.0" height="1" fill="#dbf1d5"/>
<rect x="467.6" y="411" width="94.0" height="1" fill="#d9f0d4"/>
<rect x="467.6" y="412" width="94.0" height="1" fill="#c9eac3"/>
<rect x="467.6" y="413" width="94.0" height="1" fill="#ddf2d7"/>
<rect x="467.6" y="414" width="94.0" height="1" fill="#d6efd0"/>
<rect x="467.6" y="415" width="94.0" height="1" fill="#dff3da"/>
<rect x="467.6" y="416" width="94.0" height="1" fill="#dcf1d6"/>
<rect x="467.6" y="417" width="94.0" height="1" fill="#ddf2d8"/>
<rect x="467.6" y="418" width="94.0" height="1" fill="#dcf2d7"/>
<rect x="467.6" y="419" width="94.0" height="1" fill="#def2d9"/>
<rect x="467.6" y="420" width="94.0" height="1" fill="#d5efcf"/>
<rect x="467.6" y="421" width="94.0" height="1" fill="#d5eecf"/>
<rect x="467.6" y="422" width="94.0" height="1" fill="#dbf1d5"/>
<rect x="467.6" y="423" width="94.0" height="1" fill="#d1edcb"/>
<rect x="467.6" y="424" width="94.0" height="1" fill="#d8f0d2"/>
<rect x="467.6" y="425" width="94.0" height="1" fill="#d3eecd"/>
<rect x="467.6" y="426" width="94.0" height="1" fill="#def2d9"/>
<rect x="467.6" y="427" width="94.0" height="1" fill="#def2d9"/>
<rect x="467.6" y="428" width="94.0" height="1" fill="#def2d9"/>
<rect x="467.6" y="429" width="94.0" height="1" fill="#d1edca"/>
<rect x="467.6" y="430" width="94.0" height="1" fill="#d4eece"/>
<rect x="467.6" y="431" width="94.0" height="1" fill="#dbf1d6"/>
<rect x="467.6" y="432" width="94.0" height="1" fill="#d9f0d4"/>
<rect x="467.6" y="433" width="94.0" height="1" fill="#dbf1d5"/>
<rect x="467.6" y="434" width="94.0" height="1" fill="#dbf1d5"/>
<rect x="467.6" y="435" width="94.0" height="1" fill="#dff3da"/>
<rect x="467.6" y="436" width="94.0" height="1" fill="#d7efd1"/>
<rect x="467.6" y="437" width="94.0" height="1" fill="#bee5b7"/>
<rect x="467.6" y="438" width="94.0" height="1" fill="#def2d8"/>
<rect x="467.6" y="439" width="94.0" height="1" fill="#d9f0d4"/>
<rect x="467.6" y="440" width="94.0" height="1" fill="#d6efd0"/>
<rect x="467.6" y="441" width="94.0" height="1" fill="#d8f0d3"/>
<rect x="467.6" y="442" width="94.0" height="1" fill="#dcf1d6"/>
<rect x="467.6" y="443" width="94.0" height="1" fill="#d8f0d2"/>
<rect x="467.6" y="444" width="94.0" height="1" fill="#d6efd0"/>
<rect x="467.6" y="445" width="94.0" height="1" fill="#d0edca"/>
<rect x="467.6" y="446" width="94.0" height="1" fill="#dbf1d6"/>
<rect x="467.6" y="447" width="94.0" height="1" fill="#d9f0d3"/>
<rect x="467.6" y="448" width="94.0" height="1" fill="#daf1d4"/>
<rect x="467.6" y="449" width="94.0" height="1" fill="#ddf2d7"/>
<rect x="467.6" y="450" width="94.0" height="1" fill="#dbf1d5"/>
<rect x="467.6" y="451" width="94.0" height="1" fill="#e1f4dc"/>
<rect x="467.6" y="452" width="94.0" height="1" fill="#e0f3da"/>
<linearGradient id="g15" x1="0" y1="0" x2="0" y2="1"><stop offset="0" stop-color="#fff" stop-opacity="0.08"/><stop offset="1" stop-color="#fff" stop-opacity="0"/></linearGradient>
<rect x="513.1" y="117" width="4" height="83" fill="url(#g15)"/>
<rect x="467.6" y="117.0" width="94.0" height="336.0" fill="none" stroke="#111" stroke-width="0.9"/>
<line x1="467.6" y1="453" x2="467.6" y2="455.6" stroke="#222" stroke-width="0.8"/>
<line x1="514.6" y1="453" x2="514.6" y2="455.6" stroke="#222" stroke-width="0.8"/>
<line x1="561.6" y1="453" x2="561.6" y2="455.6" stroke="#222" stroke-width="0.8"/>
<text x="467.1" y="464.2" font-size="6.6" fill="#333" font-family="Liberation Sans, sans-serif">-1.0</text>
<text x="514.6" y="464.2" text-anchor="middle" font-size="6.6" fill="#333" font-family="Liberation Sans, sans-serif">TSS</text>
<text x="562.1" y="464.2" text-anchor="end" font-size="6.6" fill="#333" font-family="Liberation Sans, sans-serif">1.0Kb</text>
<linearGradient id="cb4"><stop offset="0.0" stop-color="#f7fcf5"/><stop offset="0.1" stop-color="#e9f6e4"/><stop offset="0.2" stop-color="#d3eecd"/><stop offset="0.3" stop-color="#b8e3b1"/><stop offset="0.4" stop-color="#98d594"/><stop offset="0.5" stop-color="#74c476"/><stop offset="0.6" stop-color="#4bb062"/><stop offset="0.7" stop-color="#2f984f"/><stop offset="0.8" stop-color="#157f3b"/><stop offset="0.9" stop-color="#006529"/><stop offset="1.0" stop-color="#00441b"/></linearGradient>
<rect x="467.6" y="484.8" width="94.0" height="7.0" fill="url(#cb4)"/>
<line x1="467.6" y1="484.8" x2="561.6" y2="484.8" stroke="#333" stroke-width="0.9"/>
<line x1="467.6" y1="484.8" x2="467.6" y2="491.8" stroke="#999" stroke-width="0.6"/>
<line x1="561.6" y1="484.8" x2="561.6" y2="491.8" stroke="#999" stroke-width="0.6"/>
<line x1="468.0" y1="491.8" x2="468.0" y2="494.0" stroke="#333" stroke-width="0.7"/>
<text x="468.0" y="501.5" text-anchor="middle" font-size="6.6" fill="#333" font-family="Liberation Sans, sans-serif">0</text>
<line x1="502.7" y1="491.8" x2="502.7" y2="494.0" stroke="#333" stroke-width="0.7"/>
<text x="502.7" y="501.5" text-anchor="middle" font-size="6.6" fill="#333" font-family="Liberation Sans, sans-serif">3</text>
<line x1="537.5" y1="491.8" x2="537.5" y2="494.0" stroke="#333" stroke-width="0.7"/>
<text x="537.5" y="501.5" text-anchor="middle" font-size="6.6" fill="#333" font-family="Liberation Sans, sans-serif">6</text>
<rect x="576.6" y="117" width="93.8" height="1" fill="#eff9eb"/>
<rect x="576.6" y="118" width="93.8" height="1" fill="#ebf7e7"/>
<rect x="576.6" y="119" width="93.8" height="1" fill="#eef9eb"/>
<rect x="576.6" y="120" width="93.8" height="1" fill="#ebf7e7"/>
<rect x="576.6" y="121" width="93.8" height="1" fill="#eff9eb"/>
<rect x="576.6" y="122" width="93.8" height="1" fill="#ebf7e6"/>
<rect x="576.6" y="123" width="93.8" height="1" fill="#ebf8e8"/>
<rect x="576.6" y="124" width="93.8" height="1" fill="#e8f6e4"/>
<rect x="576.6" y="125" width="93.8" height="1" fill="#e9f6e4"/>
<rect x="576.6" y="126" width="93.8" height="1" fill="#ebf7e6"/>
<rect x="576.6" y="127" width="93.8" height="1" fill="#ebf7e7"/>
<rect x="576.6" y="128" width="93.8" height="1" fill="#eaf7e5"/>
<rect x="576.6" y="129" width="93.8" height="1" fill="#eaf7e6"/>
<rect x="576.6" y="130" width="93.8" height="1" fill="#ecf8e8"/>
<rect x="576.6" y="131" width="93.8" height="1" fill="#e9f7e5"/>
<rect x="576.6" y="132" width="93.8" height="1" fill="#eff9ec"/>
<rect x="576.6" y="133" width="93.8" height="1" fill="#ebf7e7"/>
<rect x="576.6" y="134" width="93.8" height="1" fill="#e4f5df"/>
<rect x="576.6" y="135" width="93.8" height="1" fill="#e7f6e2"/>
<rect x="576.6" y="136" width="93.8" height="1" fill="#ecf8e8"/>
<rect x="576.6" y="137" width="93.8" height="1" fill="#e7f6e2"/>
<rect x="576.6" y="138" width="93.8" height="1" fill="#e8f6e3"/>
<rect x="576.6" y="139" width="93.8" height="1" fill="#eaf7e5"/>
<rect x="576.6" y="140" width="93.8" height="1" fill="#eaf7e6"/>
<rect x="576.6" y="141" width="93.8" height="1" fill="#e8f6e3"/>
<rect x="576.6" y="142" width="93.8" height="1" fill="#e6f5e1"/>
<rect x="576.6" y="143" width="93.8" height="1" fill="#e7f6e3"/>
<rect x="576.6" y="144" width="93.8" height="1" fill="#e2f4dd"/>
<rect x="576.6" y="145" width="93.8" height="1" fill="#e8f6e3"/>
<rect x="576.6" y="146" width="93.8" height="1" fill="#e5f5e0"/>
<rect x="576.6" y="147" width="93.8" height="1" fill="#eaf7e6"/>
<rect x="576.6" y="148" width="93.8" height="1" fill="#ecf8e8"/>
<rect x="576.6" y="149" width="93.8" height="1" fill="#e7f6e3"/>
<rect x="576.6" y="150" width="93.8" height="1" fill="#e6f5e1"/>
<rect x="576.6" y="151" width="93.8" height="1" fill="#dff2d9"/>
<rect x="576.6" y="152" width="93.8" height="1" fill="#e6f5e1"/>
<rect x="576.6" y="153" width="93.8" height="1" fill="#e5f5e0"/>
<rect x="576.6" y="154" width="93.8" height="1" fill="#e8f6e4"/>
<rect x="576.6" y="155" width="93.8" height="1" fill="#e6f5e1"/>
<rect x="576.6" y="156" width="93.8" height="1" fill="#e3f4dd"/>
<rect x="576.6" y="157" width="93.8" height="1" fill="#e5f5e1"/>
<rect x="576.6" y="158" width="93.8" height="1" fill="#e0f3db"/>
<rect x="576.6" y="159" width="93.8" height="1" fill="#ddf2d8"/>
<rect x="576.6" y="160" width="93.8" height="1" fill="#e0f3da"/>
<rect x="576.6" y="161" width="93.8" height="1" fill="#e3f4de"/>
<rect x="576.6" y="162" width="93.8" height="1" fill="#e3f4de"/>
<rect x="576.6" y="163" width="93.8" height="1" fill="#dff3da"/>
<rect x="576.6" y="164" width="93.8" height="1" fill="#e5f5e0"/>
<rect x="576.6" y="165" width="93.8" height="1" fill="#def2d8"/>
<rect x="576.6" y="166" width="93.8" height="1" fill="#e2f4dd"/>
<rect x="576.6" y="167" width="93.8" height="1" fill="#dff3da"/>
<rect x="576.6" y="168" width="93.8" height="1" fill="#e4f5df"/>
<rect x="576.6" y="169" width="93.8" height="1" fill="#e4f5df"/>
<rect x="576.6" y="170" width="93.8" height="1" fill="#e3f4de"/>
<rect x="576.6" y="171" width="93.8" height="1" fill="#dcf2d7"/>
<rect x="576.6" y="172" width="93.8" height="1" fill="#ddf2d7"/>
<rect x="576.6" y="173" width="93.8" height="1" fill="#ddf2d7"/>
<rect x="576.6" y="174" width="93.8" height="1" fill="#d8f0d2"/>
<rect x="576.6" y="175" width="93.8" height="1" fill="#dff3da"/>
<rect x="576.6" y="176" width="93.8" height="1" fill="#d8f0d2"/>
<rect x="576.6" y="177" width="93.8" height="1" fill="#ddf2d8"/>
<rect x="576.6" y="178" width="93.8" height="1" fill="#dff3da"/>
<rect x="576.6" y="179" width="93.8" height="1" fill="#ddf2d8"/>
<rect x="576.6" y="180" width="93.8" height="1" fill="#d5efcf"/>
<rect x="576.6" y="181" width="93.8" height="1" fill="#d1edca"/>
<rect x="576.6" y="182" width="93.8" height="1" fill="#daf1d4"/>
<rect x="576.6" y="183" width="93.8" height="1" fill="#def2d8"/>
<rect x="576.6" y="184" width="93.8" height="1" fill="#e0f3db"/>
<rect x="576.6" y="185" width="93.8" height="1" fill="#d8f0d3"/>
<rect x="576.6" y="186" width="93.8" height="1" fill="#d5eecf"/>
<rect x="576.6" y="187" width="93.8" height="1" fill="#d4eece"/>
<rect x="576.6" y="188" width="93.8" height="1" fill="#d4eece"/>
<rect x="576.6" y="189" width="93.8" height="1" fill="#ceecc8"/>
<rect x="576.6" y="190" width="93.8" height="1" fill="#d3eecd"/>
<rect x="576.6" y="191" width="93.8" height="1" fill="#d2eecc"/>
<rect x="576.6" y="192" width="93.8" height="1" fill="#d5efcf"/>
<rect x="576.6" y="193" width="93.8" height="1" fill="#d8f0d3"/>
<rect x="576.6" y="194" width="93.8" height="1" fill="#dff3d9"/>
<rect x="576.6" y="195" width="93.8" height="1" fill="#d4eece"/>
<rect x="576.6" y="196" width="93.8" height="1" fill="#d5efcf"/>
<rect x="576.6" y="197" width="93.8" height="1" fill="#d5eecf"/>
<rect x="576.6" y="198" width="93.8" height="1" fill="#d5eecf"/>
<rect x="576.6" y="199" width="93.8" height="1" fill="#d1edcb"/>
<rect x="576.6" y="200" width="93.8" height="1" fill="#cfecc9"/>
<rect x="576.6" y="201" width="93.8" height="1" fill="#dbf1d5"/>
<rect x="576.6" y="202" width="93.8" height="1" fill="#d3eecd"/>
<rect x="576.6" y="203" width="93.8" height="1" fill="#cdebc6"/>
<rect x="576.6" y="204" width="93.8" height="1" fill="#ccebc5"/>
<rect x="576.6" y="205" width="93.8" height="1" fill="#cfecc8"/>
<rect x="576.6" y="206" width="93.8" height="1" fill="#cdebc6"/>
<rect x="576.6" y="207" width="93.8" height="1" fill="#d5efcf"/>
<rect x="576.6" y="208" width="93.8" height="1" fill="#ccebc5"/>
<rect x="576.6" y="209" width="93.8" height="1" fill="#cdebc6"/>
<rect x="576.6" y="210" width="93.8" height="1" fill="#64bc6e"/>
<rect x="576.6" y="211" width="93.8" height="1" fill="#5ab769"/>
<rect x="576.6" y="212" width="93.8" height="1" fill="#61bb6d"/>
<rect x="576.6" y="213" width="93.8" height="1" fill="#75c477"/>
<rect x="576.6" y="214" width="93.8" height="1" fill="#83cb82"/>
<rect x="576.6" y="215" width="93.8" height="1" fill="#71c274"/>
<rect x="576.6" y="216" width="93.8" height="1" fill="#66bd6f"/>
<rect x="576.6" y="217" width="93.8" height="1" fill="#62bb6d"/>
<rect x="576.6" y="218" width="93.8" height="1" fill="#56b567"/>
<rect x="576.6" y="219" width="93.8" height="1" fill="#5eb96b"/>
<rect x="576.6" y="220" width="93.8" height="1" fill="#60ba6c"/>
<rect x="576.6" y="221" width="93.8" height="1" fill="#7ec97e"/>
<rect x="576.6" y="222" width="93.8" height="1" fill="#60ba6c"/>
<rect x="576.6" y="223" width="93.8" height="1" fill="#62bb6d"/>
<rect x="576.6" y="224" width="93.8" height="1" fill="#48af61"/>
<rect x="576.6" y="225" width="93.8" height="1" fill="#57b668"/>
<rect x="576.6" y="226" width="93.8" height="1" fill="#70c274"/>
<rect x="576.6" y="227" width="93.8" height="1" fill="#68be70"/>
<rect x="576.6" y="228" width="93.8" height="1" fill="#5eb96b"/>
<rect x="576.6" y="229" width="93.8" height="1" fill="#74c476"/>
<rect x="576.6" y="230" width="93.8" height="1" fill="#80ca80"/>
<rect x="576.6" y="231" width="93.8" height="1" fill="#66bd6f"/>
<rect x="576.6" y="232" width="93.8" height="1" fill="#6fc274"/>
<rect x="576.6" y="233" width="93.8" height="1" fill="#6dc072"/>
<rect x="576.6" y="234" width="93.8" height="1" fill="#68be70"/>
<rect x="576.6" y="235" width="93.8" height="1" fill="#6dc173"/>
<rect x="576.6" y="236" width="93.8" height="1" fill="#5fba6c"/>
<rect x="576.6" y="237" width="93.8" height="1" fill="#64bc6e"/>
<rect x="576.6" y="238" width="93.8" height="1" fill="#65bd6f"/>
<rect x="576.6" y="239" width="93.8" height="1" fill="#5db96b"/>
<rect x="576.6" y="240" width="93.8" height="1" fill="#69be70"/>
<rect x="576.6" y="241" width="93.8" height="1" fill="#7bc77c"/>
<rect x="576.6" y="242" width="93.8" height="1" fill="#6ec173"/>
<rect x="576.6" y="243" width="93.8" height="1" fill="#7dc87d"/>
<rect x="576.6" y="244" width="93.8" height="1" fill="#6bc072"/>
<rect x="576.6" y="245" width="93.8" height="1" fill="#7bc77b"/>
<rect x="576.6" y="246" width="93.8" height="1" fill="#6fc173"/>
<rect x="576.6" y="247" width="93.8" height="1" fill="#5ab769"/>
<rect x="576.6" y="248" width="93.8" height="1" fill="#87cd86"/>
<rect x="576.6" y="249" width="93.8" height="1" fill="#98d594"/>
<rect x="576.6" y="250" width="93.8" height="1" fill="#a2d99c"/>
<rect x="576.6" y="251" width="93.8" height="1" fill="#98d594"/>
<rect x="576.6" y="252" width="93.8" height="1" fill="#86cd85"/>
<rect x="576.6" y="253" width="93.8" height="1" fill="#89ce87"/>
<rect x="576.6" y="254" width="93.8" height="1" fill="#a0d99b"/>
<rect x="576.6" y="255" width="93.8" height="1" fill="#8ace88"/>
<rect x="576.6" y="256" width="93.8" height="1" fill="#8ccf8a"/>
<rect x="576.6" y="257" width="93.8" height="1" fill="#3ca659"/>
<rect x="576.6" y="258" width="93.8" height="1" fill="#359e53"/>
<rect x="576.6" y="259" width="93.8" height="1" fill="#8bcf89"/>
<rect x="576.6" y="260" width="93.8" height="1" fill="#7fc97f"/>
<rect x="576.6" y="261" width="93.8" height="1" fill="#81ca81"/>
<rect x="576.6" y="262" width="93.8" height="1" fill="#77c679"/>
<rect x="576.6" y="263" width="93.8" height="1" fill="#85cc84"/>
<rect x="576.6" y="264" width="93.8" height="1" fill="#95d391"/>
<rect x="576.6" y="265" width="93.8" height="1" fill="#85cc84"/>
<rect x="576.6" y="266" width="93.8" height="1" fill="#78c67a"/>
<rect x="576.6" y="267" width="93.8" height="1" fill="#85cc84"/>
<rect x="576.6" y="268" width="93.8" height="1" fill="#87cd86"/>
<rect x="576.6" y="269" width="93.8" height="1" fill="#83cb82"/>
<rect x="576.6" y="270" width="93.8" height="1" fill="#85cc84"/>
<rect x="576.6" y="271" width="93.8" height="1" fill="#89ce87"/>
<rect x="576.6" y="272" width="93.8" height="1" fill="#8ace88"/>
<rect x="576.6" y="273" width="93.8" height="1" fill="#74c476"/>
<rect x="576.6" y="274" width="93.8" height="1" fill="#86cc85"/>
<rect x="576.6" y="275" width="93.8" height="1" fill="#83cb82"/>
<rect x="576.6" y="276" width="93.8" height="1" fill="#76c578"/>
<rect x="576.6" y="277" width="93.8" height="1" fill="#75c477"/>
<rect x="576.6" y="278" width="93.8" height="1" fill="#95d391"/>
<rect x="576.6" y="279" width="93.8" height="1" fill="#90d18d"/>
<rect x="576.6" y="280" width="93.8" height="1" fill="#94d390"/>
<rect x="576.6" y="281" width="93.8" height="1" fill="#88cd86"/>
<rect x="576.6" y="282" width="93.8" height="1" fill="#9ed899"/>
<rect x="576.6" y="283" width="93.8" height="1" fill="#99d594"/>
<rect x="576.6" y="284" width="93.8" height="1" fill="#88ce87"/>
<rect x="576.6" y="285" width="93.8" height="1" fill="#80ca80"/>
<rect x="576.6" y="286" width="93.8" height="1" fill="#91d18e"/>
<rect x="576.6" y="287" width="93.8" height="1" fill="#84cb83"/>
<rect x="576.6" y="288" width="93.8" height="1" fill="#75c477"/>
<rect x="576.6" y="289" width="93.8" height="1" fill="#8ccf8a"/>
<rect x="576.6" y="290" width="93.8" height="1" fill="#77c579"/>
<rect x="576.6" y="291" width="93.8" height="1" fill="#82ca81"/>
<rect x="576.6" y="292" width="93.8" height="1" fill="#9dd798"/>
<rect x="576.6" y="293" width="93.8" height="1" fill="#87cd85"/>
<rect x="576.6" y="294" width="93.8" height="1" fill="#82cb82"/>
<rect x="576.6" y="295" width="93.8" height="1" fill="#73c375"/>
<rect x="576.6" y="296" width="93.8" height="1" fill="#89ce87"/>
<rect x="576.6" y="297" width="93.8" height="1" fill="#70c274"/>
<rect x="576.6" y="298" width="93.8" height="1" fill="#81ca81"/>
<rect x="576.6" y="299" width="93.8" height="1" fill="#7ec97e"/>
<rect x="576.6" y="300" width="93.8" height="1" fill="#85cc84"/>
<rect x="576.6" y="301" width="93.8" height="1" fill="#7ec97e"/>
<rect x="576.6" y="302" width="93.8" height="1" fill="#74c476"/>
<rect x="576.6" y="303" width="93.8" height="1" fill="#81ca81"/>
<rect x="576.6" y="304" width="93.8" height="1" fill="#8ace88"/>
<rect x="576.6" y="305" width="93.8" height="1" fill="#7dc87e"/>
<rect x="576.6" y="306" width="93.8" height="1" fill="#85cc84"/>
<rect x="576.6" y="307" width="93.8" height="1" fill="#81ca81"/>
<rect x="576.6" y="308" width="93.8" height="1" fill="#78c679"/>
<rect x="576.6" y="309" width="93.8" height="1" fill="#80ca80"/>
<rect x="576.6" y="310" width="93.8" height="1" fill="#7fc97f"/>
<rect x="576.6" y="311" width="93.8" height="1" fill="#81ca80"/>
<rect x="576.6" y="312" width="93.8" height="1" fill="#82cb82"/>
<rect x="576.6" y="313" width="93.8" height="1" fill="#7ac77b"/>
<rect x="576.6" y="314" width="93.8" height="1" fill="#74c476"/>
<rect x="576.6" y="315" width="93.8" height="1" fill="#7ec97e"/>
<rect x="576.6" y="316" width="93.8" height="1" fill="#97d493"/>
<rect x="576.6" y="317" width="93.8" height="1" fill="#98d594"/>
<rect x="576.6" y="318" width="93.8" height="1" fill="#7ec87e"/>
<rect x="576.6" y="319" width="93.8" height="1" fill="#71c274"/>
<rect x="576.6" y="320" width="93.8" height="1" fill="#71c375"/>
<rect x="576.6" y="321" width="93.8" height="1" fill="#86cd85"/>
<rect x="576.6" y="322" width="93.8" height="1" fill="#82ca81"/>
<rect x="576.6" y="323" width="93.8" height="1" fill="#89ce88"/>
<rect x="576.6" y="324" width="93.8" height="1" fill="#80ca80"/>
<rect x="576.6" y="325" width="93.8" height="1" fill="#84cb83"/>
<rect x="576.6" y="326" width="93.8" height="1" fill="#90d18d"/>
<rect x="576.6" y="327" width="93.8" height="1" fill="#7fc97f"/>
<rect x="576.6" y="328" width="93.8" height="1" fill="#82cb82"/>
<rect x="576.6" y="329" width="93.8" height="1" fill="#6abf71"/>
<rect x="576.6" y="330" width="93.8" height="1" fill="#72c375"/>
<rect x="576.6" y="331" width="93.8" height="1" fill="#93d28f"/>
<rect x="576.6" y="332" width="93.8" height="1" fill="#7cc87d"/>
<rect x="576.6" y="333" width="93.8" height="1" fill="#8ccf8a"/>
<rect x="576.6" y="334" width="93.8" height="1" fill="#8dcf8a"/>
<rect x="576.6" y="335" width="93.8" height="1" fill="#87cd86"/>
<rect x="576.6" y="336" width="93.8" height="1" fill="#93d390"/>
<rect x="576.6" y="337" width="93.8" height="1" fill="#61bb6d"/>
<rect x="576.6" y="338" width="93.8" height="1" fill="#74c476"/>
<rect x="576.6" y="339" width="93.8" height="1" fill="#8ccf8a"/>
<rect x="576.6" y="340" width="93.8" height="1" fill="#78c679"/>
<rect x="576.6" y="341" width="93.8" height="1" fill="#9cd696"/>
<rect x="576.6" y="342" width="93.8" height="1" fill="#7ac77b"/>
<rect x="576.6" y="343" width="93.8" height="1" fill="#80c980"/>
<rect x="576.6" y="344" width="93.8" height="1" fill="#80ca80"/>
<rect x="576.6" y="345" width="93.8" height="1" fill="#78c67a"/>
<rect x="576.6" y="346" width="93.8" height="1" fill="#7fc97f"/>
<rect x="576.6" y="347" width="93.8" height="1" fill="#7cc87d"/>
<rect x="576.6" y="348" width="93.8" height="1" fill="#8dd08b"/>
<rect x="576.6" y="349" width="93.8" height="1" fill="#80ca80"/>
<rect x="576.6" y="350" width="93.8" height="1" fill="#74c476"/>
<rect x="576.6" y="351" width="93.8" height="1" fill="#6bbf71"/>
<rect x="576.6" y="352" width="93.8" height="1" fill="#73c476"/>
<rect x="576.6" y="353" width="93.8" height="1" fill="#6dc072"/>
<rect x="576.6" y="354" width="93.8" height="1" fill="#78c679"/>
<rect x="576.6" y="355" width="93.8" height="1" fill="#84cb83"/>
<rect x="576.6" y="356" width="93.8" height="1" fill="#7fc97f"/>
<rect x="576.6" y="357" width="93.8" height="1" fill="#68be70"/>
<rect x="576.6" y="358" width="93.8" height="1" fill="#75c477"/>
<rect x="576.6" y="359" width="93.8" height="1" fill="#73c476"/>
<rect x="576.6" y="360" width="93.8" height="1" fill="#78c67a"/>
<rect x="576.6" y="361" width="93.8" height="1" fill="#69bf71"/>
<rect x="576.6" y="362" width="93.8" height="1" fill="#8bcf89"/>
<rect x="576.6" y="363" width="93.8" height="1" fill="#a3da9d"/>
<rect x="576.6" y="364" width="93.8" height="1" fill="#91d18d"/>
<rect x="576.6" y="365" width="93.8" height="1" fill="#8ccf89"/>
<rect x="576.6" y="366" width="93.8" height="1" fill="#77c578"/>
<rect x="576.6" y="367" width="93.8" height="1" fill="#8ace88"/>
<rect x="576.6" y="368" width="93.8" height="1" fill="#8bcf89"/>
<rect x="576.6" y="369" width="93.8" height="1" fill="#7ec97e"/>
<rect x="576.6" y="370" width="93.8" height="1" fill="#79c67a"/>
<rect x="576.6" y="371" width="93.8" height="1" fill="#86cc85"/>
<rect x="576.6" y="372" width="93.8" height="1" fill="#75c577"/>
<rect x="576.6" y="373" width="93.8" height="1" fill="#85cc84"/>
<rect x="576.6" y="374" width="93.8" height="1" fill="#82cb82"/>
<rect x="576.6" y="375" width="93.8" height="1" fill="#8dd08b"/>
<rect x="576.6" y="376" width="93.8" height="1" fill="#9ed899"/>
<rect x="576.6" y="377" width="93.8" height="1" fill="#90d18d"/>
<rect x="576.6" y="378" width="93.8" height="1" fill="#8ccf8a"/>
<rect x="576.6" y="379" width="93.8" height="1" fill="#8fd18c"/>
<rect x="576.6" y="380" width="93.8" height="1" fill="#69bf71"/>
<rect x="576.6" y="381" width="93.8" height="1" fill="#91d18e"/>
<rect x="576.6" y="382" width="93.8" height="1" fill="#81ca81"/>
<rect x="576.6" y="383" width="93.8" height="1" fill="#70c274"/>
<rect x="576.6" y="384" width="93.8" height="1" fill="#77c679"/>
<rect x="576.6" y="385" width="93.8" height="1" fill="#7bc77c"/>
<rect x="576.6" y="386" width="93.8" height="1" fill="#89ce87"/>
<rect x="576.6" y="387" width="93.8" height="1" fill="#8bcf89"/>
<rect x="576.6" y="388" width="93.8" height="1" fill="#76c577"/>
<rect x="576.6" y="389" width="93.8" height="1" fill="#6dc173"/>
<rect x="576.6" y="390" width="93.8" height="1" fill="#a0d89a"/>
<rect x="576.6" y="391" width="93.8" height="1" fill="#99d595"/>
<rect x="576.6" y="392" width="93.8" height="1" fill="#9cd797"/>
<rect x="576.6" y="393" width="93.8" height="1" fill="#95d391"/>
<rect x="576.6" y="394" width="93.8" height="1" fill="#a3da9c"/>
<rect x="576.6" y="395" width="93.8" height="1" fill="#94d390"/>
<rect x="576.6" y="396" width="93.8" height="1" fill="#9fd899"/>
<rect x="576.6" y="397" width="93.8" height="1" fill="#9ad695"/>
<rect x="576.6" y="398" width="93.8" height="1" fill="#a3da9d"/>
<rect x="576.6" y="399" width="93.8" height="1" fill="#93d28f"/>
<rect x="576.6" y="400" width="93.8" height="1" fill="#9ed899"/>
<rect x="576.6" y="401" width="93.8" height="1" fill="#97d493"/>
<rect x="576.6" y="402" width="93.8" height="1" fill="#9cd797"/>
<rect x="576.6" y="403" width="93.8" height="1" fill="#94d390"/>
<rect x="576.6" y="404" width="93.8" height="1" fill="#96d492"/>
<rect x="576.6" y="405" width="93.8" height="1" fill="#6dc072"/>
<rect x="576.6" y="406" width="93.8" height="1" fill="#8ed08c"/>
<rect x="576.6" y="407" width="93.8" height="1" fill="#82cb82"/>
<rect x="576.6" y="408" width="93.8" height="1" fill="#8fd08c"/>
<rect x="576.6" y="409" width="93.8" height="1" fill="#8ace88"/>
<rect x="576.6" y="410" width="93.8" height="1" fill="#9dd798"/>
<rect x="576.6" y="411" width="93.8" height="1" fill="#80ca80"/>
<rect x="576.6" y="412" width="93.8" height="1" fill="#a2da9c"/>
<rect x="576.6" y="413" width="93.8" height="1" fill="#86cd85"/>
<rect x="576.6" y="414" width="93.8" height="1" fill="#9ad696"/>
<rect x="576.6" y="415" width="93.8" height="1" fill="#91d28e"/>
<rect x="576.6" y="416" width="93.8" height="1" fill="#86cc84"/>
<rect x="576.6" y="417" width="93.8" height="1" fill="#92d28f"/>
<rect x="576.6" y="418" width="93.8" height="1" fill="#88cd87"/>
<rect x="576.6" y="419" width="93.8" height="1" fill="#8ace88"/>
<rect x="576.6" y="420" width="93.8" height="1" fill="#92d28f"/>
<rect x="576.6" y="421" width="93.8" height="1" fill="#87cd86"/>
<rect x="576.6" y="422" width="93.8" height="1" fill="#79c67a"/>
<rect x="576.6" y="423" width="93.8" height="1" fill="#84cb83"/>
<rect x="576.6" y="424" width="93.8" height="1" fill="#89ce88"/>
<rect x="576.6" y="425" width="93.8" height="1" fill="#89ce87"/>
<rect x="576.6" y="426" width="93.8" height="1" fill="#8bcf89"/>
<rect x="576.6" y="427" width="93.8" height="1" fill="#7cc87d"/>
<rect x="576.6" y="428" width="93.8" height="1" fill="#7ec97e"/>
<rect x="576.6" y="429" width="93.8" height="1" fill="#8ace88"/>
<rect x="576.6" y="430" width="93.8" height="1" fill="#86cc85"/>
<rect x="576.6" y="431" width="93.8" height="1" fill="#95d391"/>
<rect x="576.6" y="432" width="93.8" height="1" fill="#8dd08b"/>
<rect x="576.6" y="433" width="93.8" height="1" fill="#87cd86"/>
<rect x="576.6" y="434" width="93.8" height="1" fill="#8bcf89"/>
<rect x="576.6" y="435" width="93.8" height="1" fill="#8ccf89"/>
<rect x="576.6" y="436" width="93.8" height="1" fill="#80c980"/>
<rect x="576.6" y="437" width="93.8" height="1" fill="#d8f0d2"/>
<rect x="576.6" y="438" width="93.8" height="1" fill="#7ac77b"/>
<rect x="576.6" y="439" width="93.8" height="1" fill="#9dd798"/>
<rect x="576.6" y="440" width="93.8" height="1" fill="#86cc85"/>
<rect x="576.6" y="441" width="93.8" height="1" fill="#8bcf89"/>
<rect x="576.6" y="442" width="93.8" height="1" fill="#8ccf8a"/>
<rect x="576.6" y="443" width="93.8" height="1" fill="#84cb83"/>
<rect x="576.6" y="444" width="93.8" height="1" fill="#7dc87d"/>
<rect x="576.6" y="445" width="93.8" height="1" fill="#99d594"/>
<rect x="576.6" y="446" width="93.8" height="1" fill="#75c577"/>
<rect x="576.6" y="447" width="93.8" height="1" fill="#7ac77b"/>
<rect x="576.6" y="448" width="93.8" height="1" fill="#84cc83"/>
<rect x="576.6" y="449" width="93.8" height="1" fill="#91d18d"/>
<rect x="576.6" y="450" width="93.8" height="1" fill="#96d492"/>
<rect x="576.6" y="451" width="93.8" height="1" fill="#76c577"/>
<rect x="576.6" y="452" width="93.8" height="1" fill="#8ace88"/>
<rect x="576.6" y="117.0" width="93.8" height="336.0" fill="none" stroke="#111" stroke-width="0.9"/>
<line x1="576.6" y1="453" x2="576.6" y2="455.6" stroke="#222" stroke-width="0.8"/>
<line x1="623.5" y1="453" x2="623.5" y2="455.6" stroke="#222" stroke-width="0.8"/>
<line x1="670.4" y1="453" x2="670.4" y2="455.6" stroke="#222" stroke-width="0.8"/>
<text x="576.1" y="464.2" font-size="6.6" fill="#333" font-family="Liberation Sans, sans-serif">-1.0</text>
<text x="623.5" y="464.2" text-anchor="middle" font-size="6.6" fill="#333" font-family="Liberation Sans, sans-serif">TSS</text>
<text x="670.9" y="464.2" text-anchor="end" font-size="6.6" fill="#333" font-family="Liberation Sans, sans-serif">1.0Kb</text>
<linearGradient id="cb5"><stop offset="0.0" stop-color="#f7fcf5"/><stop offset="0.1" stop-color="#e9f6e4"/><stop offset="0.2" stop-color="#d3eecd"/><stop offset="0.3" stop-color="#b8e3b1"/><stop offset="0.4" stop-color="#98d594"/><stop offset="0.5" stop-color="#74c476"/><stop offset="0.6" stop-color="#4bb062"/><stop offset="0.7" stop-color="#2f984f"/><stop offset="0.8" stop-color="#157f3b"/><stop offset="0.9" stop-color="#006529"/><stop offset="1.0" stop-color="#00441b"/></linearGradient>
<rect x="576.6" y="484.8" width="93.8" height="7.0" fill="url(#cb5)"/>
<line x1="576.6" y1="484.8" x2="670.4" y2="484.8" stroke="#333" stroke-width="0.9"/>
<line x1="576.6" y1="484.8" x2="576.6" y2="491.8" stroke="#999" stroke-width="0.6"/>
<line x1="670.4" y1="484.8" x2="670.4" y2="491.8" stroke="#999" stroke-width="0.6"/>
<line x1="577.0" y1="491.8" x2="577.0" y2="494.0" stroke="#333" stroke-width="0.7"/>
<text x="577.0" y="501.5" text-anchor="middle" font-size="6.6" fill="#333" font-family="Liberation Sans, sans-serif">0</text>
<line x1="608.0" y1="491.8" x2="608.0" y2="494.0" stroke="#333" stroke-width="0.7"/>
<text x="608.0" y="501.5" text-anchor="middle" font-size="6.6" fill="#333" font-family="Liberation Sans, sans-serif">1</text>
<line x1="639.0" y1="491.8" x2="639.0" y2="494.0" stroke="#333" stroke-width="0.7"/>
<text x="639.0" y="501.5" text-anchor="middle" font-size="6.6" fill="#333" font-family="Liberation Sans, sans-serif">2</text>
<line x1="670.0" y1="491.8" x2="670.0" y2="494.0" stroke="#333" stroke-width="0.7"/>
<text x="670.0" y="501.5" text-anchor="middle" font-size="6.6" fill="#333" font-family="Liberation Sans, sans-serif">3</text>
<rect x="63.6" y="648.4" width="17.6" height="46.2" fill="#000"/>
<text transform="translate(75.4,646.7) rotate(-90)" font-size="8.1" fill="#111" font-family="Liberation Sans, sans-serif">2072</text>
<line x1="72.4" y1="694.6" x2="72.4" y2="698.8" stroke="#000" stroke-width="1.2"/>
<rect x="90.1" y="687.1" width="17.6" height="7.5" fill="#000"/>
<text transform="translate(101.9,685.4) rotate(-90)" font-size="8.1" fill="#111" font-family="Liberation Sans, sans-serif">334</text>
<line x1="98.9" y1="694.6" x2="98.9" y2="698.8" stroke="#000" stroke-width="1.2"/>
<rect x="116.7" y="601.9" width="17.6" height="92.7" fill="#000"/>
<text transform="translate(128.5,600.2) rotate(-90)" font-size="8.1" fill="#111" font-family="Liberation Sans, sans-serif">4154</text>
<line x1="125.5" y1="694.6" x2="125.5" y2="698.8" stroke="#000" stroke-width="1.2"/>
<rect x="160.7" y="634.0" width="17.6" height="60.6" fill="#ff0066"/>
<text transform="translate(172.5,632.3) rotate(-90)" font-size="8.1" fill="#111" font-family="Liberation Sans, sans-serif">2715</text>
<line x1="169.5" y1="694.6" x2="169.5" y2="698.8" stroke="#000" stroke-width="1.2"/>
<rect x="187.2" y="680.7" width="17.6" height="13.9" fill="#ff0066"/>
<text transform="translate(199.0,679.0) rotate(-90)" font-size="8.1" fill="#111" font-family="Liberation Sans, sans-serif">625</text>
<line x1="196.0" y1="694.6" x2="196.0" y2="698.8" stroke="#000" stroke-width="1.2"/>
<rect x="213.5" y="573.5" width="17.6" height="121.1" fill="#ff0066"/>
<text transform="translate(225.3,571.8) rotate(-90)" font-size="8.1" fill="#111" font-family="Liberation Sans, sans-serif">5425</text>
<line x1="222.3" y1="694.6" x2="222.3" y2="698.8" stroke="#000" stroke-width="1.2"/>
<rect x="257.4" y="661.6" width="17.6" height="33.0" fill="#137c7c"/>
<text transform="translate(269.2,659.9) rotate(-90)" font-size="8.1" fill="#111" font-family="Liberation Sans, sans-serif">1481</text>
<line x1="266.2" y1="694.6" x2="266.2" y2="698.8" stroke="#000" stroke-width="1.2"/>
<rect x="283.9" y="691.5" width="17.6" height="3.1" fill="#137c7c"/>
<text transform="translate(295.7,689.8) rotate(-90)" font-size="8.1" fill="#111" font-family="Liberation Sans, sans-serif">139</text>
<line x1="292.7" y1="694.6" x2="292.7" y2="698.8" stroke="#000" stroke-width="1.2"/>
<rect x="310.4" y="650.5" width="17.6" height="44.1" fill="#137c7c"/>
<text transform="translate(322.2,648.8) rotate(-90)" font-size="8.1" fill="#111" font-family="Liberation Sans, sans-serif">1977</text>
<line x1="319.2" y1="694.6" x2="319.2" y2="698.8" stroke="#000" stroke-width="1.2"/>
<text transform="translate(76.1,705.2) rotate(-45)" text-anchor="end" font-size="8.3" font-weight="bold" font-family="Liberation Sans, sans-serif">N vs CM</text>
<text transform="translate(102.6,705.2) rotate(-45)" text-anchor="end" font-size="8.3" font-weight="bold" font-family="Liberation Sans, sans-serif">CM vs EM</text>
<text transform="translate(129.2,705.2) rotate(-45)" text-anchor="end" font-size="8.3" font-weight="bold" font-family="Liberation Sans, sans-serif">N vs EM</text>
<text transform="translate(173.2,705.2) rotate(-45)" text-anchor="end" font-size="8.3" font-weight="bold" font-family="Liberation Sans, sans-serif">N vs CM</text>
<text transform="translate(199.7,705.2) rotate(-45)" text-anchor="end" font-size="8.3" font-weight="bold" font-family="Liberation Sans, sans-serif">CM vs EM</text>
<text transform="translate(226.0,705.2) rotate(-45)" text-anchor="end" font-size="8.3" font-weight="bold" font-family="Liberation Sans, sans-serif">N vs EM</text>
<text transform="translate(269.9,705.2) rotate(-45)" text-anchor="end" font-size="8.3" font-weight="bold" font-family="Liberation Sans, sans-serif">N vs CM</text>
<text transform="translate(296.4,705.2) rotate(-45)" text-anchor="end" font-size="8.3" font-weight="bold" font-family="Liberation Sans, sans-serif">CM vs EM</text>
<text transform="translate(322.9,705.2) rotate(-45)" text-anchor="end" font-size="8.3" font-weight="bold" font-family="Liberation Sans, sans-serif">N vs EM</text>
<line x1="55.1" y1="537.6" x2="55.1" y2="695.3" stroke="#000" stroke-width="1.4"/>
<line x1="50.1" y1="694.6" x2="337.9" y2="694.6" stroke="#000" stroke-width="1.4"/>
<line x1="50.5" y1="694.6" x2="55.1" y2="694.6" stroke="#000" stroke-width="1.2"/>
<text x="49.5" y="697.6" text-anchor="end" font-size="8.2" font-weight="bold" font-family="Liberation Sans, sans-serif">0</text>
<line x1="50.5" y1="650.0" x2="55.1" y2="650.0" stroke="#000" stroke-width="1.2"/>
<text x="49.5" y="653.0" text-anchor="end" font-size="8.2" font-weight="bold" font-family="Liberation Sans, sans-serif">2000</text>
<line x1="50.5" y1="605.3" x2="55.1" y2="605.3" stroke="#000" stroke-width="1.2"/>
<text x="49.5" y="608.3" text-anchor="end" font-size="8.2" font-weight="bold" font-family="Liberation Sans, sans-serif">4000</text>
<line x1="50.5" y1="560.7" x2="55.1" y2="560.7" stroke="#000" stroke-width="1.2"/>
<text x="49.5" y="563.7" text-anchor="end" font-size="8.2" font-weight="bold" font-family="Liberation Sans, sans-serif">6000</text>
<text x="141.5" y="532.2" font-size="13.3" font-weight="bold" font-family="Liberation Sans, sans-serif">All genes</text>
<text transform="translate(16.4,612.2) rotate(-90)" text-anchor="middle" font-size="8.4" font-weight="bold" font-family="Liberation Sans, sans-serif">Differentially enriched</text>
<text transform="translate(25.2,612.2) rotate(-90)" text-anchor="middle" font-size="8.4" font-weight="bold" font-family="Liberation Sans, sans-serif">(or expressed) genes</text>
<rect x="272.9" y="554.3" width="11" height="5.8" fill="#000"/>
<text x="290.7" y="560.3" font-size="8.8" fill="#111" font-family="Liberation Sans, sans-serif">H3K27me3</text>
<rect x="272.9" y="568.4" width="11" height="5.8" fill="#ff0066"/>
<text x="290.7" y="574.4" font-size="8.8" fill="#111" font-family="Liberation Sans, sans-serif">H3K4me2</text>
<rect x="272.9" y="582.5" width="11" height="5.8" fill="#137c7c"/>
<text x="290.7" y="588.5" font-size="8.8" fill="#111" font-family="Liberation Sans, sans-serif">RNA-seq</text>
<rect x="409.8" y="651.5" width="17.6" height="43.2" fill="#000"/>
<text transform="translate(421.6,649.8) rotate(-90)" font-size="8.1" fill="#111" font-family="Liberation Sans, sans-serif">221</text>
<line x1="418.6" y1="694.7" x2="418.6" y2="698.9" stroke="#000" stroke-width="1.2"/>
<rect x="436.3" y="688.1" width="17.6" height="6.6" fill="#000"/>
<text transform="translate(448.1,686.4) rotate(-90)" font-size="8.1" fill="#111" font-family="Liberation Sans, sans-serif">34</text>
<line x1="445.1" y1="694.7" x2="445.1" y2="698.9" stroke="#000" stroke-width="1.2"/>
<rect x="462.9" y="613.3" width="17.6" height="81.4" fill="#000"/>
<text transform="translate(474.7,611.6) rotate(-90)" font-size="8.1" fill="#111" font-family="Liberation Sans, sans-serif">417</text>
<line x1="471.7" y1="694.7" x2="471.7" y2="698.9" stroke="#000" stroke-width="1.2"/>
<rect x="506.9" y="627.5" width="17.6" height="67.2" fill="#ff0066"/>
<text transform="translate(518.7,625.8) rotate(-90)" font-size="8.1" fill="#111" font-family="Liberation Sans, sans-serif">344</text>
<line x1="515.7" y1="694.7" x2="515.7" y2="698.9" stroke="#000" stroke-width="1.2"/>
<rect x="533.4" y="679.7" width="17.6" height="15.0" fill="#ff0066"/>
<text transform="translate(545.2,678.0) rotate(-90)" font-size="8.1" fill="#111" font-family="Liberation Sans, sans-serif">77</text>
<line x1="542.2" y1="694.7" x2="542.2" y2="698.9" stroke="#000" stroke-width="1.2"/>
<rect x="559.7" y="553.9" width="17.6" height="140.8" fill="#ff0066"/>
<text transform="translate(571.5,552.2) rotate(-90)" font-size="8.1" fill="#111" font-family="Liberation Sans, sans-serif">721</text>
<line x1="568.5" y1="694.7" x2="568.5" y2="698.9" stroke="#000" stroke-width="1.2"/>
<rect x="603.6" y="670.1" width="17.6" height="24.6" fill="#137c7c"/>
<text transform="translate(615.4,668.4) rotate(-90)" font-size="8.1" fill="#111" font-family="Liberation Sans, sans-serif">126</text>
<line x1="612.4" y1="694.7" x2="612.4" y2="698.9" stroke="#000" stroke-width="1.2"/>
<rect x="630.1" y="691.4" width="17.6" height="3.3" fill="#137c7c"/>
<text transform="translate(641.9,689.7) rotate(-90)" font-size="8.1" fill="#111" font-family="Liberation Sans, sans-serif">17</text>
<line x1="638.9" y1="694.7" x2="638.9" y2="698.9" stroke="#000" stroke-width="1.2"/>
<rect x="656.6" y="660.7" width="17.6" height="34.0" fill="#137c7c"/>
<text transform="translate(668.4,659.0) rotate(-90)" font-size="8.1" fill="#111" font-family="Liberation Sans, sans-serif">174</text>
<line x1="665.4" y1="694.7" x2="665.4" y2="698.9" stroke="#000" stroke-width="1.2"/>
<text transform="translate(422.3,705.3) rotate(-45)" text-anchor="end" font-size="8.3" font-weight="bold" font-family="Liberation Sans, sans-serif">N vs CM</text>
<text transform="translate(448.8,705.3) rotate(-45)" text-anchor="end" font-size="8.3" font-weight="bold" font-family="Liberation Sans, sans-serif">CM vs EM</text>
<text transform="translate(475.4,705.3) rotate(-45)" text-anchor="end" font-size="8.3" font-weight="bold" font-family="Liberation Sans, sans-serif">N vs EM</text>
<text transform="translate(519.4,705.3) rotate(-45)" text-anchor="end" font-size="8.3" font-weight="bold" font-family="Liberation Sans, sans-serif">N vs CM</text>
<text transform="translate(545.9,705.3) rotate(-45)" text-anchor="end" font-size="8.3" font-weight="bold" font-family="Liberation Sans, sans-serif">CM vs EM</text>
<text transform="translate(572.2,705.3) rotate(-45)" text-anchor="end" font-size="8.3" font-weight="bold" font-family="Liberation Sans, sans-serif">N vs EM</text>
<text transform="translate(616.1,705.3) rotate(-45)" text-anchor="end" font-size="8.3" font-weight="bold" font-family="Liberation Sans, sans-serif">N vs CM</text>
<text transform="translate(642.6,705.3) rotate(-45)" text-anchor="end" font-size="8.3" font-weight="bold" font-family="Liberation Sans, sans-serif">CM vs EM</text>
<text transform="translate(669.1,705.3) rotate(-45)" text-anchor="end" font-size="8.3" font-weight="bold" font-family="Liberation Sans, sans-serif">N vs EM</text>
<line x1="401.3" y1="537.8" x2="401.3" y2="695.4" stroke="#000" stroke-width="1.4"/>
<line x1="396.3" y1="694.7" x2="684.1" y2="694.7" stroke="#000" stroke-width="1.4"/>
<line x1="396.7" y1="694.7" x2="401.3" y2="694.7" stroke="#000" stroke-width="1.2"/>
<text x="395.7" y="697.7" text-anchor="end" font-size="8.2" font-weight="bold" font-family="Liberation Sans, sans-serif">0</text>
<line x1="396.7" y1="655.7" x2="401.3" y2="655.7" stroke="#000" stroke-width="1.2"/>
<text x="395.7" y="658.7" text-anchor="end" font-size="8.2" font-weight="bold" font-family="Liberation Sans, sans-serif">200</text>
<line x1="396.7" y1="616.6" x2="401.3" y2="616.6" stroke="#000" stroke-width="1.2"/>
<text x="395.7" y="619.6" text-anchor="end" font-size="8.2" font-weight="bold" font-family="Liberation Sans, sans-serif">400</text>
<line x1="396.7" y1="577.6" x2="401.3" y2="577.6" stroke="#000" stroke-width="1.2"/>
<text x="395.7" y="580.6" text-anchor="end" font-size="8.2" font-weight="bold" font-family="Liberation Sans, sans-serif">600</text>
<line x1="396.7" y1="538.5" x2="401.3" y2="538.5" stroke="#000" stroke-width="1.2"/>
<text x="395.7" y="541.5" text-anchor="end" font-size="8.2" font-weight="bold" font-family="Liberation Sans, sans-serif">800</text>
<text x="454.4" y="532.2" font-size="13.3" font-weight="bold" font-family="Liberation Sans, sans-serif">Transcription factors</text>
<text transform="translate(367.4,612.0) rotate(-90)" text-anchor="middle" font-size="8.4" font-weight="bold" font-family="Liberation Sans, sans-serif">Differentially enriched (or expressed)</text>
<text transform="translate(375.8,612.6) rotate(-90)" text-anchor="middle" font-size="8.4" font-weight="bold" font-family="Liberation Sans, sans-serif">transcripotion factor genes</text>
<rect x="618.8" y="554.3" width="11" height="5.8" fill="#000"/>
<text x="636.7" y="560.3" font-size="8.8" fill="#111" font-family="Liberation Sans, sans-serif">H3K27me3</text>
<rect x="618.8" y="568.4" width="11" height="5.8" fill="#ff0066"/>
<text x="636.7" y="574.4" font-size="8.8" fill="#111" font-family="Liberation Sans, sans-serif">H3K4me2</text>
<rect x="618.8" y="582.5" width="11" height="5.8" fill="#137c7c"/>
<text x="636.7" y="588.5" font-size="8.8" fill="#111" font-family="Liberation Sans, sans-serif">RNA-seq</text>
<text x="-0.4" y="522.9" font-weight="bold" font-size="14.2" font-family="Liberation Sans, sans-serif">B</text>
<text x="349.3" y="523.0" font-weight="bold" font-size="14.6" font-family="Liberation Sans, sans-serif">C</text>
<rect x="38.0" y="778.5" width="129.6" height="139.7" fill="#fff"/>
<line x1="72.4" y1="778.5" x2="72.4" y2="918.2" stroke="#f3f3f3" stroke-width="0.55"/>
<line x1="110.4" y1="778.5" x2="110.4" y2="918.2" stroke="#f3f3f3" stroke-width="0.55"/>
<line x1="148.4" y1="778.5" x2="148.4" y2="918.2" stroke="#f3f3f3" stroke-width="0.55"/>
<line x1="38.0" y1="786.4" x2="167.6" y2="786.4" stroke="#f3f3f3" stroke-width="0.55"/>
<line x1="38.0" y1="829.6" x2="167.6" y2="829.6" stroke="#f3f3f3" stroke-width="0.55"/>
<line x1="38.0" y1="872.8" x2="167.6" y2="872.8" stroke="#f3f3f3" stroke-width="0.55"/>
<line x1="38.0" y1="916.0" x2="167.6" y2="916.0" stroke="#f3f3f3" stroke-width="0.55"/>
<line x1="53.4" y1="778.5" x2="53.4" y2="918.2" stroke="#e6e6e6" stroke-width="0.9"/>
<line x1="91.4" y1="778.5" x2="91.4" y2="918.2" stroke="#e6e6e6" stroke-width="0.9"/>
<line x1="129.4" y1="778.5" x2="129.4" y2="918.2" stroke="#e6e6e6" stroke-width="0.9"/>
<line x1="167.4" y1="778.5" x2="167.4" y2="918.2" stroke="#e6e6e6" stroke-width="0.9"/>
<line x1="38.0" y1="808.0" x2="167.6" y2="808.0" stroke="#e6e6e6" stroke-width="0.9"/>
<line x1="38.0" y1="851.2" x2="167.6" y2="851.2" stroke="#e6e6e6" stroke-width="0.9"/>
<line x1="38.0" y1="894.4" x2="167.6" y2="894.4" stroke="#e6e6e6" stroke-width="0.9"/>
<circle cx="161.7" cy="784.8" r="2.95" fill="#440154"/>
<circle cx="70.2" cy="860.4" r="2.95" fill="#440154"/>
<circle cx="79.1" cy="860.4" r="2.95" fill="#440154"/>
<circle cx="94.4" cy="860.4" r="2.95" fill="#440154"/>
<circle cx="113.6" cy="873.1" r="2.95" fill="#440154"/>
<circle cx="122.7" cy="913.1" r="2.95" fill="#440154"/>
<circle cx="43.3" cy="829.1" r="2.95" fill="#2c7c99"/>
<circle cx="70.6" cy="848.3" r="2.95" fill="#2c7c99"/>
<circle cx="75.1" cy="851.5" r="2.95" fill="#2c7c99"/>
<circle cx="88.2" cy="850.7" r="2.95" fill="#2c7c99"/>
<circle cx="102.0" cy="857.6" r="2.95" fill="#2c7c99"/>
<circle cx="125.9" cy="854.7" r="2.95" fill="#2c7c99"/>
<circle cx="46.5" cy="830.8" r="2.95" fill="#5dc863"/>
<circle cx="79.1" cy="846.4" r="2.95" fill="#5dc863"/>
<circle cx="79.6" cy="849.0" r="2.95" fill="#5dc863"/>
<circle cx="83.3" cy="849.8" r="2.95" fill="#5dc863"/>
<circle cx="87.6" cy="849.8" r="2.95" fill="#5dc863"/>
<circle cx="123.8" cy="856.2" r="2.95" fill="#5dc863"/>
<rect x="38.0" y="778.5" width="129.6" height="139.7" fill="none" stroke="#333" stroke-width="1.0"/>
<line x1="53.4" y1="918.2" x2="53.4" y2="921.2" stroke="#333" stroke-width="0.8"/>
<text x="53.4" y="930.0" text-anchor="middle" font-size="8.1" fill="#4d4d4d" font-family="Liberation Sans, sans-serif">−100</text>
<line x1="91.4" y1="918.2" x2="91.4" y2="921.2" stroke="#333" stroke-width="0.8"/>
<text x="91.4" y="930.0" text-anchor="middle" font-size="8.1" fill="#4d4d4d" font-family="Liberation Sans, sans-serif">0</text>
<line x1="129.4" y1="918.2" x2="129.4" y2="921.2" stroke="#333" stroke-width="0.8"/>
<text x="129.4" y="930.0" text-anchor="middle" font-size="8.1" fill="#4d4d4d" font-family="Liberation Sans, sans-serif">100</text>
<line x1="167.4" y1="918.2" x2="167.4" y2="921.2" stroke="#333" stroke-width="0.8"/>
<text x="167.4" y="930.0" text-anchor="middle" font-size="8.1" fill="#4d4d4d" font-family="Liberation Sans, sans-serif">200</text>
<line x1="35.0" y1="808.0" x2="38.0" y2="808.0" stroke="#333" stroke-width="0.8"/>
<text x="33.6" y="810.9" text-anchor="end" font-size="8.1" fill="#4d4d4d" font-family="Liberation Sans, sans-serif">100</text>
<line x1="35.0" y1="851.2" x2="38.0" y2="851.2" stroke="#333" stroke-width="0.8"/>
<text x="33.6" y="854.1" text-anchor="end" font-size="8.1" fill="#4d4d4d" font-family="Liberation Sans, sans-serif">0</text>
<line x1="35.0" y1="894.4" x2="38.0" y2="894.4" stroke="#333" stroke-width="0.8"/>
<text x="33.6" y="897.3" text-anchor="end" font-size="8.1" fill="#4d4d4d" font-family="Liberation Sans, sans-serif">−100</text>
<text x="37.9" y="771.6" font-size="11.7" fill="#111" font-family="Liberation Sans, sans-serif">RNA−seq</text>
<text transform="translate(12.0,848.4) rotate(-90)" text-anchor="middle" font-size="10" fill="#111" font-family="Liberation Sans, sans-serif">PC 2</text>
<text x="102.8" y="940.2" text-anchor="middle" font-size="10" fill="#111" font-family="Liberation Sans, sans-serif">PC 1</text>
<rect x="210.1" y="778.8" width="130.3" height="139.7" fill="#fff"/>
<line x1="224.5" y1="778.8" x2="224.5" y2="918.5" stroke="#f3f3f3" stroke-width="0.55"/>
<line x1="259.9" y1="778.8" x2="259.9" y2="918.5" stroke="#f3f3f3" stroke-width="0.55"/>
<line x1="295.3" y1="778.8" x2="295.3" y2="918.5" stroke="#f3f3f3" stroke-width="0.55"/>
<line x1="330.7" y1="778.8" x2="330.7" y2="918.5" stroke="#f3f3f3" stroke-width="0.55"/>
<line x1="210.1" y1="805.0" x2="340.4" y2="805.0" stroke="#f3f3f3" stroke-width="0.55"/>
<line x1="210.1" y1="836.9" x2="340.4" y2="836.9" stroke="#f3f3f3" stroke-width="0.55"/>
<line x1="210.1" y1="868.9" x2="340.4" y2="868.9" stroke="#f3f3f3" stroke-width="0.55"/>
<line x1="210.1" y1="900.8" x2="340.4" y2="900.8" stroke="#f3f3f3" stroke-width="0.55"/>
<line x1="242.2" y1="778.8" x2="242.2" y2="918.5" stroke="#e6e6e6" stroke-width="0.9"/>
<line x1="277.6" y1="778.8" x2="277.6" y2="918.5" stroke="#e6e6e6" stroke-width="0.9"/>
<line x1="313.0" y1="778.8" x2="313.0" y2="918.5" stroke="#e6e6e6" stroke-width="0.9"/>
<line x1="210.1" y1="789.0" x2="340.4" y2="789.0" stroke="#e6e6e6" stroke-width="0.9"/>
<line x1="210.1" y1="821.0" x2="340.4" y2="821.0" stroke="#e6e6e6" stroke-width="0.9"/>
<line x1="210.1" y1="852.9" x2="340.4" y2="852.9" stroke="#e6e6e6" stroke-width="0.9"/>
<line x1="210.1" y1="884.8" x2="340.4" y2="884.8" stroke="#e6e6e6" stroke-width="0.9"/>
<line x1="210.1" y1="916.8" x2="340.4" y2="916.8" stroke="#e6e6e6" stroke-width="0.9"/>
<circle cx="262.0" cy="784.9" r="2.95" fill="#2c7c99"/>
<circle cx="301.8" cy="815.8" r="2.95" fill="#2c7c99"/>
<circle cx="292.6" cy="876.9" r="2.95" fill="#2c7c99"/>
<circle cx="299.3" cy="902.7" r="2.95" fill="#2c7c99"/>
<circle cx="293.9" cy="802.5" r="2.95" fill="#5dc863"/>
<circle cx="332.7" cy="797.9" r="2.95" fill="#5dc863"/>
<circle cx="320.0" cy="880.4" r="2.95" fill="#5dc863"/>
<circle cx="333.8" cy="913.4" r="2.95" fill="#5dc863"/>
<circle cx="216.0" cy="836.2" r="2.95" fill="#440154"/>
<circle cx="223.4" cy="837.3" r="2.95" fill="#440154"/>
<circle cx="231.8" cy="886.3" r="2.95" fill="#440154"/>
<circle cx="222.9" cy="901.4" r="2.95" fill="#440154"/>
<rect x="210.1" y="778.8" width="130.3" height="139.7" fill="none" stroke="#333" stroke-width="1.0"/>
<line x1="242.2" y1="918.5" x2="242.2" y2="921.5" stroke="#333" stroke-width="0.8"/>
<text x="242.2" y="930.0" text-anchor="middle" font-size="8.1" fill="#4d4d4d" font-family="Liberation Sans, sans-serif">−100</text>
<line x1="277.6" y1="918.5" x2="277.6" y2="921.5" stroke="#333" stroke-width="0.8"/>
<text x="277.6" y="930.0" text-anchor="middle" font-size="8.1" fill="#4d4d4d" font-family="Liberation Sans, sans-serif">0</text>
<line x1="313.0" y1="918.5" x2="313.0" y2="921.5" stroke="#333" stroke-width="0.8"/>
<text x="313.0" y="930.0" text-anchor="middle" font-size="8.1" fill="#4d4d4d" font-family="Liberation Sans, sans-serif">100</text>
<line x1="207.1" y1="789.0" x2="210.1" y2="789.0" stroke="#333" stroke-width="0.8"/>
<text x="205.7" y="791.9" text-anchor="end" font-size="8.1" fill="#4d4d4d" font-family="Liberation Sans, sans-serif">100</text>
<line x1="207.1" y1="821.0" x2="210.1" y2="821.0" stroke="#333" stroke-width="0.8"/>
<text x="205.7" y="823.9" text-anchor="end" font-size="8.1" fill="#4d4d4d" font-family="Liberation Sans, sans-serif">50</text>
<line x1="207.1" y1="852.9" x2="210.1" y2="852.9" stroke="#333" stroke-width="0.8"/>
<text x="205.7" y="855.8" text-anchor="end" font-size="8.1" fill="#4d4d4d" font-family="Liberation Sans, sans-serif">0</text>
<line x1="207.1" y1="884.8" x2="210.1" y2="884.8" stroke="#333" stroke-width="0.8"/>
<text x="205.7" y="887.7" text-anchor="end" font-size="8.1" fill="#4d4d4d" font-family="Liberation Sans, sans-serif">−50</text>
<line x1="207.1" y1="916.8" x2="210.1" y2="916.8" stroke="#333" stroke-width="0.8"/>
<text x="205.7" y="919.6" text-anchor="end" font-size="8.1" fill="#4d4d4d" font-family="Liberation Sans, sans-serif">−100</text>
<text x="210.0" y="771.6" font-size="11.7" fill="#111" font-family="Liberation Sans, sans-serif">H3K27me3</text>
<text transform="translate(184.8,848.6) rotate(-90)" text-anchor="middle" font-size="10" fill="#111" font-family="Liberation Sans, sans-serif">PC 2</text>
<text x="275.2" y="940.2" text-anchor="middle" font-size="10" fill="#111" font-family="Liberation Sans, sans-serif">PC 1</text>
<rect x="382.7" y="778.8" width="129.8" height="139.7" fill="#fff"/>
<line x1="381.6" y1="778.8" x2="381.6" y2="918.5" stroke="#f3f3f3" stroke-width="0.55"/>
<line x1="422.0" y1="778.8" x2="422.0" y2="918.5" stroke="#f3f3f3" stroke-width="0.55"/>
<line x1="462.4" y1="778.8" x2="462.4" y2="918.5" stroke="#f3f3f3" stroke-width="0.55"/>
<line x1="502.8" y1="778.8" x2="502.8" y2="918.5" stroke="#f3f3f3" stroke-width="0.55"/>
<line x1="382.7" y1="798.7" x2="512.5" y2="798.7" stroke="#f3f3f3" stroke-width="0.55"/>
<line x1="382.7" y1="831.4" x2="512.5" y2="831.4" stroke="#f3f3f3" stroke-width="0.55"/>
<line x1="382.7" y1="864.0" x2="512.5" y2="864.0" stroke="#f3f3f3" stroke-width="0.55"/>
<line x1="382.7" y1="896.7" x2="512.5" y2="896.7" stroke="#f3f3f3" stroke-width="0.55"/>
<line x1="401.8" y1="778.8" x2="401.8" y2="918.5" stroke="#e6e6e6" stroke-width="0.9"/>
<line x1="442.2" y1="778.8" x2="442.2" y2="918.5" stroke="#e6e6e6" stroke-width="0.9"/>
<line x1="482.6" y1="778.8" x2="482.6" y2="918.5" stroke="#e6e6e6" stroke-width="0.9"/>
<line x1="382.7" y1="782.4" x2="512.5" y2="782.4" stroke="#e6e6e6" stroke-width="0.9"/>
<line x1="382.7" y1="815.1" x2="512.5" y2="815.1" stroke="#e6e6e6" stroke-width="0.9"/>
<line x1="382.7" y1="847.7" x2="512.5" y2="847.7" stroke="#e6e6e6" stroke-width="0.9"/>
<line x1="382.7" y1="880.4" x2="512.5" y2="880.4" stroke="#e6e6e6" stroke-width="0.9"/>
<line x1="382.7" y1="913.0" x2="512.5" y2="913.0" stroke="#e6e6e6" stroke-width="0.9"/>
<circle cx="389.8" cy="784.9" r="2.95" fill="#440154"/>
<circle cx="388.3" cy="797.7" r="2.95" fill="#440154"/>
<circle cx="392.6" cy="887.9" r="2.95" fill="#440154"/>
<circle cx="393.4" cy="898.8" r="2.95" fill="#440154"/>
<circle cx="450.4" cy="809.4" r="2.95" fill="#2c7c99"/>
<circle cx="455.7" cy="809.4" r="2.95" fill="#2c7c99"/>
<circle cx="466.0" cy="898.3" r="2.95" fill="#2c7c99"/>
<circle cx="435.0" cy="913.2" r="2.95" fill="#2c7c99"/>
<circle cx="474.1" cy="786.7" r="2.95" fill="#5dc863"/>
<circle cx="490.7" cy="798.2" r="2.95" fill="#5dc863"/>
<circle cx="506.3" cy="875.8" r="2.95" fill="#5dc863"/>
<circle cx="459.1" cy="910.9" r="2.95" fill="#5dc863"/>
<rect x="382.7" y="778.8" width="129.8" height="139.7" fill="none" stroke="#333" stroke-width="1.0"/>
<line x1="401.8" y1="918.5" x2="401.8" y2="921.5" stroke="#333" stroke-width="0.8"/>
<text x="401.8" y="930.0" text-anchor="middle" font-size="8.1" fill="#4d4d4d" font-family="Liberation Sans, sans-serif">−100</text>
<line x1="442.2" y1="918.5" x2="442.2" y2="921.5" stroke="#333" stroke-width="0.8"/>
<text x="442.2" y="930.0" text-anchor="middle" font-size="8.1" fill="#4d4d4d" font-family="Liberation Sans, sans-serif">0</text>
<line x1="482.6" y1="918.5" x2="482.6" y2="921.5" stroke="#333" stroke-width="0.8"/>
<text x="482.6" y="930.0" text-anchor="middle" font-size="8.1" fill="#4d4d4d" font-family="Liberation Sans, sans-serif">100</text>
<line x1="379.7" y1="782.4" x2="382.7" y2="782.4" stroke="#333" stroke-width="0.8"/>
<text x="378.3" y="785.3" text-anchor="end" font-size="8.1" fill="#4d4d4d" font-family="Liberation Sans, sans-serif">100</text>
<line x1="379.7" y1="815.1" x2="382.7" y2="815.1" stroke="#333" stroke-width="0.8"/>
<text x="378.3" y="818.0" text-anchor="end" font-size="8.1" fill="#4d4d4d" font-family="Liberation Sans, sans-serif">50</text>
<line x1="379.7" y1="847.7" x2="382.7" y2="847.7" stroke="#333" stroke-width="0.8"/>
<text x="378.3" y="850.6" text-anchor="end" font-size="8.1" fill="#4d4d4d" font-family="Liberation Sans, sans-serif">0</text>
<line x1="379.7" y1="880.4" x2="382.7" y2="880.4" stroke="#333" stroke-width="0.8"/>
<text x="378.3" y="883.2" text-anchor="end" font-size="8.1" fill="#4d4d4d" font-family="Liberation Sans, sans-serif">−50</text>
<line x1="379.7" y1="913.0" x2="382.7" y2="913.0" stroke="#333" stroke-width="0.8"/>
<text x="378.3" y="915.9" text-anchor="end" font-size="8.1" fill="#4d4d4d" font-family="Liberation Sans, sans-serif">−100</text>
<text x="382.6" y="771.6" font-size="11.7" fill="#111" font-family="Liberation Sans, sans-serif">H3K4me2</text>
<text transform="translate(357.3,848.6) rotate(-90)" text-anchor="middle" font-size="10" fill="#111" font-family="Liberation Sans, sans-serif">PC 2</text>
<text x="447.6" y="940.2" text-anchor="middle" font-size="10" fill="#111" font-family="Liberation Sans, sans-serif">PC 1</text>
<rect x="555.2" y="778.8" width="130.3" height="139.7" fill="#fff"/>
<line x1="580.9" y1="778.8" x2="580.9" y2="918.5" stroke="#f3f3f3" stroke-width="0.55"/>
<line x1="607.4" y1="778.8" x2="607.4" y2="918.5" stroke="#f3f3f3" stroke-width="0.55"/>
<line x1="633.9" y1="778.8" x2="633.9" y2="918.5" stroke="#f3f3f3" stroke-width="0.55"/>
<line x1="660.4" y1="778.8" x2="660.4" y2="918.5" stroke="#f3f3f3" stroke-width="0.55"/>
<line x1="555.2" y1="781.5" x2="685.5" y2="781.5" stroke="#f3f3f3" stroke-width="0.55"/>
<line x1="555.2" y1="806.0" x2="685.5" y2="806.0" stroke="#f3f3f3" stroke-width="0.55"/>
<line x1="555.2" y1="830.6" x2="685.5" y2="830.6" stroke="#f3f3f3" stroke-width="0.55"/>
<line x1="555.2" y1="855.2" x2="685.5" y2="855.2" stroke="#f3f3f3" stroke-width="0.55"/>
<line x1="555.2" y1="879.8" x2="685.5" y2="879.8" stroke="#f3f3f3" stroke-width="0.55"/>
<line x1="555.2" y1="904.3" x2="685.5" y2="904.3" stroke="#f3f3f3" stroke-width="0.55"/>
<line x1="567.6" y1="778.8" x2="567.6" y2="918.5" stroke="#e6e6e6" stroke-width="0.9"/>
<line x1="594.1" y1="778.8" x2="594.1" y2="918.5" stroke="#e6e6e6" stroke-width="0.9"/>
<line x1="620.6" y1="778.8" x2="620.6" y2="918.5" stroke="#e6e6e6" stroke-width="0.9"/>
<line x1="647.1" y1="778.8" x2="647.1" y2="918.5" stroke="#e6e6e6" stroke-width="0.9"/>
<line x1="673.6" y1="778.8" x2="673.6" y2="918.5" stroke="#e6e6e6" stroke-width="0.9"/>
<line x1="555.2" y1="793.8" x2="685.5" y2="793.8" stroke="#e6e6e6" stroke-width="0.9"/>
<line x1="555.2" y1="818.3" x2="685.5" y2="818.3" stroke="#e6e6e6" stroke-width="0.9"/>
<line x1="555.2" y1="842.9" x2="685.5" y2="842.9" stroke="#e6e6e6" stroke-width="0.9"/>
<line x1="555.2" y1="867.5" x2="685.5" y2="867.5" stroke="#e6e6e6" stroke-width="0.9"/>
<line x1="555.2" y1="892.0" x2="685.5" y2="892.0" stroke="#e6e6e6" stroke-width="0.9"/>
<line x1="555.2" y1="916.6" x2="685.5" y2="916.6" stroke="#e6e6e6" stroke-width="0.9"/>
<circle cx="560.8" cy="784.9" r="2.95" fill="#5dc863"/>
<circle cx="581.5" cy="800.2" r="2.95" fill="#5dc863"/>
<circle cx="565.7" cy="893.0" r="2.95" fill="#5dc863"/>
<circle cx="603.3" cy="902.2" r="2.95" fill="#5dc863"/>
<circle cx="597.9" cy="796.6" r="2.95" fill="#2c7c99"/>
<circle cx="609.6" cy="814.8" r="2.95" fill="#2c7c99"/>
<circle cx="601.5" cy="896.3" r="2.95" fill="#2c7c99"/>
<circle cx="636.0" cy="913.2" r="2.95" fill="#2c7c99"/>
<circle cx="672.0" cy="785.7" r="2.95" fill="#440154"/>
<circle cx="671.5" cy="788.6" r="2.95" fill="#440154"/>
<circle cx="671.5" cy="871.2" r="2.95" fill="#440154"/>
<circle cx="678.6" cy="868.4" r="2.95" fill="#440154"/>
<rect x="555.2" y="778.8" width="130.3" height="139.7" fill="none" stroke="#333" stroke-width="1.0"/>
<line x1="567.6" y1="918.5" x2="567.6" y2="921.5" stroke="#333" stroke-width="0.8"/>
<text x="567.6" y="930.0" text-anchor="middle" font-size="8.1" fill="#4d4d4d" font-family="Liberation Sans, sans-serif">−200</text>
<line x1="594.1" y1="918.5" x2="594.1" y2="921.5" stroke="#333" stroke-width="0.8"/>
<text x="594.1" y="930.0" text-anchor="middle" font-size="8.1" fill="#4d4d4d" font-family="Liberation Sans, sans-serif">−100</text>
<line x1="620.6" y1="918.5" x2="620.6" y2="921.5" stroke="#333" stroke-width="0.8"/>
<text x="620.6" y="930.0" text-anchor="middle" font-size="8.1" fill="#4d4d4d" font-family="Liberation Sans, sans-serif">0</text>
<line x1="647.1" y1="918.5" x2="647.1" y2="921.5" stroke="#333" stroke-width="0.8"/>
<text x="647.1" y="930.0" text-anchor="middle" font-size="8.1" fill="#4d4d4d" font-family="Liberation Sans, sans-serif">100</text>
<line x1="673.6" y1="918.5" x2="673.6" y2="921.5" stroke="#333" stroke-width="0.8"/>
<text x="673.6" y="930.0" text-anchor="middle" font-size="8.1" fill="#4d4d4d" font-family="Liberation Sans, sans-serif">200</text>
<line x1="552.2" y1="793.8" x2="555.2" y2="793.8" stroke="#333" stroke-width="0.8"/>
<text x="550.8" y="796.6" text-anchor="end" font-size="8.1" fill="#4d4d4d" font-family="Liberation Sans, sans-serif">100</text>
<line x1="552.2" y1="818.3" x2="555.2" y2="818.3" stroke="#333" stroke-width="0.8"/>
<text x="550.8" y="821.2" text-anchor="end" font-size="8.1" fill="#4d4d4d" font-family="Liberation Sans, sans-serif">50</text>
<line x1="552.2" y1="842.9" x2="555.2" y2="842.9" stroke="#333" stroke-width="0.8"/>
<text x="550.8" y="845.8" text-anchor="end" font-size="8.1" fill="#4d4d4d" font-family="Liberation Sans, sans-serif">0</text>
<line x1="552.2" y1="867.5" x2="555.2" y2="867.5" stroke="#333" stroke-width="0.8"/>
<text x="550.8" y="870.4" text-anchor="end" font-size="8.1" fill="#4d4d4d" font-family="Liberation Sans, sans-serif">−50</text>
<line x1="552.2" y1="892.0" x2="555.2" y2="892.0" stroke="#333" stroke-width="0.8"/>
<text x="550.8" y="894.9" text-anchor="end" font-size="8.1" fill="#4d4d4d" font-family="Liberation Sans, sans-serif">−100</text>
<line x1="552.2" y1="916.6" x2="555.2" y2="916.6" stroke="#333" stroke-width="0.8"/>
<text x="550.8" y="919.5" text-anchor="end" font-size="8.1" fill="#4d4d4d" font-family="Liberation Sans, sans-serif">−150</text>
<text x="555.1" y="771.6" font-size="11.7" fill="#111" font-family="Liberation Sans, sans-serif">H3K27m3 + H3K4me2</text>
<text transform="translate(528.6,848.6) rotate(-90)" text-anchor="middle" font-size="10" fill="#111" font-family="Liberation Sans, sans-serif">PC 2</text>
<text x="620.4" y="940.2" text-anchor="middle" font-size="10" fill="#111" font-family="Liberation Sans, sans-serif">PC 1</text>
<rect x="35.8" y="980.1" width="131.5" height="140.8" fill="#fff"/>
<line x1="57.3" y1="980.1" x2="57.3" y2="1120.9" stroke="#f3f3f3" stroke-width="0.55"/>
<line x1="88.1" y1="980.1" x2="88.1" y2="1120.9" stroke="#f3f3f3" stroke-width="0.55"/>
<line x1="118.9" y1="980.1" x2="118.9" y2="1120.9" stroke="#f3f3f3" stroke-width="0.55"/>
<line x1="149.7" y1="980.1" x2="149.7" y2="1120.9" stroke="#f3f3f3" stroke-width="0.55"/>
<line x1="35.8" y1="978.3" x2="167.3" y2="978.3" stroke="#f3f3f3" stroke-width="0.55"/>
<line x1="35.8" y1="1006.8" x2="167.3" y2="1006.8" stroke="#f3f3f3" stroke-width="0.55"/>
<line x1="35.8" y1="1035.2" x2="167.3" y2="1035.2" stroke="#f3f3f3" stroke-width="0.55"/>
<line x1="35.8" y1="1063.6" x2="167.3" y2="1063.6" stroke="#f3f3f3" stroke-width="0.55"/>
<line x1="35.8" y1="1092.0" x2="167.3" y2="1092.0" stroke="#f3f3f3" stroke-width="0.55"/>
<line x1="35.8" y1="1120.5" x2="167.3" y2="1120.5" stroke="#f3f3f3" stroke-width="0.55"/>
<line x1="41.9" y1="980.1" x2="41.9" y2="1120.9" stroke="#e6e6e6" stroke-width="0.9"/>
<line x1="72.7" y1="980.1" x2="72.7" y2="1120.9" stroke="#e6e6e6" stroke-width="0.9"/>
<line x1="103.5" y1="980.1" x2="103.5" y2="1120.9" stroke="#e6e6e6" stroke-width="0.9"/>
<line x1="134.3" y1="980.1" x2="134.3" y2="1120.9" stroke="#e6e6e6" stroke-width="0.9"/>
<line x1="165.1" y1="980.1" x2="165.1" y2="1120.9" stroke="#e6e6e6" stroke-width="0.9"/>
<line x1="35.8" y1="992.6" x2="167.3" y2="992.6" stroke="#e6e6e6" stroke-width="0.9"/>
<line x1="35.8" y1="1021.0" x2="167.3" y2="1021.0" stroke="#e6e6e6" stroke-width="0.9"/>
<line x1="35.8" y1="1049.4" x2="167.3" y2="1049.4" stroke="#e6e6e6" stroke-width="0.9"/>
<line x1="35.8" y1="1077.8" x2="167.3" y2="1077.8" stroke="#e6e6e6" stroke-width="0.9"/>
<line x1="35.8" y1="1106.2" x2="167.3" y2="1106.2" stroke="#e6e6e6" stroke-width="0.9"/>
<circle cx="90.7" cy="986.5" r="2.95" fill="#5dc863"/>
<circle cx="74.3" cy="1035.0" r="2.95" fill="#5dc863"/>
<circle cx="41.4" cy="1042.2" r="2.95" fill="#5dc863"/>
<circle cx="91.2" cy="1066.5" r="2.95" fill="#5dc863"/>
<circle cx="155.3" cy="1075.9" r="2.95" fill="#5dc863"/>
<circle cx="101.7" cy="1114.8" r="2.95" fill="#5dc863"/>
<circle cx="132.9" cy="1000.0" r="2.95" fill="#440154"/>
<circle cx="116.2" cy="1009.0" r="2.95" fill="#440154"/>
<circle cx="161.5" cy="1017.9" r="2.95" fill="#440154"/>
<circle cx="97.3" cy="1035.8" r="2.95" fill="#440154"/>
<circle cx="132.9" cy="1037.6" r="2.95" fill="#440154"/>
<circle cx="76.1" cy="1073.6" r="2.95" fill="#440154"/>
<circle cx="49.6" cy="1015.6" r="2.95" fill="#2c7c99"/>
<circle cx="151.8" cy="1040.2" r="2.95" fill="#2c7c99"/>
<circle cx="115.7" cy="1065.7" r="2.95" fill="#2c7c99"/>
<circle cx="57.2" cy="1077.5" r="2.95" fill="#2c7c99"/>
<circle cx="131.6" cy="1090.5" r="2.95" fill="#2c7c99"/>
<circle cx="87.4" cy="1098.4" r="2.95" fill="#2c7c99"/>
<rect x="35.8" y="980.1" width="131.5" height="140.8" fill="none" stroke="#333" stroke-width="1.0"/>
<line x1="41.9" y1="1120.9" x2="41.9" y2="1123.9" stroke="#333" stroke-width="0.8"/>
<text x="41.9" y="1131.6" text-anchor="middle" font-size="8.1" fill="#4d4d4d" font-family="Liberation Sans, sans-serif">−2</text>
<line x1="72.7" y1="1120.9" x2="72.7" y2="1123.9" stroke="#333" stroke-width="0.8"/>
<text x="72.7" y="1131.6" text-anchor="middle" font-size="8.1" fill="#4d4d4d" font-family="Liberation Sans, sans-serif">−1</text>
<line x1="103.5" y1="1120.9" x2="103.5" y2="1123.9" stroke="#333" stroke-width="0.8"/>
<text x="103.5" y="1131.6" text-anchor="middle" font-size="8.1" fill="#4d4d4d" font-family="Liberation Sans, sans-serif">0</text>
<line x1="134.3" y1="1120.9" x2="134.3" y2="1123.9" stroke="#333" stroke-width="0.8"/>
<text x="134.3" y="1131.6" text-anchor="middle" font-size="8.1" fill="#4d4d4d" font-family="Liberation Sans, sans-serif">1</text>
<line x1="165.1" y1="1120.9" x2="165.1" y2="1123.9" stroke="#333" stroke-width="0.8"/>
<text x="165.1" y="1131.6" text-anchor="middle" font-size="8.1" fill="#4d4d4d" font-family="Liberation Sans, sans-serif">2</text>
<line x1="32.8" y1="992.6" x2="35.8" y2="992.6" stroke="#333" stroke-width="0.8"/>
<text x="31.4" y="995.5" text-anchor="end" font-size="8.1" fill="#4d4d4d" font-family="Liberation Sans, sans-serif">1.0</text>
<line x1="32.8" y1="1021.0" x2="35.8" y2="1021.0" stroke="#333" stroke-width="0.8"/>
<text x="31.4" y="1023.9" text-anchor="end" font-size="8.1" fill="#4d4d4d" font-family="Liberation Sans, sans-serif">0.5</text>
<line x1="32.8" y1="1049.4" x2="35.8" y2="1049.4" stroke="#333" stroke-width="0.8"/>
<text x="31.4" y="1052.3" text-anchor="end" font-size="8.1" fill="#4d4d4d" font-family="Liberation Sans, sans-serif">0.0</text>
<line x1="32.8" y1="1077.8" x2="35.8" y2="1077.8" stroke="#333" stroke-width="0.8"/>
<text x="31.4" y="1080.7" text-anchor="end" font-size="8.1" fill="#4d4d4d" font-family="Liberation Sans, sans-serif">−0.5</text>
<line x1="32.8" y1="1106.2" x2="35.8" y2="1106.2" stroke="#333" stroke-width="0.8"/>
<text x="31.4" y="1109.2" text-anchor="end" font-size="8.1" fill="#4d4d4d" font-family="Liberation Sans, sans-serif">−1.0</text>
<text x="35.7" y="973.6" font-size="11.7" fill="#111" font-family="Liberation Sans, sans-serif">RNA−seq</text>
<text transform="translate(11.8,1050.5) rotate(-90)" text-anchor="middle" font-size="10" fill="#111" font-family="Liberation Sans, sans-serif">UMAP 2</text>
<text x="101.6" y="1140.3" text-anchor="middle" font-size="10" fill="#111" font-family="Liberation Sans, sans-serif">UMAP 1</text>
<rect x="201.7" y="980.1" width="138.7" height="140.6" fill="#fff"/>
<line x1="218.6" y1="980.1" x2="218.6" y2="1120.7" stroke="#f3f3f3" stroke-width="0.55"/>
<line x1="256.5" y1="980.1" x2="256.5" y2="1120.7" stroke="#f3f3f3" stroke-width="0.55"/>
<line x1="294.5" y1="980.1" x2="294.5" y2="1120.7" stroke="#f3f3f3" stroke-width="0.55"/>
<line x1="332.4" y1="980.1" x2="332.4" y2="1120.7" stroke="#f3f3f3" stroke-width="0.55"/>
<line x1="201.7" y1="1003.0" x2="340.4" y2="1003.0" stroke="#f3f3f3" stroke-width="0.55"/>
<line x1="201.7" y1="1033.8" x2="340.4" y2="1033.8" stroke="#f3f3f3" stroke-width="0.55"/>
<line x1="201.7" y1="1064.4" x2="340.4" y2="1064.4" stroke="#f3f3f3" stroke-width="0.55"/>
<line x1="201.7" y1="1095.1" x2="340.4" y2="1095.1" stroke="#f3f3f3" stroke-width="0.55"/>
<line x1="237.6" y1="980.1" x2="237.6" y2="1120.7" stroke="#e6e6e6" stroke-width="0.9"/>
<line x1="275.5" y1="980.1" x2="275.5" y2="1120.7" stroke="#e6e6e6" stroke-width="0.9"/>
<line x1="313.4" y1="980.1" x2="313.4" y2="1120.7" stroke="#e6e6e6" stroke-width="0.9"/>
<line x1="201.7" y1="987.7" x2="340.4" y2="987.7" stroke="#e6e6e6" stroke-width="0.9"/>
<line x1="201.7" y1="1018.4" x2="340.4" y2="1018.4" stroke="#e6e6e6" stroke-width="0.9"/>
<line x1="201.7" y1="1049.1" x2="340.4" y2="1049.1" stroke="#e6e6e6" stroke-width="0.9"/>
<line x1="201.7" y1="1079.8" x2="340.4" y2="1079.8" stroke="#e6e6e6" stroke-width="0.9"/>
<line x1="201.7" y1="1110.5" x2="340.4" y2="1110.5" stroke="#e6e6e6" stroke-width="0.9"/>
<circle cx="306.2" cy="986.5" r="2.95" fill="#5dc863"/>
<circle cx="207.8" cy="1012.3" r="2.95" fill="#5dc863"/>
<circle cx="263.3" cy="1017.2" r="2.95" fill="#5dc863"/>
<circle cx="333.8" cy="1027.9" r="2.95" fill="#5dc863"/>
<circle cx="289.8" cy="1001.9" r="2.95" fill="#2c7c99"/>
<circle cx="217.0" cy="1034.3" r="2.95" fill="#2c7c99"/>
<circle cx="267.9" cy="1042.0" r="2.95" fill="#2c7c99"/>
<circle cx="328.9" cy="1054.2" r="2.95" fill="#2c7c99"/>
<circle cx="239.7" cy="1093.8" r="2.95" fill="#440154"/>
<circle cx="289.1" cy="1092.3" r="2.95" fill="#440154"/>
<circle cx="253.5" cy="1114.8" r="2.95" fill="#440154"/>
<circle cx="308.7" cy="1110.7" r="2.95" fill="#440154"/>
<rect x="201.7" y="980.1" width="138.7" height="140.6" fill="none" stroke="#333" stroke-width="1.0"/>
<line x1="237.6" y1="1120.7" x2="237.6" y2="1123.7" stroke="#333" stroke-width="0.8"/>
<text x="237.6" y="1131.6" text-anchor="middle" font-size="8.1" fill="#4d4d4d" font-family="Liberation Sans, sans-serif">−0.5</text>
<line x1="275.5" y1="1120.7" x2="275.5" y2="1123.7" stroke="#333" stroke-width="0.8"/>
<text x="275.5" y="1131.6" text-anchor="middle" font-size="8.1" fill="#4d4d4d" font-family="Liberation Sans, sans-serif">0.0</text>
<line x1="313.4" y1="1120.7" x2="313.4" y2="1123.7" stroke="#333" stroke-width="0.8"/>
<text x="313.4" y="1131.6" text-anchor="middle" font-size="8.1" fill="#4d4d4d" font-family="Liberation Sans, sans-serif">0.5</text>
<line x1="198.7" y1="987.7" x2="201.7" y2="987.7" stroke="#333" stroke-width="0.8"/>
<text x="197.3" y="990.6" text-anchor="end" font-size="8.1" fill="#4d4d4d" font-family="Liberation Sans, sans-serif">2</text>
<line x1="198.7" y1="1018.4" x2="201.7" y2="1018.4" stroke="#333" stroke-width="0.8"/>
<text x="197.3" y="1021.3" text-anchor="end" font-size="8.1" fill="#4d4d4d" font-family="Liberation Sans, sans-serif">1</text>
<line x1="198.7" y1="1049.1" x2="201.7" y2="1049.1" stroke="#333" stroke-width="0.8"/>
<text x="197.3" y="1052.0" text-anchor="end" font-size="8.1" fill="#4d4d4d" font-family="Liberation Sans, sans-serif">0</text>
<line x1="198.7" y1="1079.8" x2="201.7" y2="1079.8" stroke="#333" stroke-width="0.8"/>
<text x="197.3" y="1082.7" text-anchor="end" font-size="8.1" fill="#4d4d4d" font-family="Liberation Sans, sans-serif">−1</text>
<line x1="198.7" y1="1110.5" x2="201.7" y2="1110.5" stroke="#333" stroke-width="0.8"/>
<text x="197.3" y="1113.4" text-anchor="end" font-size="8.1" fill="#4d4d4d" font-family="Liberation Sans, sans-serif">−2</text>
<text x="201.6" y="973.6" font-size="11.7" fill="#111" font-family="Liberation Sans, sans-serif">H3K27me3</text>
<text transform="translate(184.8,1050.4) rotate(-90)" text-anchor="middle" font-size="10" fill="#111" font-family="Liberation Sans, sans-serif">UMAP 2</text>
<text x="271.0" y="1140.3" text-anchor="middle" font-size="10" fill="#111" font-family="Liberation Sans, sans-serif">UMAP 1</text>
<rect x="380.4" y="980.5" width="132.1" height="139.7" fill="#fff"/>
<line x1="388.5" y1="980.5" x2="388.5" y2="1120.2" stroke="#f3f3f3" stroke-width="0.55"/>
<line x1="411.7" y1="980.5" x2="411.7" y2="1120.2" stroke="#f3f3f3" stroke-width="0.55"/>
<line x1="434.9" y1="980.5" x2="434.9" y2="1120.2" stroke="#f3f3f3" stroke-width="0.55"/>
<line x1="458.1" y1="980.5" x2="458.1" y2="1120.2" stroke="#f3f3f3" stroke-width="0.55"/>
<line x1="481.3" y1="980.5" x2="481.3" y2="1120.2" stroke="#f3f3f3" stroke-width="0.55"/>
<line x1="504.5" y1="980.5" x2="504.5" y2="1120.2" stroke="#f3f3f3" stroke-width="0.55"/>
<line x1="380.4" y1="984.5" x2="512.5" y2="984.5" stroke="#f3f3f3" stroke-width="0.55"/>
<line x1="380.4" y1="1010.1" x2="512.5" y2="1010.1" stroke="#f3f3f3" stroke-width="0.55"/>
<line x1="380.4" y1="1035.6" x2="512.5" y2="1035.6" stroke="#f3f3f3" stroke-width="0.55"/>
<line x1="380.4" y1="1061.2" x2="512.5" y2="1061.2" stroke="#f3f3f3" stroke-width="0.55"/>
<line x1="380.4" y1="1086.7" x2="512.5" y2="1086.7" stroke="#f3f3f3" stroke-width="0.55"/>
<line x1="380.4" y1="1112.3" x2="512.5" y2="1112.3" stroke="#f3f3f3" stroke-width="0.55"/>
<line x1="400.1" y1="980.5" x2="400.1" y2="1120.2" stroke="#e6e6e6" stroke-width="0.9"/>
<line x1="423.3" y1="980.5" x2="423.3" y2="1120.2" stroke="#e6e6e6" stroke-width="0.9"/>
<line x1="446.5" y1="980.5" x2="446.5" y2="1120.2" stroke="#e6e6e6" stroke-width="0.9"/>
<line x1="469.7" y1="980.5" x2="469.7" y2="1120.2" stroke="#e6e6e6" stroke-width="0.9"/>
<line x1="492.9" y1="980.5" x2="492.9" y2="1120.2" stroke="#e6e6e6" stroke-width="0.9"/>
<line x1="380.4" y1="997.3" x2="512.5" y2="997.3" stroke="#e6e6e6" stroke-width="0.9"/>
<line x1="380.4" y1="1022.9" x2="512.5" y2="1022.9" stroke="#e6e6e6" stroke-width="0.9"/>
<line x1="380.4" y1="1048.4" x2="512.5" y2="1048.4" stroke="#e6e6e6" stroke-width="0.9"/>
<line x1="380.4" y1="1074.0" x2="512.5" y2="1074.0" stroke="#e6e6e6" stroke-width="0.9"/>
<line x1="380.4" y1="1099.5" x2="512.5" y2="1099.5" stroke="#e6e6e6" stroke-width="0.9"/>
<circle cx="405.7" cy="986.4" r="2.95" fill="#440154"/>
<circle cx="430.7" cy="1001.7" r="2.95" fill="#440154"/>
<circle cx="386.0" cy="1024.7" r="2.95" fill="#440154"/>
<circle cx="413.6" cy="1034.1" r="2.95" fill="#440154"/>
<circle cx="466.2" cy="1008.3" r="2.95" fill="#2c7c99"/>
<circle cx="476.9" cy="1046.6" r="2.95" fill="#2c7c99"/>
<circle cx="447.6" cy="1069.9" r="2.95" fill="#2c7c99"/>
<circle cx="411.8" cy="1083.4" r="2.95" fill="#2c7c99"/>
<circle cx="506.3" cy="1027.7" r="2.95" fill="#5dc863"/>
<circle cx="499.2" cy="1080.4" r="2.95" fill="#5dc863"/>
<circle cx="474.6" cy="1105.2" r="2.95" fill="#5dc863"/>
<circle cx="437.1" cy="1114.6" r="2.95" fill="#5dc863"/>
<rect x="380.4" y="980.5" width="132.1" height="139.7" fill="none" stroke="#333" stroke-width="1.0"/>
<line x1="400.1" y1="1120.2" x2="400.1" y2="1123.2" stroke="#333" stroke-width="0.8"/>
<text x="400.1" y="1131.6" text-anchor="middle" font-size="8.1" fill="#4d4d4d" font-family="Liberation Sans, sans-serif">−1.0</text>
<line x1="423.3" y1="1120.2" x2="423.3" y2="1123.2" stroke="#333" stroke-width="0.8"/>
<text x="423.3" y="1131.6" text-anchor="middle" font-size="8.1" fill="#4d4d4d" font-family="Liberation Sans, sans-serif">−0.5</text>
<line x1="446.5" y1="1120.2" x2="446.5" y2="1123.2" stroke="#333" stroke-width="0.8"/>
<text x="446.5" y="1131.6" text-anchor="middle" font-size="8.1" fill="#4d4d4d" font-family="Liberation Sans, sans-serif">0.0</text>
<line x1="469.7" y1="1120.2" x2="469.7" y2="1123.2" stroke="#333" stroke-width="0.8"/>
<text x="469.7" y="1131.6" text-anchor="middle" font-size="8.1" fill="#4d4d4d" font-family="Liberation Sans, sans-serif">0.5</text>
<line x1="492.9" y1="1120.2" x2="492.9" y2="1123.2" stroke="#333" stroke-width="0.8"/>
<text x="492.9" y="1131.6" text-anchor="middle" font-size="8.1" fill="#4d4d4d" font-family="Liberation Sans, sans-serif">1.0</text>
<line x1="377.4" y1="997.3" x2="380.4" y2="997.3" stroke="#333" stroke-width="0.8"/>
<text x="376.0" y="1000.2" text-anchor="end" font-size="8.1" fill="#4d4d4d" font-family="Liberation Sans, sans-serif">1.0</text>
<line x1="377.4" y1="1022.9" x2="380.4" y2="1022.9" stroke="#333" stroke-width="0.8"/>
<text x="376.0" y="1025.8" text-anchor="end" font-size="8.1" fill="#4d4d4d" font-family="Liberation Sans, sans-serif">0.5</text>
<line x1="377.4" y1="1048.4" x2="380.4" y2="1048.4" stroke="#333" stroke-width="0.8"/>
<text x="376.0" y="1051.3" text-anchor="end" font-size="8.1" fill="#4d4d4d" font-family="Liberation Sans, sans-serif">0.0</text>
<line x1="377.4" y1="1074.0" x2="380.4" y2="1074.0" stroke="#333" stroke-width="0.8"/>
<text x="376.0" y="1076.9" text-anchor="end" font-size="8.1" fill="#4d4d4d" font-family="Liberation Sans, sans-serif">−0.5</text>
<line x1="377.4" y1="1099.5" x2="380.4" y2="1099.5" stroke="#333" stroke-width="0.8"/>
<text x="376.0" y="1102.4" text-anchor="end" font-size="8.1" fill="#4d4d4d" font-family="Liberation Sans, sans-serif">−1.0</text>
<text x="380.3" y="973.6" font-size="11.7" fill="#111" font-family="Liberation Sans, sans-serif">H3K4me2</text>
<text transform="translate(357.3,1050.3) rotate(-90)" text-anchor="middle" font-size="10" fill="#111" font-family="Liberation Sans, sans-serif">UMAP 2</text>
<text x="446.4" y="1140.3" text-anchor="middle" font-size="10" fill="#111" font-family="Liberation Sans, sans-serif">UMAP 1</text>
<rect x="552.7" y="980.5" width="132.8" height="139.7" fill="#fff"/>
<line x1="571.4" y1="980.5" x2="571.4" y2="1120.2" stroke="#f3f3f3" stroke-width="0.55"/>
<line x1="607.1" y1="980.5" x2="607.1" y2="1120.2" stroke="#f3f3f3" stroke-width="0.55"/>
<line x1="642.9" y1="980.5" x2="642.9" y2="1120.2" stroke="#f3f3f3" stroke-width="0.55"/>
<line x1="678.6" y1="980.5" x2="678.6" y2="1120.2" stroke="#f3f3f3" stroke-width="0.55"/>
<line x1="552.7" y1="1006.9" x2="685.5" y2="1006.9" stroke="#f3f3f3" stroke-width="0.55"/>
<line x1="552.7" y1="1035.8" x2="685.5" y2="1035.8" stroke="#f3f3f3" stroke-width="0.55"/>
<line x1="552.7" y1="1064.6" x2="685.5" y2="1064.6" stroke="#f3f3f3" stroke-width="0.55"/>
<line x1="552.7" y1="1093.5" x2="685.5" y2="1093.5" stroke="#f3f3f3" stroke-width="0.55"/>
<line x1="589.2" y1="980.5" x2="589.2" y2="1120.2" stroke="#e6e6e6" stroke-width="0.9"/>
<line x1="625.0" y1="980.5" x2="625.0" y2="1120.2" stroke="#e6e6e6" stroke-width="0.9"/>
<line x1="660.8" y1="980.5" x2="660.8" y2="1120.2" stroke="#e6e6e6" stroke-width="0.9"/>
<line x1="552.7" y1="992.5" x2="685.5" y2="992.5" stroke="#e6e6e6" stroke-width="0.9"/>
<line x1="552.7" y1="1021.3" x2="685.5" y2="1021.3" stroke="#e6e6e6" stroke-width="0.9"/>
<line x1="552.7" y1="1050.2" x2="685.5" y2="1050.2" stroke="#e6e6e6" stroke-width="0.9"/>
<line x1="552.7" y1="1079.1" x2="685.5" y2="1079.1" stroke="#e6e6e6" stroke-width="0.9"/>
<line x1="552.7" y1="1108.0" x2="685.5" y2="1108.0" stroke="#e6e6e6" stroke-width="0.9"/>
<circle cx="577.7" cy="986.4" r="2.95" fill="#440154"/>
<circle cx="583.1" cy="1017.3" r="2.95" fill="#440154"/>
<circle cx="558.5" cy="1028.8" r="2.95" fill="#440154"/>
<circle cx="580.5" cy="1053.8" r="2.95" fill="#440154"/>
<circle cx="616.8" cy="1025.2" r="2.95" fill="#2c7c99"/>
<circle cx="645.7" cy="1032.9" r="2.95" fill="#2c7c99"/>
<circle cx="650.3" cy="1086.8" r="2.95" fill="#2c7c99"/>
<circle cx="642.6" cy="1114.6" r="2.95" fill="#2c7c99"/>
<circle cx="667.6" cy="1017.0" r="2.95" fill="#5dc863"/>
<circle cx="678.6" cy="1061.0" r="2.95" fill="#5dc863"/>
<circle cx="620.4" cy="1075.3" r="2.95" fill="#5dc863"/>
<circle cx="673.8" cy="1102.3" r="2.95" fill="#5dc863"/>
<rect x="552.7" y="980.5" width="132.8" height="139.7" fill="none" stroke="#333" stroke-width="1.0"/>
<line x1="589.2" y1="1120.2" x2="589.2" y2="1123.2" stroke="#333" stroke-width="0.8"/>
<text x="589.2" y="1131.6" text-anchor="middle" font-size="8.1" fill="#4d4d4d" font-family="Liberation Sans, sans-serif">−1</text>
<line x1="625.0" y1="1120.2" x2="625.0" y2="1123.2" stroke="#333" stroke-width="0.8"/>
<text x="625.0" y="1131.6" text-anchor="middle" font-size="8.1" fill="#4d4d4d" font-family="Liberation Sans, sans-serif">0</text>
<line x1="660.8" y1="1120.2" x2="660.8" y2="1123.2" stroke="#333" stroke-width="0.8"/>
<text x="660.8" y="1131.6" text-anchor="middle" font-size="8.1" fill="#4d4d4d" font-family="Liberation Sans, sans-serif">1</text>
<line x1="549.7" y1="992.5" x2="552.7" y2="992.5" stroke="#333" stroke-width="0.8"/>
<text x="548.3" y="995.4" text-anchor="end" font-size="8.1" fill="#4d4d4d" font-family="Liberation Sans, sans-serif">1.0</text>
<line x1="549.7" y1="1021.3" x2="552.7" y2="1021.3" stroke="#333" stroke-width="0.8"/>
<text x="548.3" y="1024.2" text-anchor="end" font-size="8.1" fill="#4d4d4d" font-family="Liberation Sans, sans-serif">0.5</text>
<line x1="549.7" y1="1050.2" x2="552.7" y2="1050.2" stroke="#333" stroke-width="0.8"/>
<text x="548.3" y="1053.1" text-anchor="end" font-size="8.1" fill="#4d4d4d" font-family="Liberation Sans, sans-serif">0.0</text>
<line x1="549.7" y1="1079.1" x2="552.7" y2="1079.1" stroke="#333" stroke-width="0.8"/>
<text x="548.3" y="1082.0" text-anchor="end" font-size="8.1" fill="#4d4d4d" font-family="Liberation Sans, sans-serif">−0.5</text>
<line x1="549.7" y1="1108.0" x2="552.7" y2="1108.0" stroke="#333" stroke-width="0.8"/>
<text x="548.3" y="1110.9" text-anchor="end" font-size="8.1" fill="#4d4d4d" font-family="Liberation Sans, sans-serif">−1.0</text>
<text x="552.6" y="973.6" font-size="11.7" fill="#111" font-family="Liberation Sans, sans-serif">H3K27me3 + H3K4me2</text>
<text transform="translate(528.6,1050.3) rotate(-90)" text-anchor="middle" font-size="10" fill="#111" font-family="Liberation Sans, sans-serif">UMAP 2</text>
<text x="619.1" y="1140.3" text-anchor="middle" font-size="10" fill="#111" font-family="Liberation Sans, sans-serif">UMAP 1</text>
<circle cx="312.0" cy="749.5" r="2.9" fill="#440154"/>
<text x="320.4" y="752.4" font-size="8" fill="#000" font-family="Liberation Sans, sans-serif">N</text>
<circle cx="335.0" cy="749.5" r="2.9" fill="#2c7c99"/>
<text x="343.6" y="752.4" font-size="8" fill="#000" font-family="Liberation Sans, sans-serif">CM</text>
<circle cx="365.7" cy="749.5" r="2.9" fill="#5dc863"/>
<text x="374.5" y="752.4" font-size="8" fill="#000" font-family="Liberation Sans, sans-serif">EM</text>
<circle cx="312.0" cy="951.1" r="2.9" fill="#440154"/>
<text x="320.4" y="954.0" font-size="8" fill="#000" font-family="Liberation Sans, sans-serif">N</text>
<circle cx="335.0" cy="951.1" r="2.9" fill="#2c7c99"/>
<text x="343.6" y="954.0" font-size="8" fill="#000" font-family="Liberation Sans, sans-serif">CM</text>
<circle cx="365.7" cy="951.1" r="2.9" fill="#5dc863"/>
<text x="374.5" y="954.0" font-size="8" fill="#000" font-family="Liberation Sans, sans-serif">EM</text>
<text x="-0.4" y="750.6" font-weight="bold" font-size="14.2" font-family="Liberation Sans, sans-serif">D</text>
<text x="-0.4" y="951.8" font-weight="bold" font-size="14.2" font-family="Liberation Sans, sans-serif">E</text>
</svg></body></html>
